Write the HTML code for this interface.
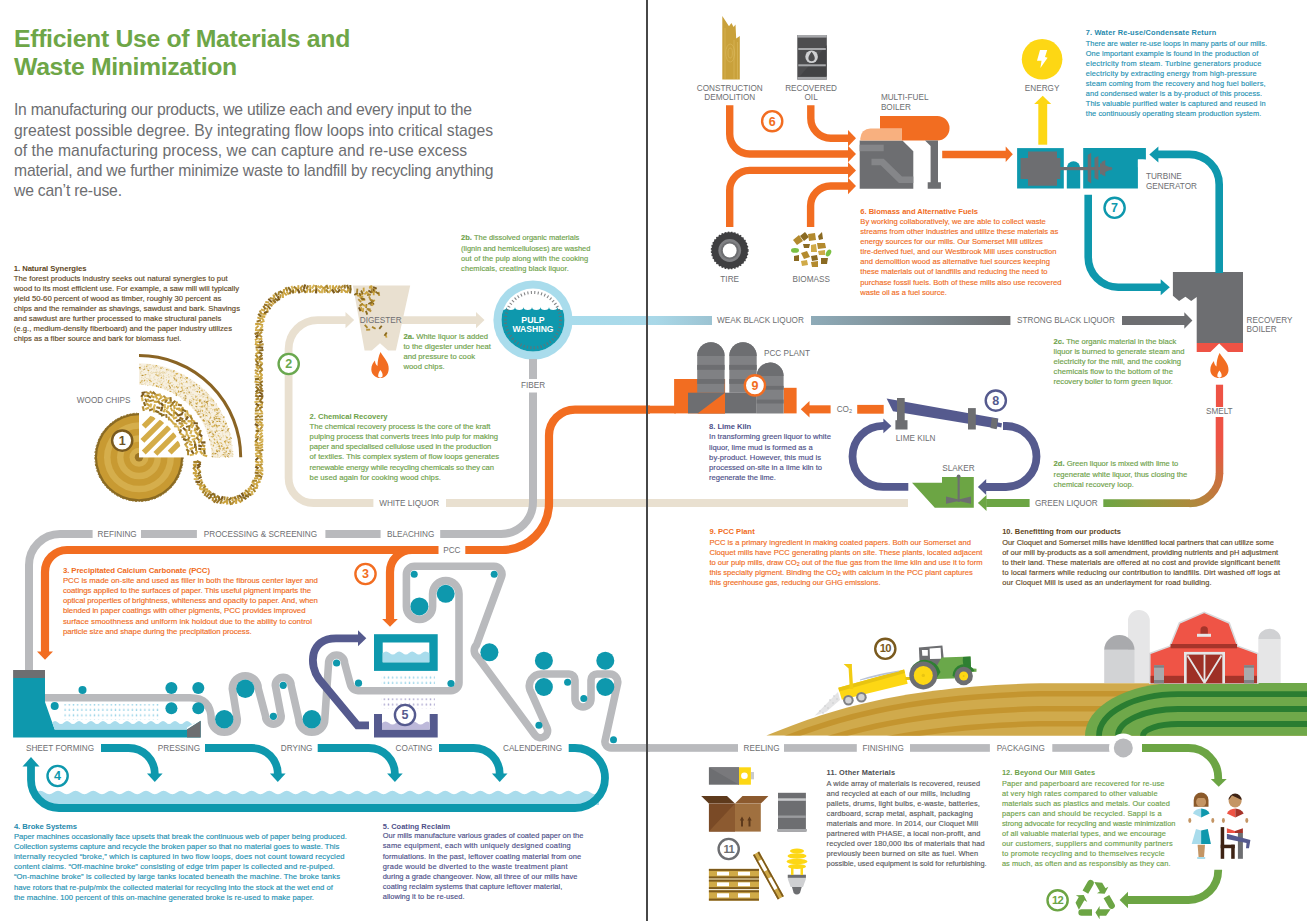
<!DOCTYPE html>
<html><head><meta charset="utf-8"><title>Efficient Use of Materials and Waste Minimization</title>
<style>
html,body{margin:0;padding:0;background:#fff}
body{width:1307px;height:921px;overflow:hidden;position:relative;font-family:"Liberation Sans",sans-serif}
svg{position:absolute;left:0;top:0;display:block}
.lb{font-family:"Liberation Sans",sans-serif;font-size:8.2px;fill:#6d6e71}
.tx{font-family:"Liberation Sans",sans-serif}
.hd{font-weight:bold}
</style></head><body>
<svg width="1307" height="921" viewBox="0 0 1307 921">
<defs>
  <pattern id="drops" width="4.2" height="5.4" patternUnits="userSpaceOnUse">
    <rect x="1.4" y="1.3" width="1.4" height="2.4" rx="0.6" fill="#9fd6e9"/>
  </pattern>
  <pattern id="pdrops" width="4.2" height="5.4" patternUnits="userSpaceOnUse">
    <rect x="1.4" y="1.3" width="1.4" height="2.4" rx="0.6" fill="#b3aed3"/>
  </pattern>
  <linearGradient id="wbl" x1="572" y1="0" x2="712" y2="0" gradientUnits="userSpaceOnUse">
    <stop offset="0" stop-color="#a9dcec"/><stop offset="0.6" stop-color="#a9d8e8"/><stop offset="1" stop-color="#9cc3d2"/>
  </linearGradient>
  <linearGradient id="sbl" x1="811" y1="0" x2="1010" y2="0" gradientUnits="userSpaceOnUse">
    <stop offset="0" stop-color="#8eabb8"/><stop offset="1" stop-color="#6f7072"/>
  </linearGradient>
  <linearGradient id="gl" x1="1103" y1="0" x2="1190" y2="0" gradientUnits="userSpaceOnUse">
    <stop offset="0" stop-color="#6ca544"/><stop offset="0.5" stop-color="#8f9a3e"/><stop offset="1" stop-color="#ad8a3c"/>
  </linearGradient>
  <linearGradient id="gc" x1="1219.5" y1="473.5" x2="1189.5" y2="503.5" gradientUnits="userSpaceOnUse">
    <stop offset="0" stop-color="#cf6d3e"/><stop offset="1" stop-color="#ad8a3c"/>
  </linearGradient>
  <linearGradient id="smelt" x1="0" y1="474" x2="0" y2="445" gradientUnits="userSpaceOnUse">
    <stop offset="0" stop-color="#cf6d3e"/><stop offset="1" stop-color="#ee5345"/>
  </linearGradient>
</defs>


<!-- ============ LEFT HALF GRAPHICS ============ -->
<g id="left">
  <!-- beige white liquor loop -->
  <g fill="none" stroke="#e9e0d0" stroke-width="7.8">
    <path d="M346 320.1 H317.6 A29 29 0 0 0 288.6 349.1 V478 A25 25 0 0 0 313.6 503 H373.4"/>
    <path d="M446 503 H908"/>
    <path d="M400 320.1 H477"/>
  </g>
  <path d="M345.5 312 L354.2 320.1 L345.5 328.2 Z" fill="#e9e0d0"/>
  <path d="M476 312 L484.5 320.1 L476 328.2 Z" fill="#e9e0d0"/>

  <!-- digester -->
  <path d="M352.9 285.4 H410.2 L395.9 350.5 H388.1 L380 343.2 L371.8 350.5 H364.6 Z" fill="#e9e0d0"/>

  <!-- chip stream -->
  <g id="stream"><!--STREAM-->
<rect x="196.5" y="460.9" width="4.6" height="2.3" fill="#9a7424" transform="rotate(207 198.8 462.0)"/>
<rect x="193.2" y="460.9" width="4.7" height="2.2" fill="#a8842a" transform="rotate(176 195.6 462.0)"/>
<rect x="196.8" y="463.6" width="4.3" height="2.1" fill="#7d5a1c" transform="rotate(152 198.9 464.7)"/>
<rect x="192.9" y="463.5" width="4.0" height="2.2" fill="#caa13c" transform="rotate(170 194.9 464.7)"/>
<rect x="196.4" y="466.4" width="4.4" height="2.0" fill="#7d5a1c" transform="rotate(140 198.6 467.3)"/>
<rect x="192.3" y="466.2" width="4.6" height="2.3" fill="#a8842a" transform="rotate(126 194.6 467.3)"/>
<rect x="196.9" y="469.3" width="4.3" height="2.2" fill="#d6b457" transform="rotate(230 199.1 470.3)"/>
<rect x="193.4" y="469.2" width="4.0" height="2.3" fill="#caa13c" transform="rotate(231 195.4 470.4)"/>
<rect x="197.2" y="471.9" width="3.9" height="1.9" fill="#8a6a1f" transform="rotate(137 199.2 472.9)"/>
<rect x="192.8" y="472.2" width="4.4" height="2.2" fill="#c9a23e" transform="rotate(184 195.0 473.3)"/>
<rect x="197.1" y="474.5" width="4.1" height="2.1" fill="#a8842a" transform="rotate(167 199.1 475.5)"/>
<rect x="194.2" y="475.0" width="3.8" height="2.2" fill="#caa13c" transform="rotate(221 196.1 476.1)"/>
<rect x="197.5" y="477.0" width="4.4" height="1.9" fill="#7d5a1c" transform="rotate(150 199.7 477.9)"/>
<rect x="193.7" y="478.0" width="4.8" height="1.9" fill="#d6b457" transform="rotate(178 196.1 479.0)"/>
<rect x="198.4" y="479.7" width="4.2" height="2.1" fill="#d0aa48" transform="rotate(142 200.5 480.8)"/>
<rect x="195.4" y="480.7" width="4.6" height="2.2" fill="#7d5a1c" transform="rotate(186 197.7 481.8)"/>
<rect x="199.4" y="482.2" width="4.3" height="2.0" fill="#a8842a" transform="rotate(121 201.5 483.2)"/>
<rect x="196.5" y="483.6" width="4.3" height="2.0" fill="#b8923a" transform="rotate(200 198.7 484.6)"/>
<rect x="200.7" y="484.4" width="4.5" height="2.0" fill="#d0aa48" transform="rotate(162 203.0 485.4)"/>
<rect x="197.9" y="486.0" width="4.8" height="2.1" fill="#caa13c" transform="rotate(99 200.3 487.1)"/>
<rect x="202.4" y="486.4" width="4.1" height="2.2" fill="#a8842a" transform="rotate(126 204.4 487.4)"/>
<rect x="200.0" y="488.2" width="3.8" height="2.1" fill="#d6b457" transform="rotate(189 201.9 489.3)"/>
<rect x="203.8" y="488.3" width="4.4" height="2.2" fill="#c9a23e" transform="rotate(188 206.0 489.4)"/>
<rect x="201.6" y="490.5" width="3.9" height="2.1" fill="#a8842a" transform="rotate(125 203.6 491.5)"/>
<rect x="205.3" y="490.5" width="4.8" height="2.1" fill="#d0aa48" transform="rotate(172 207.7 491.5)"/>
<rect x="203.2" y="493.0" width="4.1" height="2.1" fill="#a8842a" transform="rotate(113 205.3 494.1)"/>
<rect x="207.7" y="491.9" width="4.0" height="2.3" fill="#b8923a" transform="rotate(132 209.7 493.0)"/>
<rect x="205.6" y="494.5" width="4.3" height="2.1" fill="#9a7424" transform="rotate(128 207.7 495.5)"/>
<rect x="209.6" y="493.5" width="4.5" height="2.2" fill="#8a6a1f" transform="rotate(154 211.9 494.6)"/>
<rect x="208.0" y="496.3" width="4.1" height="2.1" fill="#8a6a1f" transform="rotate(146 210.0 497.4)"/>
<rect x="212.3" y="494.6" width="4.7" height="2.1" fill="#8a6a1f" transform="rotate(82 214.6 495.6)"/>
<rect x="210.8" y="497.9" width="4.1" height="2.1" fill="#b8923a" transform="rotate(93 212.8 499.0)"/>
<rect x="214.5" y="496.0" width="4.6" height="2.0" fill="#a8842a" transform="rotate(139 216.8 497.0)"/>
<rect x="212.9" y="499.6" width="4.8" height="2.3" fill="#9a7424" transform="rotate(133 215.3 500.7)"/>
<rect x="217.0" y="497.1" width="4.2" height="2.2" fill="#8a6a1f" transform="rotate(74 219.1 498.2)"/>
<rect x="215.7" y="500.6" width="4.5" height="2.0" fill="#9a7424" transform="rotate(132 218.0 501.5)"/>
<rect x="219.6" y="497.3" width="4.6" height="2.2" fill="#7d5a1c" transform="rotate(116 221.9 498.4)"/>
<rect x="218.9" y="500.9" width="4.4" height="2.0" fill="#a8842a" transform="rotate(112 221.1 501.9)"/>
<rect x="222.6" y="497.5" width="4.0" height="1.9" fill="#a8842a" transform="rotate(94 224.6 498.4)"/>
<rect x="222.0" y="501.2" width="4.3" height="2.1" fill="#caa13c" transform="rotate(148 224.2 502.3)"/>
<rect x="225.0" y="498.0" width="4.4" height="2.0" fill="#b8923a" transform="rotate(104 227.2 499.0)"/>
<rect x="225.1" y="501.4" width="4.1" height="2.1" fill="#c9a23e" transform="rotate(81 227.1 502.4)"/>
<rect x="227.8" y="498.1" width="4.3" height="2.0" fill="#8a6a1f" transform="rotate(137 230.0 499.1)"/>
<rect x="228.1" y="501.7" width="4.4" height="2.3" fill="#a8842a" transform="rotate(68 230.3 502.9)"/>
<rect x="230.6" y="498.1" width="4.2" height="2.0" fill="#caa13c" transform="rotate(97 232.7 499.0)"/>
<rect x="230.8" y="501.5" width="4.8" height="2.1" fill="#b8923a" transform="rotate(131 233.2 502.5)"/>
<rect x="233.3" y="497.2" width="4.1" height="2.3" fill="#9a7424" transform="rotate(62 235.4 498.3)"/>
<rect x="233.9" y="500.5" width="4.7" height="2.1" fill="#caa13c" transform="rotate(90 236.2 501.5)"/>
<rect x="235.9" y="496.2" width="4.5" height="2.1" fill="#a8842a" transform="rotate(67 238.1 497.3)"/>
<rect x="237.1" y="499.9" width="4.8" height="2.1" fill="#caa13c" transform="rotate(43 239.5 500.9)"/>
<rect x="238.2" y="495.8" width="4.7" height="2.0" fill="#7d5a1c" transform="rotate(44 240.6 496.7)"/>
<rect x="239.7" y="498.4" width="4.2" height="2.0" fill="#a8842a" transform="rotate(78 241.8 499.4)"/>
<rect x="240.6" y="493.4" width="4.1" height="2.3" fill="#7d5a1c" transform="rotate(63 242.6 494.6)"/>
<rect x="242.7" y="496.9" width="4.0" height="2.3" fill="#8a6a1f" transform="rotate(34 244.7 498.0)"/>
<rect x="243.1" y="492.8" width="4.7" height="2.3" fill="#c9a23e" transform="rotate(56 245.4 493.9)"/>
<rect x="245.0" y="495.1" width="4.1" height="2.2" fill="#8a6a1f" transform="rotate(13 247.1 496.2)"/>
<rect x="244.7" y="490.3" width="4.5" height="2.2" fill="#a8842a" transform="rotate(32 247.0 491.4)"/>
<rect x="247.4" y="493.2" width="4.3" height="2.3" fill="#9a7424" transform="rotate(21 249.5 494.3)"/>
<rect x="246.9" y="488.9" width="4.4" height="2.2" fill="#d0aa48" transform="rotate(77 249.1 490.0)"/>
<rect x="250.0" y="491.8" width="4.3" height="2.2" fill="#d6b457" transform="rotate(81 252.1 492.9)"/>
<rect x="248.9" y="486.9" width="4.1" height="1.9" fill="#caa13c" transform="rotate(66 250.9 487.8)"/>
<rect x="251.9" y="489.2" width="4.3" height="2.0" fill="#a8842a" transform="rotate(54 254.0 490.2)"/>
<rect x="250.5" y="484.7" width="4.1" height="2.0" fill="#9a7424" transform="rotate(32 252.6 485.7)"/>
<rect x="254.0" y="486.8" width="4.0" height="2.2" fill="#c9a23e" transform="rotate(-15 256.0 487.9)"/>
<rect x="251.1" y="481.9" width="4.8" height="2.3" fill="#d0aa48" transform="rotate(52 253.5 483.1)"/>
<rect x="254.9" y="483.8" width="4.0" height="2.2" fill="#c9a23e" transform="rotate(65 256.9 484.8)"/>
<rect x="252.3" y="479.7" width="4.7" height="2.0" fill="#a8842a" transform="rotate(-1 254.7 480.6)"/>
<rect x="256.3" y="481.2" width="4.4" height="1.9" fill="#c9a23e" transform="rotate(-16 258.5 482.2)"/>
<rect x="254.0" y="477.3" width="4.4" height="1.9" fill="#caa13c" transform="rotate(-8 256.2 478.2)"/>
<rect x="257.8" y="478.3" width="4.2" height="2.0" fill="#d0aa48" transform="rotate(-24 259.9 479.4)"/>
<rect x="255.1" y="474.6" width="3.9" height="2.2" fill="#a8842a" transform="rotate(-3 257.0 475.7)"/>
<rect x="258.3" y="475.2" width="4.1" height="2.3" fill="#9a7424" transform="rotate(31 260.4 476.3)"/>
<rect x="254.7" y="471.8" width="4.1" height="2.2" fill="#9a7424" transform="rotate(11 256.7 472.9)"/>
<rect x="258.9" y="472.3" width="4.7" height="2.1" fill="#caa13c" transform="rotate(40 261.2 473.3)"/>
<rect x="255.4" y="469.3" width="3.9" height="2.2" fill="#c9a23e" transform="rotate(18 257.3 470.4)"/>
<rect x="259.1" y="469.4" width="4.3" height="2.1" fill="#d0aa48" transform="rotate(1 261.3 470.4)"/>
<rect x="255.0" y="466.4" width="3.8" height="2.2" fill="#7d5a1c" transform="rotate(33 256.9 467.5)"/>
<rect x="259.1" y="466.4" width="4.2" height="2.2" fill="#c9a23e" transform="rotate(49 261.2 467.5)"/>
<rect x="255.5" y="463.8" width="4.0" height="2.2" fill="#caa13c" transform="rotate(-1 257.5 464.9)"/>
<rect x="258.7" y="463.8" width="4.1" height="2.1" fill="#b8923a" transform="rotate(-29 260.8 464.9)"/>
<rect x="254.9" y="460.9" width="4.2" height="2.0" fill="#caa13c" transform="rotate(24 257.0 461.9)"/>
<rect x="259.4" y="460.8" width="3.8" height="2.3" fill="#d6b457" transform="rotate(-15 261.4 461.9)"/>
<rect x="255.1" y="457.9" width="3.8" height="2.0" fill="#7d5a1c" transform="rotate(-44 257.0 458.9)"/>
<rect x="258.7" y="457.9" width="4.5" height="2.0" fill="#caa13c" transform="rotate(48 260.9 458.9)"/>
<rect x="255.4" y="455.1" width="4.2" height="2.1" fill="#c9a23e" transform="rotate(13 257.5 456.1)"/>
<rect x="258.7" y="455.0" width="3.9" height="2.2" fill="#d0aa48" transform="rotate(17 260.6 456.1)"/>
<rect x="254.9" y="452.4" width="4.0" height="2.0" fill="#d6b457" transform="rotate(-24 256.9 453.4)"/>
<rect x="258.4" y="452.3" width="4.1" height="2.2" fill="#b8923a" transform="rotate(44 260.4 453.4)"/>
<rect x="255.2" y="449.2" width="4.3" height="2.3" fill="#c9a23e" transform="rotate(19 257.3 450.4)"/>
<rect x="259.1" y="449.4" width="4.3" height="2.0" fill="#a8842a" transform="rotate(-19 261.2 450.4)"/>
<rect x="255.1" y="446.7" width="4.5" height="2.1" fill="#b8923a" transform="rotate(8 257.3 447.7)"/>
<rect x="259.0" y="446.8" width="4.2" height="1.9" fill="#d0aa48" transform="rotate(-35 261.1 447.7)"/>
<rect x="254.5" y="444.0" width="4.7" height="2.2" fill="#caa13c" transform="rotate(19 256.8 445.1)"/>
<rect x="259.0" y="444.0" width="4.3" height="2.1" fill="#caa13c" transform="rotate(-25 261.1 445.1)"/>
<rect x="254.3" y="441.3" width="4.6" height="2.1" fill="#c9a23e" transform="rotate(37 256.6 442.4)"/>
<rect x="258.8" y="441.4" width="4.6" height="1.9" fill="#d0aa48" transform="rotate(-29 261.1 442.4)"/>
<rect x="254.7" y="438.8" width="4.2" height="1.9" fill="#8a6a1f" transform="rotate(-49 256.8 439.7)"/>
<rect x="259.0" y="438.6" width="4.4" height="2.3" fill="#d6b457" transform="rotate(-6 261.2 439.7)"/>
<rect x="254.9" y="436.1" width="4.3" height="1.9" fill="#b8923a" transform="rotate(-11 257.1 437.1)"/>
<rect x="258.8" y="436.1" width="4.8" height="2.0" fill="#c9a23e" transform="rotate(-45 261.2 437.1)"/>
<rect x="254.6" y="433.0" width="4.3" height="2.1" fill="#caa13c" transform="rotate(-53 256.8 434.0)"/>
<rect x="259.0" y="432.9" width="3.8" height="2.2" fill="#d0aa48" transform="rotate(-40 260.9 434.0)"/>
<rect x="255.6" y="429.9" width="3.9" height="2.1" fill="#8a6a1f" transform="rotate(6 257.6 431.0)"/>
<rect x="259.3" y="430.0" width="3.9" height="1.9" fill="#d6b457" transform="rotate(-21 261.2 431.0)"/>
<rect x="255.2" y="427.0" width="4.5" height="2.0" fill="#d0aa48" transform="rotate(51 257.4 428.0)"/>
<rect x="259.1" y="427.0" width="4.0" height="2.0" fill="#b8923a" transform="rotate(-50 261.1 428.0)"/>
<rect x="254.6" y="423.9" width="4.2" height="2.2" fill="#7d5a1c" transform="rotate(30 256.7 425.0)"/>
<rect x="259.0" y="423.9" width="4.6" height="2.1" fill="#d0aa48" transform="rotate(17 261.3 425.0)"/>
<rect x="255.4" y="421.4" width="3.8" height="1.9" fill="#caa13c" transform="rotate(31 257.3 422.3)"/>
<rect x="258.6" y="421.3" width="4.2" height="2.0" fill="#c9a23e" transform="rotate(34 260.7 422.3)"/>
<rect x="254.7" y="418.6" width="4.1" height="1.9" fill="#9a7424" transform="rotate(-0 256.7 419.6)"/>
<rect x="259.3" y="418.6" width="3.8" height="1.9" fill="#a8842a" transform="rotate(6 261.2 419.6)"/>
<rect x="254.7" y="415.6" width="4.8" height="1.9" fill="#9a7424" transform="rotate(-27 257.0 416.6)"/>
<rect x="258.8" y="415.6" width="4.1" height="1.9" fill="#a8842a" transform="rotate(-15 260.8 416.6)"/>
<rect x="254.7" y="412.5" width="4.0" height="2.2" fill="#d0aa48" transform="rotate(3 256.7 413.6)"/>
<rect x="259.0" y="412.6" width="4.2" height="2.0" fill="#d0aa48" transform="rotate(-7 261.2 413.6)"/>
<rect x="254.9" y="409.4" width="4.2" height="2.2" fill="#a8842a" transform="rotate(-7 257.1 410.5)"/>
<rect x="258.7" y="409.6" width="4.4" height="1.9" fill="#caa13c" transform="rotate(52 260.9 410.5)"/>
<rect x="254.5" y="406.6" width="4.7" height="2.0" fill="#b8923a" transform="rotate(-55 256.8 407.6)"/>
<rect x="258.8" y="406.6" width="4.1" height="2.0" fill="#9a7424" transform="rotate(-31 260.8 407.6)"/>
<rect x="255.3" y="403.6" width="4.2" height="2.2" fill="#7d5a1c" transform="rotate(31 257.4 404.7)"/>
<rect x="259.0" y="403.6" width="3.9" height="2.2" fill="#d0aa48" transform="rotate(-11 261.0 404.7)"/>
<rect x="254.4" y="400.9" width="4.6" height="2.0" fill="#d6b457" transform="rotate(-11 256.7 401.9)"/>
<rect x="259.1" y="400.9" width="4.3" height="2.1" fill="#9a7424" transform="rotate(28 261.2 401.9)"/>
<rect x="255.5" y="398.0" width="3.8" height="2.1" fill="#a8842a" transform="rotate(-14 257.4 399.0)"/>
<rect x="259.0" y="398.0" width="4.5" height="2.1" fill="#9a7424" transform="rotate(-53 261.2 399.0)"/>
<rect x="255.0" y="395.1" width="4.2" height="2.3" fill="#9a7424" transform="rotate(22 257.1 396.2)"/>
<rect x="258.8" y="395.2" width="4.6" height="2.0" fill="#7d5a1c" transform="rotate(4 261.1 396.2)"/>
<rect x="255.2" y="392.3" width="3.9" height="1.9" fill="#b8923a" transform="rotate(-24 257.1 393.3)"/>
<rect x="258.6" y="392.3" width="4.7" height="2.1" fill="#7d5a1c" transform="rotate(40 261.0 393.3)"/>
<rect x="255.0" y="389.5" width="4.6" height="2.2" fill="#8a6a1f" transform="rotate(-47 257.3 390.6)"/>
<rect x="259.0" y="389.5" width="4.6" height="2.2" fill="#9a7424" transform="rotate(21 261.3 390.6)"/>
<rect x="255.1" y="386.7" width="4.0" height="2.3" fill="#9a7424" transform="rotate(44 257.1 387.9)"/>
<rect x="258.6" y="386.8" width="4.5" height="2.1" fill="#9a7424" transform="rotate(52 260.8 387.9)"/>
<rect x="255.4" y="383.8" width="4.2" height="1.9" fill="#9a7424" transform="rotate(12 257.5 384.8)"/>
<rect x="259.1" y="383.8" width="4.0" height="1.9" fill="#8a6a1f" transform="rotate(53 261.1 384.8)"/>
<rect x="254.5" y="381.1" width="4.7" height="2.0" fill="#caa13c" transform="rotate(13 256.9 382.1)"/>
<rect x="259.2" y="381.0" width="3.9" height="2.1" fill="#9a7424" transform="rotate(-30 261.2 382.1)"/>
<rect x="254.9" y="378.0" width="4.3" height="2.3" fill="#8a6a1f" transform="rotate(-8 257.0 379.1)"/>
<rect x="258.5" y="378.1" width="4.7" height="2.0" fill="#caa13c" transform="rotate(-46 260.8 379.1)"/>
<rect x="254.5" y="375.5" width="4.4" height="2.0" fill="#d6b457" transform="rotate(7 256.7 376.5)"/>
<rect x="258.4" y="375.5" width="4.6" height="2.0" fill="#c9a23e" transform="rotate(-44 260.7 376.5)"/>
<rect x="254.7" y="372.8" width="4.8" height="2.0" fill="#d0aa48" transform="rotate(37 257.1 373.8)"/>
<rect x="259.0" y="372.8" width="4.0" height="2.2" fill="#d0aa48" transform="rotate(47 261.0 373.8)"/>
<rect x="254.6" y="369.8" width="3.9" height="2.0" fill="#b8923a" transform="rotate(19 256.6 370.8)"/>
<rect x="258.7" y="369.7" width="4.6" height="2.2" fill="#a8842a" transform="rotate(-43 261.0 370.8)"/>
<rect x="255.3" y="366.7" width="4.4" height="2.3" fill="#c9a23e" transform="rotate(50 257.5 367.9)"/>
<rect x="258.8" y="366.9" width="4.0" height="2.0" fill="#a8842a" transform="rotate(35 260.8 367.9)"/>
<rect x="255.3" y="364.0" width="3.9" height="2.1" fill="#9a7424" transform="rotate(27 257.3 365.0)"/>
<rect x="258.5" y="363.9" width="4.8" height="2.3" fill="#a8842a" transform="rotate(-54 260.9 365.0)"/>
<rect x="254.7" y="361.1" width="4.7" height="1.9" fill="#8a6a1f" transform="rotate(51 257.1 362.1)"/>
<rect x="258.0" y="361.0" width="4.8" height="2.2" fill="#d6b457" transform="rotate(34 260.4 362.1)"/>
<rect x="254.8" y="357.9" width="4.3" height="2.2" fill="#c9a23e" transform="rotate(-23 257.0 359.0)"/>
<rect x="258.9" y="357.9" width="4.1" height="2.2" fill="#9a7424" transform="rotate(-22 261.0 359.0)"/>
<rect x="254.8" y="355.1" width="4.1" height="2.2" fill="#a8842a" transform="rotate(53 256.8 356.2)"/>
<rect x="258.5" y="355.1" width="4.3" height="2.3" fill="#9a7424" transform="rotate(-44 260.7 356.2)"/>
<rect x="255.3" y="352.2" width="4.3" height="2.0" fill="#c9a23e" transform="rotate(-28 257.5 353.2)"/>
<rect x="258.3" y="352.2" width="4.2" height="1.9" fill="#8a6a1f" transform="rotate(29 260.4 353.2)"/>
<rect x="255.6" y="349.2" width="3.9" height="2.3" fill="#d6b457" transform="rotate(40 257.6 350.3)"/>
<rect x="259.2" y="349.3" width="4.3" height="1.9" fill="#8a6a1f" transform="rotate(-6 261.4 350.3)"/>
<rect x="255.5" y="346.4" width="3.8" height="2.0" fill="#9a7424" transform="rotate(-3 257.4 347.4)"/>
<rect x="258.5" y="346.3" width="4.7" height="2.2" fill="#7d5a1c" transform="rotate(10 260.8 347.4)"/>
<rect x="254.7" y="343.6" width="4.6" height="2.2" fill="#caa13c" transform="rotate(25 257.0 344.7)"/>
<rect x="258.9" y="343.6" width="4.8" height="2.2" fill="#b8923a" transform="rotate(-13 261.3 344.7)"/>
<rect x="255.0" y="340.9" width="4.8" height="2.3" fill="#d6b457" transform="rotate(-9 257.4 342.0)"/>
<rect x="258.8" y="341.0" width="3.9" height="2.0" fill="#7d5a1c" transform="rotate(-34 260.8 342.0)"/>
<rect x="254.6" y="338.1" width="4.3" height="1.9" fill="#caa13c" transform="rotate(-36 256.7 339.1)"/>
<rect x="258.5" y="338.0" width="3.9" height="2.2" fill="#d0aa48" transform="rotate(-10 260.4 339.1)"/>
<rect x="255.2" y="334.9" width="4.0" height="2.3" fill="#7d5a1c" transform="rotate(-40 257.2 336.0)"/>
<rect x="258.5" y="335.0" width="3.9" height="2.0" fill="#b8923a" transform="rotate(34 260.4 336.0)"/>
<rect x="254.5" y="332.1" width="4.7" height="2.3" fill="#9a7424" transform="rotate(-23 256.8 333.3)"/>
<rect x="258.3" y="332.2" width="4.4" height="2.0" fill="#b8923a" transform="rotate(-43 260.5 333.3)"/>
<rect x="258.5" y="329.1" width="4.7" height="2.3" fill="#a8842a" transform="rotate(-185 260.9 330.2)"/>
<rect x="255.1" y="329.2" width="4.5" height="2.0" fill="#d0aa48" transform="rotate(-174 257.3 330.2)"/>
<rect x="259.5" y="326.5" width="4.0" height="2.0" fill="#d6b457" transform="rotate(-228 261.5 327.5)"/>
<rect x="254.8" y="326.1" width="4.3" height="1.9" fill="#caa13c" transform="rotate(-224 257.0 327.1)"/>
<rect x="259.0" y="323.5" width="4.2" height="1.9" fill="#c9a23e" transform="rotate(-164 261.1 324.5)"/>
<rect x="255.1" y="322.8" width="4.3" height="2.2" fill="#caa13c" transform="rotate(-185 257.3 323.9)"/>
<rect x="259.8" y="320.7" width="4.7" height="1.9" fill="#d0aa48" transform="rotate(-203 262.2 321.7)"/>
<rect x="256.5" y="319.9" width="4.4" height="1.9" fill="#9a7424" transform="rotate(-198 258.7 320.9)"/>
<rect x="260.7" y="318.1" width="3.9" height="2.0" fill="#d0aa48" transform="rotate(-127 262.6 319.1)"/>
<rect x="257.4" y="317.2" width="4.4" height="1.9" fill="#c9a23e" transform="rotate(-156 259.5 318.2)"/>
<rect x="261.1" y="315.5" width="4.1" height="2.2" fill="#d0aa48" transform="rotate(-173 263.2 316.6)"/>
<rect x="257.7" y="314.2" width="4.1" height="2.2" fill="#8a6a1f" transform="rotate(-133 259.7 315.3)"/>
<rect x="262.4" y="313.1" width="4.1" height="2.3" fill="#d0aa48" transform="rotate(-183 264.4 314.2)"/>
<rect x="258.5" y="311.5" width="4.4" height="2.1" fill="#b8923a" transform="rotate(-118 260.7 312.5)"/>
<rect x="263.9" y="311.0" width="4.6" height="2.1" fill="#7d5a1c" transform="rotate(-202 266.2 312.1)"/>
<rect x="260.8" y="309.2" width="4.2" height="2.1" fill="#d0aa48" transform="rotate(-161 262.9 310.2)"/>
<rect x="265.5" y="308.6" width="3.9" height="1.9" fill="#c9a23e" transform="rotate(-98 267.4 309.6)"/>
<rect x="262.3" y="306.6" width="4.1" height="2.1" fill="#9a7424" transform="rotate(-124 264.4 307.6)"/>
<rect x="266.8" y="306.4" width="4.6" height="1.9" fill="#8a6a1f" transform="rotate(-128 269.1 307.4)"/>
<rect x="264.0" y="303.9" width="3.8" height="2.2" fill="#9a7424" transform="rotate(-166 265.9 305.0)"/>
<rect x="268.3" y="303.8" width="4.5" height="2.3" fill="#b8923a" transform="rotate(-153 270.5 304.9)"/>
<rect x="265.4" y="301.1" width="3.9" height="2.0" fill="#c9a23e" transform="rotate(-172 267.3 302.2)"/>
<rect x="270.4" y="301.9" width="4.2" height="2.0" fill="#d0aa48" transform="rotate(-133 272.5 302.9)"/>
<rect x="267.6" y="299.4" width="4.7" height="2.0" fill="#7d5a1c" transform="rotate(-135 270.0 300.4)"/>
<rect x="272.3" y="300.1" width="4.3" height="2.3" fill="#9a7424" transform="rotate(-132 274.4 301.3)"/>
<rect x="269.7" y="297.5" width="4.4" height="2.0" fill="#b8923a" transform="rotate(-168 271.9 298.5)"/>
<rect x="274.5" y="298.6" width="4.2" height="2.3" fill="#8a6a1f" transform="rotate(-155 276.5 299.7)"/>
<rect x="272.0" y="295.3" width="3.9" height="2.2" fill="#c9a23e" transform="rotate(-105 274.0 296.4)"/>
<rect x="276.3" y="297.1" width="4.6" height="2.1" fill="#7d5a1c" transform="rotate(-110 278.6 298.2)"/>
<rect x="274.1" y="293.5" width="4.0" height="2.0" fill="#8a6a1f" transform="rotate(-120 276.1 294.5)"/>
<rect x="278.3" y="295.2" width="4.1" height="2.0" fill="#b8923a" transform="rotate(-79 280.4 296.2)"/>
<rect x="276.7" y="292.3" width="3.9" height="2.0" fill="#a8842a" transform="rotate(-80 278.7 293.3)"/>
<rect x="280.6" y="294.6" width="4.8" height="2.1" fill="#d0aa48" transform="rotate(-91 282.9 295.7)"/>
<rect x="279.1" y="290.9" width="3.8" height="2.1" fill="#8a6a1f" transform="rotate(-147 281.1 292.0)"/>
<rect x="283.1" y="293.0" width="4.2" height="1.9" fill="#caa13c" transform="rotate(-133 285.2 293.9)"/>
<rect x="282.0" y="289.9" width="3.9" height="2.1" fill="#c9a23e" transform="rotate(-84 283.9 291.0)"/>
<rect x="285.9" y="291.9" width="3.9" height="2.0" fill="#d0aa48" transform="rotate(-122 287.8 293.0)"/>
<rect x="284.5" y="288.0" width="4.0" height="2.1" fill="#a8842a" transform="rotate(-117 286.5 289.1)"/>
<rect x="288.3" y="291.1" width="4.1" height="2.2" fill="#9a7424" transform="rotate(-59 290.4 292.2)"/>
<rect x="287.2" y="288.0" width="4.7" height="2.2" fill="#8a6a1f" transform="rotate(-127 289.5 289.1)"/>
<rect x="290.8" y="290.3" width="4.3" height="2.0" fill="#8a6a1f" transform="rotate(-93 293.0 291.3)"/>
<rect x="290.0" y="287.0" width="4.5" height="1.9" fill="#d6b457" transform="rotate(-112 292.3 288.0)"/>
<rect x="293.5" y="289.8" width="4.2" height="2.0" fill="#d6b457" transform="rotate(-68 295.7 290.8)"/>
<rect x="293.1" y="286.7" width="4.2" height="2.1" fill="#a8842a" transform="rotate(-143 295.3 287.8)"/>
<rect x="296.2" y="289.9" width="4.7" height="2.2" fill="#7d5a1c" transform="rotate(-116 298.6 291.0)"/>
<rect x="296.3" y="286.2" width="4.0" height="1.9" fill="#d0aa48" transform="rotate(-87 298.3 287.1)"/>
<rect x="299.0" y="286.1" width="4.7" height="2.0" fill="#b8923a" transform="rotate(131 301.4 287.1)"/>
<rect x="299.2" y="289.4" width="4.3" height="2.0" fill="#b8923a" transform="rotate(67 301.4 290.5)"/>
<rect x="302.2" y="285.6" width="4.6" height="2.2" fill="#7d5a1c" transform="rotate(107 304.5 286.7)"/>
<rect x="302.1" y="289.9" width="4.8" height="2.1" fill="#8a6a1f" transform="rotate(53 304.5 290.9)"/>
<rect x="305.2" y="286.3" width="4.1" height="2.2" fill="#9a7424" transform="rotate(109 307.3 287.4)"/>
<rect x="305.0" y="289.8" width="4.6" height="1.9" fill="#d0aa48" transform="rotate(111 307.3 290.7)"/>
<rect x="308.1" y="286.1" width="4.3" height="2.0" fill="#d6b457" transform="rotate(88 310.2 287.1)"/>
<rect x="308.2" y="289.9" width="3.9" height="2.0" fill="#a8842a" transform="rotate(88 310.2 290.9)"/>
<rect x="311.0" y="285.8" width="4.5" height="2.1" fill="#d6b457" transform="rotate(126 313.2 286.8)"/>
<rect x="311.2" y="290.0" width="4.0" height="2.0" fill="#c9a23e" transform="rotate(136 313.2 291.0)"/>
<rect x="314.1" y="286.0" width="4.1" height="2.2" fill="#b8923a" transform="rotate(83 316.2 287.1)"/>
<rect x="313.9" y="289.9" width="4.6" height="2.2" fill="#7d5a1c" transform="rotate(96 316.2 291.0)"/>
<rect x="317.1" y="286.1" width="4.2" height="2.1" fill="#d6b457" transform="rotate(35 319.2 287.1)"/>
<rect x="317.1" y="290.1" width="4.3" height="2.1" fill="#d0aa48" transform="rotate(47 319.2 291.2)"/>
<rect x="319.8" y="286.0" width="4.6" height="2.2" fill="#d0aa48" transform="rotate(38 322.1 287.1)"/>
<rect x="319.8" y="290.1" width="4.5" height="2.2" fill="#d6b457" transform="rotate(103 322.1 291.2)"/>
<rect x="322.7" y="286.5" width="4.0" height="1.9" fill="#b8923a" transform="rotate(144 324.7 287.5)"/>
<rect x="322.3" y="289.6" width="4.7" height="2.0" fill="#caa13c" transform="rotate(94 324.7 290.6)"/>
<rect x="325.0" y="286.0" width="4.5" height="2.1" fill="#a8842a" transform="rotate(68 327.3 287.0)"/>
<rect x="325.2" y="290.2" width="4.2" height="2.0" fill="#a8842a" transform="rotate(48 327.3 291.2)"/>
<rect x="328.2" y="286.0" width="3.8" height="2.1" fill="#d6b457" transform="rotate(80 330.1 287.1)"/>
<rect x="327.8" y="290.0" width="4.5" height="2.2" fill="#d6b457" transform="rotate(130 330.1 291.1)"/>
<rect x="330.9" y="286.3" width="4.5" height="2.2" fill="#d0aa48" transform="rotate(81 333.1 287.4)"/>
<rect x="331.0" y="290.0" width="4.4" height="2.2" fill="#7d5a1c" transform="rotate(57 333.1 291.1)"/>
<rect x="333.8" y="286.2" width="4.2" height="1.9" fill="#caa13c" transform="rotate(127 335.8 287.1)"/>
<rect x="333.8" y="289.8" width="4.1" height="1.9" fill="#a8842a" transform="rotate(51 335.8 290.8)"/>
<rect x="336.5" y="286.5" width="4.5" height="2.1" fill="#b8923a" transform="rotate(117 338.8 287.5)"/>
<rect x="336.6" y="290.1" width="4.3" height="2.0" fill="#7d5a1c" transform="rotate(132 338.8 291.1)"/>
<rect x="339.7" y="285.9" width="4.1" height="2.1" fill="#b8923a" transform="rotate(132 341.8 287.0)"/>
<rect x="339.8" y="290.0" width="4.0" height="2.1" fill="#d0aa48" transform="rotate(94 341.8 291.0)"/>
<rect x="342.9" y="285.6" width="3.9" height="2.1" fill="#9a7424" transform="rotate(88 344.8 286.6)"/>
<rect x="342.6" y="289.9" width="4.5" height="2.0" fill="#c9a23e" transform="rotate(44 344.8 290.9)"/>
<rect x="345.5" y="285.9" width="4.7" height="2.2" fill="#8a6a1f" transform="rotate(70 347.8 287.0)"/>
<rect x="345.4" y="289.9" width="4.7" height="2.3" fill="#c9a23e" transform="rotate(121 347.8 291.0)"/>
<rect x="348.3" y="286.1" width="4.2" height="2.0" fill="#8a6a1f" transform="rotate(87 350.4 287.1)"/>
<rect x="348.0" y="290.0" width="4.8" height="2.1" fill="#8a6a1f" transform="rotate(98 350.4 291.0)"/>
<!--/STREAM--></g>
  <g>
    <rect x="359.3" y="303.9" width="4" height="1.8" fill="#c9a23e" transform="rotate(123 361.3 304.8)"/>
    <rect x="370.3" y="303.4" width="4" height="1.8" fill="#7d5a1c" transform="rotate(156 372.3 304.3)"/>
    <rect x="372.6" y="289.5" width="4" height="1.8" fill="#c9a23e" transform="rotate(96 374.6 290.4)"/>
    <rect x="372.9" y="286.9" width="4" height="1.8" fill="#7d5a1c" transform="rotate(23 374.9 287.8)"/>
    <rect x="369.0" y="286.5" width="4" height="1.8" fill="#c9a23e" transform="rotate(50 371.0 287.4)"/>
    <rect x="376.9" y="292.9" width="4" height="1.8" fill="#b8923a" transform="rotate(81 378.9 293.8)"/>
    <rect x="359.2" y="308.2" width="4" height="1.8" fill="#caa13c" transform="rotate(88 361.2 309.1)"/>
    <rect x="367.8" y="297.3" width="4" height="1.8" fill="#b8923a" transform="rotate(66 369.8 298.2)"/>
    <rect x="369.9" y="303.1" width="4" height="1.8" fill="#caa13c" transform="rotate(62 371.9 304.0)"/>
    <rect x="371.3" y="300.5" width="4" height="1.8" fill="#c9a23e" transform="rotate(135 373.3 301.4)"/>
    <rect x="364.3" y="305.1" width="4" height="1.8" fill="#a8842a" transform="rotate(96 366.3 306.0)"/>
    <rect x="357.7" y="299.7" width="4" height="1.8" fill="#b8923a" transform="rotate(46 359.7 300.6)"/>
    <rect x="359.3" y="293.4" width="4" height="1.8" fill="#caa13c" transform="rotate(160 361.3 294.3)"/>
    <rect x="365.7" y="292.2" width="4" height="1.8" fill="#c9a23e" transform="rotate(42 367.7 293.1)"/>
    <rect x="371.6" y="289.5" width="4" height="1.8" fill="#7d5a1c" transform="rotate(77 373.6 290.4)"/>
    <rect x="369.9" y="290.3" width="4" height="1.8" fill="#a8842a" transform="rotate(74 371.9 291.2)"/>
    <rect x="357.7" y="308.3" width="4" height="1.8" fill="#7d5a1c" transform="rotate(67 359.7 309.2)"/>
    <rect x="371.7" y="292.3" width="4" height="1.8" fill="#caa13c" transform="rotate(89 373.7 293.2)"/>
    <rect x="368.0" y="290.8" width="4" height="1.8" fill="#7d5a1c" transform="rotate(35 370.0 291.7)"/>
    <rect x="367.5" y="309.5" width="4" height="1.8" fill="#b8923a" transform="rotate(30 369.5 310.4)"/>
    <rect x="370.0" y="300.6" width="4" height="1.8" fill="#8a6a1f" transform="rotate(98 372.0 301.5)"/>
    <rect x="370.1" y="299.8" width="4" height="1.8" fill="#a8842a" transform="rotate(23 372.1 300.7)"/>
    <rect x="355.4" y="293.9" width="4" height="1.8" fill="#caa13c" transform="rotate(48 357.4 294.8)"/>
    <rect x="366.6" y="308.2" width="4" height="1.8" fill="#a8842a" transform="rotate(6 368.6 309.1)"/>
    <rect x="361.4" y="299.0" width="4" height="1.8" fill="#caa13c" transform="rotate(175 363.4 299.9)"/>
    <rect x="375.1" y="291.9" width="4" height="1.8" fill="#8a6a1f" transform="rotate(37 377.1 292.8)"/>
    <rect x="362.5" y="304.7" width="4" height="1.8" fill="#c9a23e" transform="rotate(28 364.5 305.6)"/>
    <rect x="359.2" y="303.9" width="4" height="1.8" fill="#a8842a" transform="rotate(153 361.2 304.8)"/>
    <rect x="363.9" y="292.2" width="4" height="1.8" fill="#caa13c" transform="rotate(139 365.9 293.1)"/>
    <rect x="360.0" y="291.4" width="4" height="1.8" fill="#8a6a1f" transform="rotate(63 362.0 292.3)"/>
    <rect x="360.9" y="298.1" width="4" height="1.8" fill="#8a6a1f" transform="rotate(12 362.9 299.0)"/>
    <rect x="368.8" y="286.2" width="4" height="1.8" fill="#c9a23e" transform="rotate(139 370.8 287.1)"/>
    <rect x="364.6" y="311.9" width="4" height="1.8" fill="#8a6a1f" transform="rotate(70 366.6 312.8)"/>
    <rect x="360.1" y="297.4" width="4" height="1.8" fill="#8a6a1f" transform="rotate(25 362.1 298.3)"/>
    <rect x="358.1" y="294.0" width="4" height="1.8" fill="#8a6a1f" transform="rotate(70 360.1 294.9)"/>
    <rect x="361.7" y="288.7" width="4" height="1.8" fill="#caa13c" transform="rotate(88 363.7 289.6)"/>
    <rect x="361.0" y="309.3" width="4" height="1.8" fill="#c9a23e" transform="rotate(98 363.0 310.2)"/>
    <rect x="354.0" y="293.0" width="4" height="1.8" fill="#8a6a1f" transform="rotate(148 356.0 293.9)"/>
    <rect x="368.1" y="302.2" width="4" height="1.8" fill="#8a6a1f" transform="rotate(151 370.1 303.1)"/>
    <rect x="355.2" y="289.7" width="4" height="1.8" fill="#a8842a" transform="rotate(96 357.2 290.6)"/>
    <rect x="366.9" y="293.9" width="4" height="1.8" fill="#a8842a" transform="rotate(173 368.9 294.8)"/>
    <rect x="359.3" y="295.8" width="4" height="1.8" fill="#c9a23e" transform="rotate(168 361.3 296.7)"/>
    <rect x="378.5" y="326.4" width="4" height="1.8" fill="#8a6a1f" transform="rotate(129 380.5 327.3)"/>
    <rect x="384.0" y="334.8" width="4" height="1.8" fill="#caa13c" transform="rotate(76 386.0 335.7)"/>
    <rect x="383.6" y="333.2" width="4" height="1.8" fill="#8a6a1f" transform="rotate(126 385.6 334.1)"/>
    <rect x="366.2" y="328.8" width="4" height="1.8" fill="#b8923a" transform="rotate(179 368.2 329.7)"/>
    <rect x="371.8" y="326.9" width="4" height="1.8" fill="#a8842a" transform="rotate(27 373.8 327.8)"/>
    <rect x="364.1" y="325.5" width="4" height="1.8" fill="#a8842a" transform="rotate(47 366.1 326.4)"/>
  </g>

  <!-- flame under digester -->
  <path d="M380.5 352 C384 358 389 362 388.7 369 C388.5 375 384.5 378 380.3 378.1 C376 378 371.5 375 371.3 369.5 C371.2 365 373.5 362 375 360.5 C375 363 376 365 377.5 366 C377.5 361 378.5 356 380.5 352 Z" fill="#f26d21"/>
  <path d="M380.3 370 C382 372 383 374 382.5 376.5 C381.5 378 379 378 378.2 376.5 C377.8 374.5 379 372 380.3 370 Z" fill="#fff"/>

  <!-- circle 2 -->
  <circle cx="288.7" cy="364.0" r="10.1" fill="#fff" stroke="#6aa84f" stroke-width="2.4"/>
  <text x="288.7" y="368.3" text-anchor="middle" class="tx hd" font-size="12.5" fill="#6aa84f">2</text>

  <!-- wood log and chips -->
  <circle cx="139" cy="457.3" r="44.2" fill="#8a6a22" stroke="#8a6a22" stroke-width="1" stroke-dasharray="2 1.5 1 2"/>
  <circle cx="139" cy="457.3" r="42" fill="#c89a32"/>
  <circle cx="139" cy="457.3" r="35" fill="#d5ae4c"/>
  <circle cx="139" cy="457.3" r="28.5" fill="#c89a32"/>
  <circle cx="139" cy="457.3" r="22" fill="#d5ae4c"/>
  <circle cx="139" cy="457.3" r="15.5" fill="#c89a32"/>
  <circle cx="139" cy="457.3" r="9.5" fill="#d5ae4c"/>
  <circle cx="139" cy="457.3" r="4.2" fill="#9a7424"/>
  <!-- quarter -->
  <path d="M139 457.3 V355 A102.3 102.3 0 0 1 241.3 457.3 Z" fill="#fff"/>
  <path d="M139 355.6 A101.7 101.7 0 0 1 240.7 457.3" fill="none" stroke="#8a6424" stroke-width="3"/>
  <path d="M139 363.3 A94 94 0 0 1 233 457.3 H211.5 A72.5 72.5 0 0 0 139 384.8 Z" fill="#f7f0e1"/>
<g id="dust"><!--DUST-->
<rect x="185.0" y="388.0" width="0.9" height="0.9" fill="#e4cf9b"/>
<rect x="206.2" y="419.9" width="0.9" height="0.9" fill="#eddfb9"/>
<rect x="221.9" y="443.9" width="0.9" height="0.9" fill="#e9d8ab"/>
<rect x="218.9" y="449.3" width="0.9" height="0.9" fill="#e9d8ab"/>
<rect x="162.3" y="371.7" width="0.9" height="0.9" fill="#dcc286"/>
<rect x="196.3" y="384.0" width="0.9" height="0.9" fill="#e4cf9b"/>
<rect x="152.6" y="380.3" width="0.9" height="0.9" fill="#e9d8ab"/>
<rect x="189.8" y="383.5" width="0.9" height="0.9" fill="#e9d8ab"/>
<rect x="168.3" y="369.6" width="0.9" height="0.9" fill="#e4cf9b"/>
<rect x="193.5" y="387.4" width="0.9" height="0.9" fill="#e9d8ab"/>
<rect x="227.7" y="444.9" width="0.9" height="0.9" fill="#dcc286"/>
<rect x="214.6" y="434.0" width="0.9" height="0.9" fill="#e4cf9b"/>
<rect x="139.7" y="369.0" width="0.9" height="0.9" fill="#dcc286"/>
<rect x="180.4" y="396.2" width="0.9" height="0.9" fill="#dcc286"/>
<rect x="166.6" y="386.6" width="0.9" height="0.9" fill="#e9d8ab"/>
<rect x="139.6" y="364.0" width="0.9" height="0.9" fill="#e4cf9b"/>
<rect x="167.8" y="370.0" width="0.9" height="0.9" fill="#e9d8ab"/>
<rect x="158.1" y="367.4" width="0.9" height="0.9" fill="#e9d8ab"/>
<rect x="204.8" y="405.1" width="0.9" height="0.9" fill="#e4cf9b"/>
<rect x="187.1" y="390.6" width="0.9" height="0.9" fill="#e9d8ab"/>
<rect x="158.9" y="371.5" width="0.9" height="0.9" fill="#e9d8ab"/>
<rect x="195.5" y="409.8" width="0.9" height="0.9" fill="#e4cf9b"/>
<rect x="220.5" y="421.5" width="0.9" height="0.9" fill="#e9d8ab"/>
<rect x="206.5" y="423.6" width="0.9" height="0.9" fill="#e4cf9b"/>
<rect x="193.4" y="403.7" width="0.9" height="0.9" fill="#eddfb9"/>
<rect x="205.5" y="395.2" width="0.9" height="0.9" fill="#e9d8ab"/>
<rect x="154.7" y="367.2" width="0.9" height="0.9" fill="#eddfb9"/>
<rect x="188.0" y="390.4" width="0.9" height="0.9" fill="#e9d8ab"/>
<rect x="205.4" y="410.3" width="0.9" height="0.9" fill="#e9d8ab"/>
<rect x="166.1" y="379.4" width="0.9" height="0.9" fill="#dcc286"/>
<rect x="214.6" y="434.7" width="0.9" height="0.9" fill="#eddfb9"/>
<rect x="153.0" y="371.8" width="0.9" height="0.9" fill="#e9d8ab"/>
<rect x="207.8" y="432.6" width="0.9" height="0.9" fill="#dcc286"/>
<rect x="214.3" y="420.3" width="0.9" height="0.9" fill="#e4cf9b"/>
<rect x="147.9" y="372.4" width="0.9" height="0.9" fill="#e4cf9b"/>
<rect x="208.6" y="429.8" width="0.9" height="0.9" fill="#eddfb9"/>
<rect x="210.8" y="398.0" width="0.9" height="0.9" fill="#e4cf9b"/>
<rect x="162.2" y="373.0" width="0.9" height="0.9" fill="#eddfb9"/>
<rect x="211.9" y="450.3" width="0.9" height="0.9" fill="#e4cf9b"/>
<rect x="159.1" y="381.2" width="0.9" height="0.9" fill="#e9d8ab"/>
<rect x="140.6" y="371.1" width="0.9" height="0.9" fill="#e9d8ab"/>
<rect x="217.3" y="430.0" width="0.9" height="0.9" fill="#eddfb9"/>
<rect x="225.2" y="452.8" width="0.9" height="0.9" fill="#eddfb9"/>
<rect x="193.3" y="399.6" width="0.9" height="0.9" fill="#eddfb9"/>
<rect x="149.3" y="382.2" width="0.9" height="0.9" fill="#eddfb9"/>
<rect x="148.1" y="369.7" width="0.9" height="0.9" fill="#dcc286"/>
<rect x="197.7" y="409.1" width="0.9" height="0.9" fill="#dcc286"/>
<rect x="220.7" y="431.1" width="0.9" height="0.9" fill="#eddfb9"/>
<rect x="227.0" y="440.6" width="0.9" height="0.9" fill="#dcc286"/>
<rect x="219.1" y="447.6" width="0.9" height="0.9" fill="#eddfb9"/>
<rect x="161.7" y="375.9" width="0.9" height="0.9" fill="#e9d8ab"/>
<rect x="211.3" y="432.5" width="0.9" height="0.9" fill="#e9d8ab"/>
<rect x="191.4" y="400.4" width="0.9" height="0.9" fill="#dcc286"/>
<rect x="195.6" y="408.8" width="0.9" height="0.9" fill="#eddfb9"/>
<rect x="223.3" y="449.5" width="0.9" height="0.9" fill="#e9d8ab"/>
<rect x="207.1" y="405.4" width="0.9" height="0.9" fill="#dcc286"/>
<rect x="201.2" y="399.5" width="0.9" height="0.9" fill="#e9d8ab"/>
<rect x="210.9" y="400.4" width="0.9" height="0.9" fill="#eddfb9"/>
<rect x="164.6" y="387.8" width="0.9" height="0.9" fill="#e4cf9b"/>
<rect x="205.8" y="423.2" width="0.9" height="0.9" fill="#dcc286"/>
<rect x="211.9" y="444.5" width="0.9" height="0.9" fill="#e9d8ab"/>
<rect x="143.0" y="369.7" width="0.9" height="0.9" fill="#e4cf9b"/>
<rect x="171.5" y="371.6" width="0.9" height="0.9" fill="#dcc286"/>
<rect x="144.2" y="365.8" width="0.9" height="0.9" fill="#e9d8ab"/>
<rect x="214.5" y="415.5" width="0.9" height="0.9" fill="#dcc286"/>
<rect x="149.9" y="372.2" width="0.9" height="0.9" fill="#e9d8ab"/>
<rect x="163.2" y="374.6" width="0.9" height="0.9" fill="#e9d8ab"/>
<rect x="199.9" y="416.6" width="0.9" height="0.9" fill="#dcc286"/>
<rect x="207.6" y="432.0" width="0.9" height="0.9" fill="#eddfb9"/>
<rect x="175.1" y="392.0" width="0.9" height="0.9" fill="#dcc286"/>
<rect x="213.5" y="401.4" width="0.9" height="0.9" fill="#dcc286"/>
<rect x="229.5" y="433.0" width="0.9" height="0.9" fill="#e9d8ab"/>
<rect x="218.9" y="411.9" width="0.9" height="0.9" fill="#dcc286"/>
<rect x="165.7" y="371.6" width="0.9" height="0.9" fill="#e4cf9b"/>
<rect x="145.2" y="382.4" width="0.9" height="0.9" fill="#e9d8ab"/>
<rect x="231.7" y="453.8" width="0.9" height="0.9" fill="#eddfb9"/>
<rect x="141.8" y="382.3" width="0.9" height="0.9" fill="#e4cf9b"/>
<rect x="207.1" y="413.3" width="0.9" height="0.9" fill="#e4cf9b"/>
<rect x="206.7" y="430.9" width="0.9" height="0.9" fill="#e4cf9b"/>
<rect x="167.2" y="390.1" width="0.9" height="0.9" fill="#e9d8ab"/>
<rect x="206.9" y="393.4" width="0.9" height="0.9" fill="#dcc286"/>
<rect x="167.4" y="389.1" width="0.9" height="0.9" fill="#eddfb9"/>
<rect x="168.3" y="376.3" width="0.9" height="0.9" fill="#e9d8ab"/>
<rect x="157.1" y="371.5" width="0.9" height="0.9" fill="#e9d8ab"/>
<rect x="229.1" y="453.8" width="0.9" height="0.9" fill="#dcc286"/>
<rect x="229.9" y="439.4" width="0.9" height="0.9" fill="#eddfb9"/>
<rect x="152.8" y="364.9" width="0.9" height="0.9" fill="#eddfb9"/>
<rect x="189.3" y="391.7" width="0.9" height="0.9" fill="#eddfb9"/>
<rect x="182.4" y="385.7" width="0.9" height="0.9" fill="#dcc286"/>
<rect x="149.1" y="375.5" width="0.9" height="0.9" fill="#eddfb9"/>
<rect x="207.0" y="409.6" width="0.9" height="0.9" fill="#dcc286"/>
<rect x="162.8" y="378.2" width="0.9" height="0.9" fill="#dcc286"/>
<rect x="149.6" y="384.1" width="0.9" height="0.9" fill="#eddfb9"/>
<rect x="163.8" y="376.1" width="0.9" height="0.9" fill="#eddfb9"/>
<rect x="157.7" y="372.1" width="0.9" height="0.9" fill="#e9d8ab"/>
<rect x="190.9" y="395.9" width="0.9" height="0.9" fill="#dcc286"/>
<rect x="197.3" y="406.2" width="0.9" height="0.9" fill="#eddfb9"/>
<rect x="203.6" y="420.4" width="0.9" height="0.9" fill="#dcc286"/>
<rect x="220.5" y="440.0" width="0.9" height="0.9" fill="#eddfb9"/>
<rect x="224.0" y="429.6" width="0.9" height="0.9" fill="#e9d8ab"/>
<rect x="168.3" y="369.6" width="0.9" height="0.9" fill="#e4cf9b"/>
<rect x="211.2" y="448.3" width="0.9" height="0.9" fill="#e9d8ab"/>
<rect x="175.9" y="392.3" width="0.9" height="0.9" fill="#e9d8ab"/>
<rect x="218.6" y="430.0" width="0.9" height="0.9" fill="#dcc286"/>
<rect x="189.7" y="386.5" width="0.9" height="0.9" fill="#e4cf9b"/>
<rect x="183.8" y="386.1" width="0.9" height="0.9" fill="#eddfb9"/>
<rect x="215.6" y="447.0" width="0.9" height="0.9" fill="#e4cf9b"/>
<rect x="223.6" y="426.4" width="0.9" height="0.9" fill="#e4cf9b"/>
<rect x="140.3" y="371.9" width="0.9" height="0.9" fill="#e9d8ab"/>
<rect x="196.9" y="403.4" width="0.9" height="0.9" fill="#dcc286"/>
<rect x="224.5" y="422.6" width="0.9" height="0.9" fill="#eddfb9"/>
<rect x="196.5" y="402.8" width="0.9" height="0.9" fill="#dcc286"/>
<rect x="170.3" y="375.4" width="0.9" height="0.9" fill="#eddfb9"/>
<rect x="205.5" y="420.5" width="0.9" height="0.9" fill="#e9d8ab"/>
<rect x="223.4" y="447.8" width="0.9" height="0.9" fill="#e9d8ab"/>
<rect x="203.0" y="400.5" width="0.9" height="0.9" fill="#e9d8ab"/>
<rect x="181.3" y="386.0" width="0.9" height="0.9" fill="#e4cf9b"/>
<rect x="169.7" y="370.5" width="0.9" height="0.9" fill="#e4cf9b"/>
<rect x="209.8" y="400.3" width="0.9" height="0.9" fill="#e9d8ab"/>
<rect x="222.7" y="417.2" width="0.9" height="0.9" fill="#dcc286"/>
<rect x="183.8" y="389.6" width="0.9" height="0.9" fill="#dcc286"/>
<rect x="197.2" y="386.3" width="0.9" height="0.9" fill="#e4cf9b"/>
<rect x="223.4" y="446.3" width="0.9" height="0.9" fill="#e9d8ab"/>
<rect x="175.5" y="373.0" width="0.9" height="0.9" fill="#e4cf9b"/>
<rect x="228.4" y="453.0" width="0.9" height="0.9" fill="#e4cf9b"/>
<rect x="140.7" y="368.0" width="0.9" height="0.9" fill="#eddfb9"/>
<rect x="226.4" y="453.9" width="0.9" height="0.9" fill="#e4cf9b"/>
<rect x="205.0" y="425.8" width="0.9" height="0.9" fill="#e4cf9b"/>
<rect x="183.3" y="382.1" width="0.9" height="0.9" fill="#e4cf9b"/>
<rect x="185.7" y="392.1" width="0.9" height="0.9" fill="#e9d8ab"/>
<rect x="216.0" y="429.5" width="0.9" height="0.9" fill="#dcc286"/>
<rect x="212.8" y="418.9" width="0.9" height="0.9" fill="#eddfb9"/>
<rect x="156.2" y="382.6" width="0.9" height="0.9" fill="#e4cf9b"/>
<rect x="221.4" y="429.9" width="0.9" height="0.9" fill="#dcc286"/>
<rect x="225.1" y="427.8" width="0.9" height="0.9" fill="#e4cf9b"/>
<rect x="143.7" y="366.7" width="0.9" height="0.9" fill="#dcc286"/>
<rect x="185.1" y="397.1" width="0.9" height="0.9" fill="#e4cf9b"/>
<rect x="217.6" y="411.8" width="0.9" height="0.9" fill="#e9d8ab"/>
<rect x="198.4" y="397.6" width="0.9" height="0.9" fill="#eddfb9"/>
<rect x="203.4" y="412.4" width="0.9" height="0.9" fill="#eddfb9"/>
<rect x="214.5" y="410.5" width="0.9" height="0.9" fill="#dcc286"/>
<rect x="216.7" y="438.9" width="0.9" height="0.9" fill="#e4cf9b"/>
<rect x="166.9" y="370.4" width="0.9" height="0.9" fill="#e9d8ab"/>
<rect x="174.1" y="387.1" width="0.9" height="0.9" fill="#e9d8ab"/>
<rect x="203.6" y="415.8" width="0.9" height="0.9" fill="#eddfb9"/>
<rect x="207.4" y="413.7" width="0.9" height="0.9" fill="#eddfb9"/>
<rect x="160.3" y="374.8" width="0.9" height="0.9" fill="#e9d8ab"/>
<rect x="214.6" y="454.0" width="0.9" height="0.9" fill="#e9d8ab"/>
<rect x="141.2" y="383.7" width="0.9" height="0.9" fill="#dcc286"/>
<rect x="201.1" y="405.5" width="0.9" height="0.9" fill="#e9d8ab"/>
<rect x="183.7" y="397.4" width="0.9" height="0.9" fill="#dcc286"/>
<rect x="147.6" y="364.8" width="0.9" height="0.9" fill="#e4cf9b"/>
<rect x="220.7" y="437.2" width="0.9" height="0.9" fill="#eddfb9"/>
<rect x="165.2" y="373.1" width="0.9" height="0.9" fill="#eddfb9"/>
<rect x="203.2" y="396.2" width="0.9" height="0.9" fill="#dcc286"/>
<rect x="212.3" y="454.3" width="0.9" height="0.9" fill="#eddfb9"/>
<rect x="173.8" y="386.4" width="0.9" height="0.9" fill="#dcc286"/>
<rect x="205.9" y="397.0" width="0.9" height="0.9" fill="#e9d8ab"/>
<rect x="178.5" y="394.8" width="0.9" height="0.9" fill="#e4cf9b"/>
<rect x="183.5" y="388.4" width="0.9" height="0.9" fill="#eddfb9"/>
<rect x="212.9" y="451.9" width="0.9" height="0.9" fill="#dcc286"/>
<rect x="215.7" y="422.7" width="0.9" height="0.9" fill="#e9d8ab"/>
<rect x="221.7" y="430.2" width="0.9" height="0.9" fill="#eddfb9"/>
<rect x="141.5" y="375.1" width="0.9" height="0.9" fill="#dcc286"/>
<rect x="168.4" y="388.9" width="0.9" height="0.9" fill="#e4cf9b"/>
<rect x="232.3" y="451.0" width="0.9" height="0.9" fill="#dcc286"/>
<rect x="142.6" y="380.8" width="0.9" height="0.9" fill="#eddfb9"/>
<rect x="203.3" y="396.7" width="0.9" height="0.9" fill="#e9d8ab"/>
<rect x="202.3" y="412.9" width="0.9" height="0.9" fill="#dcc286"/>
<rect x="213.4" y="418.1" width="0.9" height="0.9" fill="#e4cf9b"/>
<rect x="149.8" y="364.5" width="0.9" height="0.9" fill="#eddfb9"/>
<rect x="209.0" y="427.7" width="0.9" height="0.9" fill="#e4cf9b"/>
<rect x="191.2" y="400.4" width="0.9" height="0.9" fill="#dcc286"/>
<rect x="203.4" y="394.1" width="0.9" height="0.9" fill="#eddfb9"/>
<rect x="205.8" y="391.8" width="0.9" height="0.9" fill="#dcc286"/>
<rect x="193.8" y="407.7" width="0.9" height="0.9" fill="#dcc286"/>
<rect x="150.6" y="367.5" width="0.9" height="0.9" fill="#eddfb9"/>
<rect x="189.7" y="403.0" width="0.9" height="0.9" fill="#e4cf9b"/>
<rect x="204.2" y="389.8" width="0.9" height="0.9" fill="#dcc286"/>
<rect x="223.3" y="449.3" width="0.9" height="0.9" fill="#e9d8ab"/>
<rect x="195.0" y="389.2" width="0.9" height="0.9" fill="#e9d8ab"/>
<rect x="210.2" y="400.2" width="0.9" height="0.9" fill="#eddfb9"/>
<rect x="162.6" y="371.1" width="0.9" height="0.9" fill="#e9d8ab"/>
<rect x="184.0" y="378.2" width="0.9" height="0.9" fill="#dcc286"/>
<rect x="230.5" y="450.5" width="0.9" height="0.9" fill="#eddfb9"/>
<rect x="160.8" y="380.2" width="0.9" height="0.9" fill="#eddfb9"/>
<rect x="181.2" y="380.1" width="0.9" height="0.9" fill="#dcc286"/>
<rect x="209.2" y="432.4" width="0.9" height="0.9" fill="#eddfb9"/>
<rect x="231.1" y="451.6" width="0.9" height="0.9" fill="#eddfb9"/>
<rect x="146.5" y="378.1" width="0.9" height="0.9" fill="#dcc286"/>
<rect x="148.8" y="367.6" width="0.9" height="0.9" fill="#dcc286"/>
<rect x="173.8" y="387.5" width="0.9" height="0.9" fill="#dcc286"/>
<rect x="144.5" y="374.6" width="0.9" height="0.9" fill="#e4cf9b"/>
<rect x="206.3" y="421.1" width="0.9" height="0.9" fill="#e9d8ab"/>
<rect x="149.7" y="372.5" width="0.9" height="0.9" fill="#eddfb9"/>
<rect x="210.6" y="444.7" width="0.9" height="0.9" fill="#e9d8ab"/>
<rect x="161.0" y="377.5" width="0.9" height="0.9" fill="#e9d8ab"/>
<rect x="217.8" y="455.5" width="0.9" height="0.9" fill="#e9d8ab"/>
<rect x="224.6" y="431.7" width="0.9" height="0.9" fill="#eddfb9"/>
<rect x="173.4" y="377.8" width="0.9" height="0.9" fill="#e4cf9b"/>
<rect x="227.2" y="453.6" width="0.9" height="0.9" fill="#e4cf9b"/>
<rect x="201.6" y="401.6" width="0.9" height="0.9" fill="#dcc286"/>
<rect x="219.7" y="410.4" width="0.9" height="0.9" fill="#dcc286"/>
<rect x="208.6" y="421.3" width="0.9" height="0.9" fill="#eddfb9"/>
<rect x="157.6" y="380.7" width="0.9" height="0.9" fill="#e4cf9b"/>
<rect x="211.6" y="405.6" width="0.9" height="0.9" fill="#dcc286"/>
<rect x="192.5" y="403.7" width="0.9" height="0.9" fill="#e9d8ab"/>
<rect x="190.7" y="383.3" width="0.9" height="0.9" fill="#eddfb9"/>
<rect x="177.1" y="391.9" width="0.9" height="0.9" fill="#e4cf9b"/>
<rect x="219.4" y="448.5" width="0.9" height="0.9" fill="#e9d8ab"/>
<rect x="224.0" y="450.1" width="0.9" height="0.9" fill="#e4cf9b"/>
<rect x="205.1" y="399.8" width="0.9" height="0.9" fill="#e9d8ab"/>
<rect x="173.0" y="377.7" width="0.9" height="0.9" fill="#eddfb9"/>
<rect x="146.5" y="381.4" width="0.9" height="0.9" fill="#e4cf9b"/>
<rect x="158.7" y="381.0" width="0.9" height="0.9" fill="#e9d8ab"/>
<rect x="195.8" y="411.2" width="0.9" height="0.9" fill="#e9d8ab"/>
<rect x="163.6" y="373.1" width="0.9" height="0.9" fill="#e9d8ab"/>
<rect x="190.2" y="387.4" width="0.9" height="0.9" fill="#dcc286"/>
<rect x="217.1" y="415.9" width="0.9" height="0.9" fill="#dcc286"/>
<rect x="156.2" y="385.0" width="0.9" height="0.9" fill="#e9d8ab"/>
<rect x="159.4" y="372.7" width="0.9" height="0.9" fill="#dcc286"/>
<rect x="140.0" y="372.7" width="0.9" height="0.9" fill="#e9d8ab"/>
<rect x="211.5" y="412.2" width="0.9" height="0.9" fill="#e9d8ab"/>
<rect x="207.4" y="433.1" width="0.9" height="0.9" fill="#e4cf9b"/>
<rect x="220.9" y="437.0" width="0.9" height="0.9" fill="#eddfb9"/>
<rect x="206.5" y="419.7" width="0.9" height="0.9" fill="#e9d8ab"/>
<rect x="225.5" y="436.4" width="0.9" height="0.9" fill="#e4cf9b"/>
<rect x="181.7" y="398.5" width="0.9" height="0.9" fill="#e9d8ab"/>
<rect x="141.9" y="368.7" width="0.9" height="0.9" fill="#e9d8ab"/>
<rect x="225.1" y="435.0" width="0.9" height="0.9" fill="#eddfb9"/>
<rect x="215.5" y="409.4" width="0.9" height="0.9" fill="#e9d8ab"/>
<rect x="221.5" y="454.8" width="0.9" height="0.9" fill="#e4cf9b"/>
<rect x="202.1" y="396.7" width="0.9" height="0.9" fill="#e9d8ab"/>
<rect x="163.9" y="386.8" width="0.9" height="0.9" fill="#e9d8ab"/>
<rect x="210.8" y="415.5" width="0.9" height="0.9" fill="#eddfb9"/>
<rect x="152.2" y="372.4" width="0.9" height="0.9" fill="#eddfb9"/>
<rect x="174.2" y="375.0" width="0.9" height="0.9" fill="#e9d8ab"/>
<rect x="204.2" y="423.4" width="0.9" height="0.9" fill="#e4cf9b"/>
<rect x="218.5" y="416.4" width="0.9" height="0.9" fill="#eddfb9"/>
<rect x="211.0" y="399.1" width="0.9" height="0.9" fill="#e4cf9b"/>
<rect x="145.1" y="384.4" width="0.9" height="0.9" fill="#e9d8ab"/>
<rect x="185.0" y="382.0" width="0.9" height="0.9" fill="#e9d8ab"/>
<rect x="214.7" y="456.6" width="0.9" height="0.9" fill="#dcc286"/>
<rect x="179.5" y="383.0" width="0.9" height="0.9" fill="#dcc286"/>
<rect x="168.6" y="376.7" width="0.9" height="0.9" fill="#dcc286"/>
<rect x="199.2" y="385.2" width="0.9" height="0.9" fill="#dcc286"/>
<rect x="157.9" y="373.9" width="0.9" height="0.9" fill="#e4cf9b"/>
<rect x="190.6" y="391.9" width="0.9" height="0.9" fill="#e4cf9b"/>
<rect x="205.7" y="412.4" width="0.9" height="0.9" fill="#e9d8ab"/>
<rect x="211.9" y="436.5" width="0.9" height="0.9" fill="#e9d8ab"/>
<rect x="206.4" y="392.7" width="0.9" height="0.9" fill="#eddfb9"/>
<rect x="170.7" y="388.9" width="0.9" height="0.9" fill="#dcc286"/>
<rect x="212.2" y="431.6" width="0.9" height="0.9" fill="#dcc286"/>
<rect x="204.7" y="415.8" width="0.9" height="0.9" fill="#eddfb9"/>
<rect x="163.8" y="380.5" width="0.9" height="0.9" fill="#e9d8ab"/>
<rect x="184.5" y="378.2" width="0.9" height="0.9" fill="#e9d8ab"/>
<rect x="197.8" y="389.3" width="0.9" height="0.9" fill="#dcc286"/>
<rect x="217.0" y="419.5" width="0.9" height="0.9" fill="#e9d8ab"/>
<rect x="164.2" y="371.9" width="0.9" height="0.9" fill="#dcc286"/>
<rect x="217.4" y="452.6" width="0.9" height="0.9" fill="#eddfb9"/>
<rect x="142.4" y="374.4" width="0.9" height="0.9" fill="#dcc286"/>
<rect x="185.0" y="399.7" width="0.9" height="0.9" fill="#eddfb9"/>
<rect x="183.0" y="397.9" width="0.9" height="0.9" fill="#dcc286"/>
<rect x="224.5" y="446.9" width="0.9" height="0.9" fill="#eddfb9"/>
<rect x="141.4" y="376.8" width="0.9" height="0.9" fill="#dcc286"/>
<rect x="194.2" y="384.4" width="0.9" height="0.9" fill="#e9d8ab"/>
<rect x="194.6" y="387.6" width="0.9" height="0.9" fill="#eddfb9"/>
<rect x="199.6" y="406.0" width="0.9" height="0.9" fill="#e9d8ab"/>
<rect x="225.3" y="450.4" width="0.9" height="0.9" fill="#dcc286"/>
<rect x="219.3" y="451.4" width="0.9" height="0.9" fill="#e9d8ab"/>
<rect x="167.8" y="382.8" width="0.9" height="0.9" fill="#dcc286"/>
<rect x="223.9" y="417.1" width="0.9" height="0.9" fill="#e9d8ab"/>
<rect x="194.5" y="398.8" width="0.9" height="0.9" fill="#e4cf9b"/>
<rect x="190.0" y="379.3" width="0.9" height="0.9" fill="#dcc286"/>
<rect x="199.8" y="408.0" width="0.9" height="0.9" fill="#eddfb9"/>
<rect x="155.4" y="367.1" width="0.9" height="0.9" fill="#eddfb9"/>
<rect x="198.5" y="413.1" width="0.9" height="0.9" fill="#eddfb9"/>
<rect x="221.8" y="450.0" width="0.9" height="0.9" fill="#dcc286"/>
<rect x="206.8" y="420.0" width="0.9" height="0.9" fill="#dcc286"/>
<rect x="203.8" y="401.1" width="0.9" height="0.9" fill="#e4cf9b"/>
<rect x="149.7" y="368.4" width="0.9" height="0.9" fill="#e9d8ab"/>
<rect x="185.0" y="379.1" width="0.9" height="0.9" fill="#e4cf9b"/>
<rect x="225.9" y="426.6" width="0.9" height="0.9" fill="#e4cf9b"/>
<rect x="224.2" y="448.6" width="0.9" height="0.9" fill="#e4cf9b"/>
<rect x="207.7" y="406.4" width="0.9" height="0.9" fill="#eddfb9"/>
<rect x="163.1" y="368.0" width="0.9" height="0.9" fill="#e9d8ab"/>
<rect x="221.8" y="443.5" width="0.9" height="0.9" fill="#e9d8ab"/>
<rect x="230.0" y="452.0" width="0.9" height="0.9" fill="#e4cf9b"/>
<rect x="216.0" y="412.1" width="0.9" height="0.9" fill="#dcc286"/>
<rect x="146.5" y="379.9" width="0.9" height="0.9" fill="#e9d8ab"/>
<rect x="212.9" y="423.1" width="0.9" height="0.9" fill="#eddfb9"/>
<rect x="226.3" y="436.7" width="0.9" height="0.9" fill="#dcc286"/>
<rect x="181.1" y="391.8" width="0.9" height="0.9" fill="#eddfb9"/>
<rect x="145.6" y="368.3" width="0.9" height="0.9" fill="#eddfb9"/>
<rect x="207.1" y="416.0" width="0.9" height="0.9" fill="#e9d8ab"/>
<rect x="153.7" y="365.2" width="0.9" height="0.9" fill="#eddfb9"/>
<rect x="195.0" y="403.4" width="0.9" height="0.9" fill="#e9d8ab"/>
<rect x="228.6" y="456.7" width="0.9" height="0.9" fill="#eddfb9"/>
<rect x="221.9" y="454.2" width="0.9" height="0.9" fill="#dcc286"/>
<rect x="195.6" y="403.1" width="0.9" height="0.9" fill="#eddfb9"/>
<rect x="204.9" y="399.7" width="0.9" height="0.9" fill="#e9d8ab"/>
<rect x="222.3" y="433.4" width="0.9" height="0.9" fill="#e9d8ab"/>
<rect x="153.4" y="372.1" width="0.9" height="0.9" fill="#eddfb9"/>
<rect x="144.4" y="383.0" width="0.9" height="0.9" fill="#e9d8ab"/>
<rect x="217.8" y="408.4" width="0.9" height="0.9" fill="#e9d8ab"/>
<rect x="213.9" y="424.9" width="0.9" height="0.9" fill="#eddfb9"/>
<rect x="216.7" y="414.1" width="0.9" height="0.9" fill="#e9d8ab"/>
<rect x="159.7" y="381.9" width="0.9" height="0.9" fill="#e4cf9b"/>
<rect x="216.3" y="427.2" width="0.9" height="0.9" fill="#e9d8ab"/>
<rect x="230.0" y="441.7" width="0.9" height="0.9" fill="#dcc286"/>
<rect x="149.3" y="377.9" width="0.9" height="0.9" fill="#eddfb9"/>
<rect x="213.4" y="450.4" width="0.9" height="0.9" fill="#e9d8ab"/>
<rect x="182.3" y="377.4" width="0.9" height="0.9" fill="#dcc286"/>
<rect x="210.9" y="426.1" width="0.9" height="0.9" fill="#e9d8ab"/>
<rect x="154.8" y="372.2" width="0.9" height="0.9" fill="#dcc286"/>
<rect x="156.0" y="369.4" width="0.9" height="0.9" fill="#e4cf9b"/>
<rect x="166.7" y="388.6" width="0.9" height="0.9" fill="#e4cf9b"/>
<rect x="146.1" y="364.0" width="0.9" height="0.9" fill="#eddfb9"/>
<rect x="189.2" y="402.5" width="0.9" height="0.9" fill="#e9d8ab"/>
<rect x="179.5" y="391.1" width="0.9" height="0.9" fill="#eddfb9"/>
<rect x="195.3" y="400.1" width="0.9" height="0.9" fill="#eddfb9"/>
<rect x="152.2" y="365.2" width="0.9" height="0.9" fill="#e9d8ab"/>
<rect x="182.0" y="389.5" width="0.9" height="0.9" fill="#e4cf9b"/>
<rect x="208.9" y="419.3" width="0.9" height="0.9" fill="#e4cf9b"/>
<rect x="197.3" y="398.1" width="0.9" height="0.9" fill="#eddfb9"/>
<rect x="159.2" y="374.0" width="0.9" height="0.9" fill="#e9d8ab"/>
<rect x="141.5" y="378.6" width="0.9" height="0.9" fill="#e9d8ab"/>
<rect x="189.6" y="381.7" width="0.9" height="0.9" fill="#e9d8ab"/>
<rect x="206.4" y="409.8" width="0.9" height="0.9" fill="#e4cf9b"/>
<rect x="204.5" y="394.8" width="0.9" height="0.9" fill="#e9d8ab"/>
<rect x="222.3" y="425.6" width="0.9" height="0.9" fill="#dcc286"/>
<rect x="140.9" y="375.2" width="0.9" height="0.9" fill="#eddfb9"/>
<rect x="205.5" y="412.9" width="0.9" height="0.9" fill="#e4cf9b"/>
<rect x="213.6" y="453.9" width="0.9" height="0.9" fill="#e9d8ab"/>
<rect x="205.0" y="423.8" width="0.9" height="0.9" fill="#dcc286"/>
<rect x="204.6" y="407.2" width="0.9" height="0.9" fill="#dcc286"/>
<rect x="183.9" y="385.6" width="0.9" height="0.9" fill="#eddfb9"/>
<rect x="207.7" y="399.7" width="0.9" height="0.9" fill="#e4cf9b"/>
<rect x="202.3" y="393.9" width="0.9" height="0.9" fill="#dcc286"/>
<rect x="159.8" y="368.0" width="0.9" height="0.9" fill="#dcc286"/>
<rect x="212.0" y="449.1" width="0.9" height="0.9" fill="#e4cf9b"/>
<rect x="159.7" y="372.8" width="0.9" height="0.9" fill="#dcc286"/>
<rect x="159.7" y="369.6" width="0.9" height="0.9" fill="#eddfb9"/>
<rect x="208.2" y="394.3" width="0.9" height="0.9" fill="#dcc286"/>
<rect x="157.0" y="382.8" width="0.9" height="0.9" fill="#dcc286"/>
<rect x="200.3" y="408.9" width="0.9" height="0.9" fill="#e4cf9b"/>
<rect x="140.0" y="372.6" width="0.9" height="0.9" fill="#e9d8ab"/>
<rect x="198.7" y="408.7" width="0.9" height="0.9" fill="#e9d8ab"/>
<rect x="211.1" y="444.0" width="0.9" height="0.9" fill="#e4cf9b"/>
<rect x="231.6" y="444.9" width="0.9" height="0.9" fill="#e9d8ab"/>
<rect x="206.9" y="416.0" width="0.9" height="0.9" fill="#eddfb9"/>
<rect x="147.4" y="385.1" width="0.9" height="0.9" fill="#e9d8ab"/>
<rect x="222.6" y="429.2" width="0.9" height="0.9" fill="#e4cf9b"/>
<rect x="182.6" y="392.3" width="0.9" height="0.9" fill="#eddfb9"/>
<rect x="155.9" y="371.9" width="0.9" height="0.9" fill="#dcc286"/>
<rect x="216.6" y="435.5" width="0.9" height="0.9" fill="#eddfb9"/>
<rect x="191.7" y="386.1" width="0.9" height="0.9" fill="#e4cf9b"/>
<rect x="214.2" y="415.3" width="0.9" height="0.9" fill="#eddfb9"/>
<rect x="213.7" y="443.0" width="0.9" height="0.9" fill="#e4cf9b"/>
<rect x="177.7" y="373.3" width="0.9" height="0.9" fill="#e9d8ab"/>
<rect x="160.6" y="378.5" width="0.9" height="0.9" fill="#eddfb9"/>
<rect x="141.4" y="365.7" width="0.9" height="0.9" fill="#e9d8ab"/>
<rect x="204.2" y="418.0" width="0.9" height="0.9" fill="#e9d8ab"/>
<rect x="219.2" y="437.4" width="0.9" height="0.9" fill="#dcc286"/>
<rect x="217.2" y="454.2" width="0.9" height="0.9" fill="#dcc286"/>
<rect x="168.9" y="379.7" width="0.9" height="0.9" fill="#e4cf9b"/>
<rect x="230.3" y="453.1" width="0.9" height="0.9" fill="#dcc286"/>
<rect x="192.5" y="396.8" width="0.9" height="0.9" fill="#e4cf9b"/>
<rect x="211.3" y="440.4" width="0.9" height="0.9" fill="#eddfb9"/>
<rect x="193.3" y="384.0" width="0.9" height="0.9" fill="#dcc286"/>
<rect x="209.7" y="408.3" width="0.9" height="0.9" fill="#dcc286"/>
<rect x="210.2" y="417.2" width="0.9" height="0.9" fill="#e9d8ab"/>
<rect x="176.3" y="380.8" width="0.9" height="0.9" fill="#dcc286"/>
<rect x="147.0" y="380.8" width="0.9" height="0.9" fill="#e4cf9b"/>
<rect x="197.1" y="386.3" width="0.9" height="0.9" fill="#eddfb9"/>
<rect x="175.2" y="393.8" width="0.9" height="0.9" fill="#e9d8ab"/>
<rect x="168.5" y="381.2" width="0.9" height="0.9" fill="#e9d8ab"/>
<rect x="144.7" y="377.1" width="0.9" height="0.9" fill="#e4cf9b"/>
<rect x="153.7" y="367.4" width="0.9" height="0.9" fill="#dcc286"/>
<rect x="190.3" y="393.6" width="0.9" height="0.9" fill="#e4cf9b"/>
<rect x="172.9" y="384.1" width="0.9" height="0.9" fill="#e9d8ab"/>
<rect x="195.3" y="391.1" width="0.9" height="0.9" fill="#e9d8ab"/>
<rect x="191.4" y="398.3" width="0.9" height="0.9" fill="#eddfb9"/>
<rect x="165.7" y="383.4" width="0.9" height="0.9" fill="#e9d8ab"/>
<rect x="210.4" y="398.6" width="0.9" height="0.9" fill="#e4cf9b"/>
<rect x="225.6" y="450.7" width="0.9" height="0.9" fill="#e9d8ab"/>
<rect x="212.7" y="405.2" width="0.9" height="0.9" fill="#dcc286"/>
<rect x="181.9" y="383.9" width="0.9" height="0.9" fill="#e9d8ab"/>
<rect x="185.3" y="398.6" width="0.9" height="0.9" fill="#e4cf9b"/>
<rect x="210.6" y="441.3" width="0.9" height="0.9" fill="#e9d8ab"/>
<rect x="201.4" y="407.1" width="0.9" height="0.9" fill="#e9d8ab"/>
<rect x="184.8" y="395.3" width="0.9" height="0.9" fill="#e9d8ab"/>
<rect x="229.2" y="441.2" width="0.9" height="0.9" fill="#dcc286"/>
<rect x="214.6" y="435.6" width="0.9" height="0.9" fill="#e4cf9b"/>
<rect x="212.1" y="409.4" width="0.9" height="0.9" fill="#dcc286"/>
<rect x="171.2" y="376.2" width="0.9" height="0.9" fill="#eddfb9"/>
<rect x="217.8" y="433.4" width="0.9" height="0.9" fill="#e9d8ab"/>
<rect x="225.6" y="444.5" width="0.9" height="0.9" fill="#dcc286"/>
<rect x="187.7" y="388.8" width="0.9" height="0.9" fill="#e9d8ab"/>
<rect x="208.3" y="425.3" width="0.9" height="0.9" fill="#e9d8ab"/>
<rect x="192.3" y="398.2" width="0.9" height="0.9" fill="#dcc286"/>
<rect x="205.3" y="406.8" width="0.9" height="0.9" fill="#e9d8ab"/>
<rect x="158.2" y="378.2" width="0.9" height="0.9" fill="#e9d8ab"/>
<rect x="142.5" y="384.1" width="0.9" height="0.9" fill="#dcc286"/>
<rect x="208.6" y="411.4" width="0.9" height="0.9" fill="#e9d8ab"/>
<rect x="228.4" y="443.8" width="0.9" height="0.9" fill="#eddfb9"/>
<rect x="173.3" y="370.6" width="0.9" height="0.9" fill="#e4cf9b"/>
<rect x="225.2" y="432.4" width="0.9" height="0.9" fill="#e9d8ab"/>
<rect x="225.7" y="454.8" width="0.9" height="0.9" fill="#dcc286"/>
<rect x="170.6" y="370.4" width="0.9" height="0.9" fill="#e4cf9b"/>
<rect x="226.3" y="449.9" width="0.9" height="0.9" fill="#eddfb9"/>
<rect x="209.9" y="436.2" width="0.9" height="0.9" fill="#e9d8ab"/>
<rect x="155.1" y="371.8" width="0.9" height="0.9" fill="#e4cf9b"/>
<rect x="179.9" y="378.3" width="0.9" height="0.9" fill="#e9d8ab"/>
<rect x="175.6" y="379.4" width="0.9" height="0.9" fill="#e4cf9b"/>
<rect x="228.1" y="456.8" width="0.9" height="0.9" fill="#dcc286"/>
<rect x="216.1" y="424.4" width="0.9" height="0.9" fill="#dcc286"/>
<rect x="152.7" y="385.0" width="0.9" height="0.9" fill="#dcc286"/>
<rect x="212.3" y="423.3" width="0.9" height="0.9" fill="#eddfb9"/>
<rect x="151.0" y="371.2" width="0.9" height="0.9" fill="#eddfb9"/>
<rect x="194.9" y="395.4" width="0.9" height="0.9" fill="#e4cf9b"/>
<rect x="184.4" y="397.7" width="0.9" height="0.9" fill="#dcc286"/>
<rect x="162.7" y="372.4" width="0.9" height="0.9" fill="#dcc286"/>
<rect x="209.9" y="431.5" width="0.9" height="0.9" fill="#dcc286"/>
<rect x="149.2" y="384.2" width="0.9" height="0.9" fill="#eddfb9"/>
<rect x="227.7" y="428.9" width="0.9" height="0.9" fill="#dcc286"/>
<rect x="227.0" y="425.8" width="0.9" height="0.9" fill="#dcc286"/>
<rect x="163.2" y="376.5" width="0.9" height="0.9" fill="#dcc286"/>
<rect x="201.2" y="409.7" width="0.9" height="0.9" fill="#e4cf9b"/>
<rect x="232.4" y="454.3" width="0.9" height="0.9" fill="#e4cf9b"/>
<rect x="200.2" y="390.4" width="0.9" height="0.9" fill="#e9d8ab"/>
<rect x="216.6" y="456.8" width="0.9" height="0.9" fill="#e4cf9b"/>
<rect x="219.6" y="424.7" width="0.9" height="0.9" fill="#eddfb9"/>
<rect x="215.1" y="418.3" width="0.9" height="0.9" fill="#e4cf9b"/>
<rect x="157.9" y="373.8" width="0.9" height="0.9" fill="#eddfb9"/>
<rect x="161.6" y="368.5" width="0.9" height="0.9" fill="#eddfb9"/>
<rect x="228.7" y="443.5" width="0.9" height="0.9" fill="#e9d8ab"/>
<rect x="199.1" y="391.3" width="0.9" height="0.9" fill="#dcc286"/>
<rect x="181.1" y="387.8" width="0.9" height="0.9" fill="#e4cf9b"/>
<rect x="218.0" y="415.7" width="0.9" height="0.9" fill="#e9d8ab"/>
<rect x="190.3" y="386.1" width="0.9" height="0.9" fill="#eddfb9"/>
<rect x="149.6" y="374.7" width="0.9" height="0.9" fill="#dcc286"/>
<rect x="162.4" y="371.8" width="0.9" height="0.9" fill="#eddfb9"/>
<rect x="156.8" y="366.3" width="0.9" height="0.9" fill="#dcc286"/>
<rect x="201.2" y="416.0" width="0.9" height="0.9" fill="#e4cf9b"/>
<rect x="214.7" y="430.7" width="0.9" height="0.9" fill="#e9d8ab"/>
<rect x="172.7" y="371.5" width="0.9" height="0.9" fill="#dcc286"/>
<rect x="218.4" y="420.1" width="0.9" height="0.9" fill="#eddfb9"/>
<rect x="184.0" y="395.7" width="0.9" height="0.9" fill="#e4cf9b"/>
<rect x="223.6" y="455.5" width="0.9" height="0.9" fill="#e4cf9b"/>
<rect x="207.4" y="414.4" width="0.9" height="0.9" fill="#eddfb9"/>
<rect x="175.5" y="379.8" width="0.9" height="0.9" fill="#eddfb9"/>
<rect x="210.5" y="400.7" width="0.9" height="0.9" fill="#eddfb9"/>
<rect x="141.4" y="370.7" width="0.9" height="0.9" fill="#dcc286"/>
<rect x="205.1" y="411.3" width="0.9" height="0.9" fill="#e4cf9b"/>
<rect x="167.4" y="369.3" width="0.9" height="0.9" fill="#eddfb9"/>
<rect x="144.1" y="366.4" width="0.9" height="0.9" fill="#eddfb9"/>
<rect x="214.3" y="410.8" width="0.9" height="0.9" fill="#e4cf9b"/>
<rect x="216.8" y="456.6" width="0.9" height="0.9" fill="#eddfb9"/>
<rect x="150.7" y="368.2" width="0.9" height="0.9" fill="#e9d8ab"/>
<rect x="165.6" y="387.8" width="0.9" height="0.9" fill="#e9d8ab"/>
<rect x="164.6" y="389.2" width="0.9" height="0.9" fill="#eddfb9"/>
<rect x="214.3" y="456.3" width="0.9" height="0.9" fill="#eddfb9"/>
<rect x="184.6" y="386.3" width="0.9" height="0.9" fill="#eddfb9"/>
<rect x="151.1" y="371.4" width="0.9" height="0.9" fill="#eddfb9"/>
<rect x="226.0" y="438.2" width="0.9" height="0.9" fill="#eddfb9"/>
<rect x="209.9" y="413.3" width="0.9" height="0.9" fill="#dcc286"/>
<rect x="207.0" y="425.3" width="0.9" height="0.9" fill="#e9d8ab"/>
<rect x="230.6" y="449.7" width="0.9" height="0.9" fill="#eddfb9"/>
<rect x="199.2" y="392.2" width="0.9" height="0.9" fill="#e4cf9b"/>
<rect x="187.2" y="382.6" width="0.9" height="0.9" fill="#eddfb9"/>
<rect x="209.9" y="403.5" width="0.9" height="0.9" fill="#dcc286"/>
<rect x="168.3" y="373.9" width="0.9" height="0.9" fill="#eddfb9"/>
<rect x="173.7" y="391.3" width="0.9" height="0.9" fill="#dcc286"/>
<rect x="205.0" y="404.4" width="0.9" height="0.9" fill="#eddfb9"/>
<rect x="179.3" y="382.2" width="0.9" height="0.9" fill="#eddfb9"/>
<rect x="183.1" y="397.7" width="0.9" height="0.9" fill="#eddfb9"/>
<rect x="208.3" y="435.5" width="0.9" height="0.9" fill="#dcc286"/>
<rect x="214.4" y="411.1" width="0.9" height="0.9" fill="#e9d8ab"/>
<rect x="222.4" y="444.0" width="0.9" height="0.9" fill="#e4cf9b"/>
<rect x="211.6" y="442.0" width="0.9" height="0.9" fill="#eddfb9"/>
<rect x="222.0" y="415.1" width="0.9" height="0.9" fill="#e9d8ab"/>
<rect x="204.8" y="417.4" width="0.9" height="0.9" fill="#eddfb9"/>
<rect x="226.3" y="436.6" width="0.9" height="0.9" fill="#eddfb9"/>
<rect x="163.1" y="377.9" width="0.9" height="0.9" fill="#e4cf9b"/>
<rect x="163.3" y="378.4" width="0.9" height="0.9" fill="#dcc286"/>
<rect x="161.1" y="372.2" width="0.9" height="0.9" fill="#e4cf9b"/>
<rect x="195.0" y="402.4" width="0.9" height="0.9" fill="#e4cf9b"/>
<rect x="162.0" y="366.9" width="0.9" height="0.9" fill="#dcc286"/>
<rect x="217.2" y="434.7" width="0.9" height="0.9" fill="#e4cf9b"/>
<rect x="176.2" y="377.7" width="0.9" height="0.9" fill="#e9d8ab"/>
<rect x="227.3" y="441.1" width="0.9" height="0.9" fill="#e9d8ab"/>
<rect x="173.2" y="375.4" width="0.9" height="0.9" fill="#e4cf9b"/>
<rect x="147.2" y="369.0" width="0.9" height="0.9" fill="#e9d8ab"/>
<rect x="188.9" y="379.8" width="0.9" height="0.9" fill="#eddfb9"/>
<rect x="162.6" y="385.3" width="0.9" height="0.9" fill="#dcc286"/>
<rect x="227.4" y="432.2" width="0.9" height="0.9" fill="#eddfb9"/>
<rect x="228.2" y="430.9" width="0.9" height="0.9" fill="#e4cf9b"/>
<rect x="190.2" y="386.4" width="0.9" height="0.9" fill="#dcc286"/>
<rect x="180.3" y="386.8" width="0.9" height="0.9" fill="#eddfb9"/>
<rect x="193.0" y="401.6" width="0.9" height="0.9" fill="#eddfb9"/>
<rect x="142.4" y="380.3" width="0.9" height="0.9" fill="#dcc286"/>
<rect x="229.4" y="441.8" width="0.9" height="0.9" fill="#e4cf9b"/>
<rect x="208.1" y="401.1" width="0.9" height="0.9" fill="#dcc286"/>
<rect x="177.1" y="384.4" width="0.9" height="0.9" fill="#e9d8ab"/>
<rect x="225.4" y="435.7" width="0.9" height="0.9" fill="#e9d8ab"/>
<rect x="170.5" y="370.5" width="0.9" height="0.9" fill="#e4cf9b"/>
<rect x="153.5" y="377.8" width="0.9" height="0.9" fill="#eddfb9"/>
<rect x="181.4" y="389.9" width="0.9" height="0.9" fill="#e9d8ab"/>
<rect x="147.4" y="364.0" width="0.9" height="0.9" fill="#dcc286"/>
<rect x="227.2" y="430.7" width="0.9" height="0.9" fill="#dcc286"/>
<rect x="212.2" y="404.7" width="0.9" height="0.9" fill="#dcc286"/>
<rect x="190.8" y="381.5" width="0.9" height="0.9" fill="#dcc286"/>
<rect x="181.4" y="379.5" width="0.9" height="0.9" fill="#e9d8ab"/>
<rect x="229.0" y="432.3" width="0.9" height="0.9" fill="#e4cf9b"/>
<rect x="229.3" y="434.5" width="0.9" height="0.9" fill="#dcc286"/>
<rect x="196.2" y="396.5" width="0.9" height="0.9" fill="#e9d8ab"/>
<rect x="227.1" y="441.8" width="0.9" height="0.9" fill="#e9d8ab"/>
<rect x="165.4" y="386.4" width="0.9" height="0.9" fill="#eddfb9"/>
<rect x="209.0" y="422.9" width="0.9" height="0.9" fill="#e4cf9b"/>
<rect x="194.1" y="384.6" width="0.9" height="0.9" fill="#dcc286"/>
<rect x="207.4" y="410.1" width="0.9" height="0.9" fill="#e4cf9b"/>
<rect x="174.8" y="389.7" width="0.9" height="0.9" fill="#e4cf9b"/>
<rect x="140.6" y="374.8" width="0.9" height="0.9" fill="#e9d8ab"/>
<rect x="175.9" y="381.2" width="0.9" height="0.9" fill="#e4cf9b"/>
<rect x="221.9" y="445.8" width="0.9" height="0.9" fill="#dcc286"/>
<rect x="221.1" y="437.3" width="0.9" height="0.9" fill="#dcc286"/>
<rect x="157.5" y="384.8" width="0.9" height="0.9" fill="#eddfb9"/>
<rect x="220.6" y="442.6" width="0.9" height="0.9" fill="#eddfb9"/>
<rect x="141.8" y="374.1" width="0.9" height="0.9" fill="#eddfb9"/>
<rect x="226.9" y="445.4" width="0.9" height="0.9" fill="#eddfb9"/>
<rect x="173.4" y="390.3" width="0.9" height="0.9" fill="#e4cf9b"/>
<rect x="148.0" y="378.7" width="0.9" height="0.9" fill="#dcc286"/>
<rect x="209.3" y="399.9" width="0.9" height="0.9" fill="#e4cf9b"/>
<rect x="215.9" y="444.2" width="0.9" height="0.9" fill="#eddfb9"/>
<rect x="211.1" y="408.1" width="0.9" height="0.9" fill="#e9d8ab"/>
<rect x="206.5" y="401.9" width="0.9" height="0.9" fill="#dcc286"/>
<rect x="211.3" y="420.0" width="0.9" height="0.9" fill="#dcc286"/>
<rect x="218.7" y="420.8" width="0.9" height="0.9" fill="#e4cf9b"/>
<rect x="182.5" y="377.7" width="0.9" height="0.9" fill="#e4cf9b"/>
<rect x="215.5" y="419.7" width="0.9" height="0.9" fill="#dcc286"/>
<rect x="199.8" y="412.4" width="0.9" height="0.9" fill="#dcc286"/>
<rect x="202.2" y="407.1" width="0.9" height="0.9" fill="#eddfb9"/>
<rect x="203.9" y="395.4" width="0.9" height="0.9" fill="#eddfb9"/>
<rect x="218.8" y="445.5" width="0.9" height="0.9" fill="#e9d8ab"/>
<rect x="201.6" y="395.5" width="0.9" height="0.9" fill="#dcc286"/>
<rect x="224.4" y="424.3" width="0.9" height="0.9" fill="#e9d8ab"/>
<rect x="213.3" y="422.2" width="0.9" height="0.9" fill="#e9d8ab"/>
<rect x="213.3" y="408.8" width="0.9" height="0.9" fill="#e4cf9b"/>
<rect x="202.1" y="419.9" width="0.9" height="0.9" fill="#e9d8ab"/>
<rect x="215.6" y="405.3" width="0.9" height="0.9" fill="#e9d8ab"/>
<rect x="198.0" y="399.8" width="0.9" height="0.9" fill="#e9d8ab"/>
<rect x="218.2" y="424.8" width="0.9" height="0.9" fill="#e9d8ab"/>
<rect x="219.9" y="416.4" width="0.9" height="0.9" fill="#e4cf9b"/>
<rect x="156.3" y="370.8" width="0.9" height="0.9" fill="#eddfb9"/>
<rect x="220.9" y="428.1" width="0.9" height="0.9" fill="#dcc286"/>
<rect x="232.8" y="453.7" width="0.9" height="0.9" fill="#eddfb9"/>
<rect x="228.1" y="430.4" width="0.9" height="0.9" fill="#dcc286"/>
<rect x="202.2" y="404.7" width="0.9" height="0.9" fill="#e9d8ab"/>
<rect x="210.9" y="431.0" width="0.9" height="0.9" fill="#e4cf9b"/>
<rect x="218.8" y="433.1" width="0.9" height="0.9" fill="#e4cf9b"/>
<rect x="206.4" y="406.6" width="0.9" height="0.9" fill="#e4cf9b"/>
<rect x="191.8" y="404.6" width="0.9" height="0.9" fill="#eddfb9"/>
<rect x="220.9" y="414.2" width="0.9" height="0.9" fill="#dcc286"/>
<rect x="162.0" y="383.0" width="0.9" height="0.9" fill="#e4cf9b"/>
<rect x="213.0" y="425.8" width="0.9" height="0.9" fill="#eddfb9"/>
<rect x="175.2" y="390.7" width="0.9" height="0.9" fill="#e9d8ab"/>
<rect x="192.8" y="393.9" width="0.9" height="0.9" fill="#e9d8ab"/>
<rect x="197.0" y="412.3" width="0.9" height="0.9" fill="#e9d8ab"/>
<rect x="183.5" y="374.6" width="0.9" height="0.9" fill="#eddfb9"/>
<rect x="226.3" y="444.9" width="0.9" height="0.9" fill="#dcc286"/>
<rect x="155.2" y="385.3" width="0.9" height="0.9" fill="#eddfb9"/>
<rect x="222.5" y="440.3" width="0.9" height="0.9" fill="#eddfb9"/>
<rect x="186.8" y="393.6" width="0.9" height="0.9" fill="#dcc286"/>
<rect x="197.2" y="390.9" width="0.9" height="0.9" fill="#eddfb9"/>
<rect x="196.7" y="396.3" width="0.9" height="0.9" fill="#e9d8ab"/>
<rect x="196.9" y="391.9" width="0.9" height="0.9" fill="#e9d8ab"/>
<rect x="149.1" y="382.3" width="0.9" height="0.9" fill="#e9d8ab"/>
<rect x="227.3" y="438.9" width="0.9" height="0.9" fill="#e4cf9b"/>
<rect x="171.5" y="381.9" width="0.9" height="0.9" fill="#dcc286"/>
<rect x="185.8" y="392.8" width="0.9" height="0.9" fill="#eddfb9"/>
<rect x="217.1" y="426.8" width="0.9" height="0.9" fill="#dcc286"/>
<rect x="202.1" y="405.8" width="0.9" height="0.9" fill="#dcc286"/>
<rect x="154.2" y="376.3" width="0.9" height="0.9" fill="#e9d8ab"/>
<rect x="176.9" y="394.0" width="0.9" height="0.9" fill="#eddfb9"/>
<rect x="153.6" y="372.3" width="0.9" height="0.9" fill="#e9d8ab"/>
<rect x="175.5" y="386.9" width="0.9" height="0.9" fill="#eddfb9"/>
<rect x="209.6" y="417.7" width="0.9" height="0.9" fill="#e9d8ab"/>
<rect x="161.8" y="381.9" width="0.9" height="0.9" fill="#e9d8ab"/>
<rect x="146.5" y="365.3" width="0.9" height="0.9" fill="#e4cf9b"/>
<rect x="220.8" y="416.5" width="0.9" height="0.9" fill="#e9d8ab"/>
<rect x="156.7" y="365.8" width="0.9" height="0.9" fill="#eddfb9"/>
<rect x="172.4" y="375.7" width="0.9" height="0.9" fill="#eddfb9"/>
<rect x="218.8" y="412.3" width="0.9" height="0.9" fill="#e4cf9b"/>
<rect x="166.6" y="375.1" width="0.9" height="0.9" fill="#eddfb9"/>
<rect x="148.5" y="369.9" width="0.9" height="0.9" fill="#e4cf9b"/>
<rect x="151.5" y="366.7" width="0.9" height="0.9" fill="#e9d8ab"/>
<rect x="196.9" y="398.3" width="0.9" height="0.9" fill="#dcc286"/>
<rect x="144.5" y="376.1" width="0.9" height="0.9" fill="#eddfb9"/>
<rect x="181.6" y="390.1" width="0.9" height="0.9" fill="#e9d8ab"/>
<rect x="167.5" y="381.5" width="0.9" height="0.9" fill="#e4cf9b"/>
<rect x="204.4" y="402.7" width="0.9" height="0.9" fill="#dcc286"/>
<rect x="143.3" y="378.0" width="0.9" height="0.9" fill="#e9d8ab"/>
<rect x="229.6" y="434.0" width="0.9" height="0.9" fill="#e9d8ab"/>
<rect x="189.0" y="404.6" width="0.9" height="0.9" fill="#e4cf9b"/>
<rect x="229.8" y="437.3" width="0.9" height="0.9" fill="#e4cf9b"/>
<rect x="149.5" y="379.0" width="0.9" height="0.9" fill="#dcc286"/>
<rect x="193.7" y="381.9" width="0.9" height="0.9" fill="#dcc286"/>
<rect x="190.4" y="402.8" width="0.9" height="0.9" fill="#e4cf9b"/>
<rect x="217.3" y="454.5" width="0.9" height="0.9" fill="#dcc286"/>
<rect x="154.6" y="379.3" width="0.9" height="0.9" fill="#e4cf9b"/>
<rect x="207.0" y="395.5" width="0.9" height="0.9" fill="#e9d8ab"/>
<rect x="202.8" y="391.5" width="0.9" height="0.9" fill="#eddfb9"/>
<rect x="230.6" y="455.5" width="0.9" height="0.9" fill="#dcc286"/>
<rect x="214.9" y="415.5" width="0.9" height="0.9" fill="#dcc286"/>
<rect x="220.2" y="430.9" width="0.9" height="0.9" fill="#e9d8ab"/>
<rect x="178.2" y="377.3" width="0.9" height="0.9" fill="#e4cf9b"/>
<rect x="222.0" y="431.4" width="0.9" height="0.9" fill="#e9d8ab"/>
<rect x="227.1" y="454.3" width="0.9" height="0.9" fill="#dcc286"/>
<rect x="213.0" y="416.8" width="0.9" height="0.9" fill="#dcc286"/>
<rect x="175.7" y="380.6" width="0.9" height="0.9" fill="#dcc286"/>
<rect x="219.6" y="410.5" width="0.9" height="0.9" fill="#e9d8ab"/>
<rect x="207.0" y="404.6" width="0.9" height="0.9" fill="#dcc286"/>
<rect x="204.4" y="393.7" width="0.9" height="0.9" fill="#e9d8ab"/>
<rect x="212.8" y="452.4" width="0.9" height="0.9" fill="#e9d8ab"/>
<rect x="217.4" y="415.2" width="0.9" height="0.9" fill="#e9d8ab"/>
<rect x="196.8" y="395.5" width="0.9" height="0.9" fill="#e9d8ab"/>
<rect x="215.6" y="426.7" width="0.9" height="0.9" fill="#e4cf9b"/>
<rect x="208.6" y="397.7" width="0.9" height="0.9" fill="#e4cf9b"/>
<rect x="169.0" y="385.2" width="0.9" height="0.9" fill="#e4cf9b"/>
<rect x="209.8" y="414.4" width="0.9" height="0.9" fill="#e9d8ab"/>
<rect x="212.6" y="454.9" width="0.9" height="0.9" fill="#eddfb9"/>
<rect x="205.4" y="397.3" width="0.9" height="0.9" fill="#e4cf9b"/>
<rect x="141.5" y="381.5" width="0.9" height="0.9" fill="#e4cf9b"/>
<rect x="180.6" y="375.1" width="0.9" height="0.9" fill="#e4cf9b"/>
<rect x="210.6" y="443.7" width="0.9" height="0.9" fill="#dcc286"/>
<rect x="223.2" y="435.3" width="0.9" height="0.9" fill="#e4cf9b"/>
<rect x="194.8" y="395.3" width="0.9" height="0.9" fill="#eddfb9"/>
<rect x="207.3" y="422.9" width="0.9" height="0.9" fill="#eddfb9"/>
<rect x="203.4" y="402.4" width="0.9" height="0.9" fill="#dcc286"/>
<rect x="188.7" y="387.3" width="0.9" height="0.9" fill="#eddfb9"/>
<rect x="228.3" y="428.6" width="0.9" height="0.9" fill="#eddfb9"/>
<rect x="150.5" y="377.9" width="0.9" height="0.9" fill="#e9d8ab"/>
<rect x="198.6" y="402.3" width="0.9" height="0.9" fill="#e4cf9b"/>
<rect x="218.0" y="412.0" width="0.9" height="0.9" fill="#dcc286"/>
<rect x="220.1" y="455.9" width="0.9" height="0.9" fill="#e9d8ab"/>
<rect x="153.3" y="376.8" width="0.9" height="0.9" fill="#e9d8ab"/>
<rect x="229.7" y="449.1" width="0.9" height="0.9" fill="#e4cf9b"/>
<rect x="151.3" y="373.1" width="0.9" height="0.9" fill="#e9d8ab"/>
<rect x="190.3" y="381.8" width="0.9" height="0.9" fill="#e4cf9b"/>
<rect x="147.5" y="373.7" width="0.9" height="0.9" fill="#eddfb9"/>
<rect x="144.2" y="365.8" width="0.9" height="0.9" fill="#e4cf9b"/>
<rect x="221.8" y="445.3" width="0.9" height="0.9" fill="#e4cf9b"/>
<rect x="172.6" y="391.9" width="0.9" height="0.9" fill="#e9d8ab"/>
<rect x="191.8" y="384.6" width="0.9" height="0.9" fill="#dcc286"/>
<rect x="211.9" y="398.5" width="0.9" height="0.9" fill="#eddfb9"/>
<rect x="192.4" y="389.4" width="0.9" height="0.9" fill="#dcc286"/>
<rect x="168.3" y="369.1" width="0.9" height="0.9" fill="#e9d8ab"/>
<rect x="211.3" y="404.7" width="0.9" height="0.9" fill="#dcc286"/>
<rect x="186.2" y="382.1" width="0.9" height="0.9" fill="#eddfb9"/>
<rect x="212.9" y="437.5" width="0.9" height="0.9" fill="#eddfb9"/>
<rect x="177.7" y="394.8" width="0.9" height="0.9" fill="#eddfb9"/>
<rect x="225.0" y="452.4" width="0.9" height="0.9" fill="#e4cf9b"/>
<rect x="207.3" y="399.3" width="0.9" height="0.9" fill="#e9d8ab"/>
<rect x="139.7" y="382.7" width="0.9" height="0.9" fill="#eddfb9"/>
<rect x="222.6" y="436.4" width="0.9" height="0.9" fill="#e9d8ab"/>
<rect x="191.7" y="393.9" width="0.9" height="0.9" fill="#e9d8ab"/>
<rect x="209.2" y="410.3" width="0.9" height="0.9" fill="#eddfb9"/>
<rect x="183.4" y="400.0" width="0.9" height="0.9" fill="#e4cf9b"/>
<rect x="193.2" y="394.3" width="0.9" height="0.9" fill="#eddfb9"/>
<rect x="185.9" y="390.0" width="0.9" height="0.9" fill="#e9d8ab"/>
<rect x="201.8" y="401.6" width="0.9" height="0.9" fill="#e9d8ab"/>
<rect x="148.8" y="365.4" width="0.9" height="0.9" fill="#eddfb9"/>
<rect x="207.5" y="405.5" width="0.9" height="0.9" fill="#e4cf9b"/>
<rect x="170.7" y="370.0" width="0.9" height="0.9" fill="#eddfb9"/>
<rect x="196.7" y="408.4" width="0.9" height="0.9" fill="#e4cf9b"/>
<rect x="163.1" y="375.2" width="0.9" height="0.9" fill="#e4cf9b"/>
<rect x="151.9" y="372.6" width="0.9" height="0.9" fill="#e9d8ab"/>
<rect x="200.8" y="394.8" width="0.9" height="0.9" fill="#e4cf9b"/>
<rect x="205.2" y="414.0" width="0.9" height="0.9" fill="#eddfb9"/>
<rect x="202.0" y="389.4" width="0.9" height="0.9" fill="#e9d8ab"/>
<rect x="187.8" y="391.9" width="0.9" height="0.9" fill="#dcc286"/>
<rect x="205.7" y="393.6" width="0.9" height="0.9" fill="#eddfb9"/>
<rect x="220.6" y="423.1" width="0.9" height="0.9" fill="#dcc286"/>
<rect x="172.7" y="386.9" width="0.9" height="0.9" fill="#e9d8ab"/>
<rect x="198.5" y="394.1" width="0.9" height="0.9" fill="#e4cf9b"/>
<rect x="219.0" y="442.1" width="0.9" height="0.9" fill="#e9d8ab"/>
<rect x="186.1" y="389.6" width="0.9" height="0.9" fill="#e4cf9b"/>
<rect x="207.0" y="406.9" width="0.9" height="0.9" fill="#e9d8ab"/>
<rect x="148.2" y="374.2" width="0.9" height="0.9" fill="#eddfb9"/>
<rect x="226.1" y="438.5" width="0.9" height="0.9" fill="#e9d8ab"/>
<rect x="201.0" y="388.8" width="0.9" height="0.9" fill="#e4cf9b"/>
<rect x="212.8" y="420.9" width="0.9" height="0.9" fill="#eddfb9"/>
<rect x="157.1" y="374.9" width="0.9" height="0.9" fill="#e9d8ab"/>
<rect x="149.5" y="364.1" width="0.9" height="0.9" fill="#dcc286"/>
<rect x="218.0" y="447.7" width="0.9" height="0.9" fill="#e4cf9b"/>
<rect x="207.8" y="398.5" width="0.9" height="0.9" fill="#e4cf9b"/>
<rect x="201.5" y="403.3" width="0.9" height="0.9" fill="#e4cf9b"/>
<rect x="196.6" y="388.2" width="0.9" height="0.9" fill="#e4cf9b"/>
<rect x="228.9" y="453.9" width="0.9" height="0.9" fill="#eddfb9"/>
<rect x="206.9" y="394.1" width="0.9" height="0.9" fill="#eddfb9"/>
<rect x="188.6" y="386.1" width="0.9" height="0.9" fill="#e4cf9b"/>
<rect x="225.5" y="428.7" width="0.9" height="0.9" fill="#eddfb9"/>
<rect x="197.3" y="413.2" width="0.9" height="0.9" fill="#e9d8ab"/>
<rect x="216.2" y="436.8" width="0.9" height="0.9" fill="#dcc286"/>
<rect x="203.7" y="393.3" width="0.9" height="0.9" fill="#e9d8ab"/>
<rect x="223.2" y="421.3" width="0.9" height="0.9" fill="#e9d8ab"/>
<rect x="202.3" y="389.7" width="0.9" height="0.9" fill="#e9d8ab"/>
<rect x="214.5" y="430.7" width="0.9" height="0.9" fill="#eddfb9"/>
<rect x="232.3" y="455.8" width="0.9" height="0.9" fill="#dcc286"/>
<rect x="175.9" y="380.2" width="0.9" height="0.9" fill="#eddfb9"/>
<rect x="166.8" y="370.0" width="0.9" height="0.9" fill="#eddfb9"/>
<rect x="156.1" y="372.8" width="0.9" height="0.9" fill="#e9d8ab"/>
<rect x="174.9" y="386.7" width="0.9" height="0.9" fill="#e9d8ab"/>
<rect x="198.5" y="387.0" width="0.9" height="0.9" fill="#dcc286"/>
<rect x="159.3" y="371.4" width="0.9" height="0.9" fill="#e9d8ab"/>
<rect x="224.8" y="420.9" width="0.9" height="0.9" fill="#e9d8ab"/>
<rect x="208.9" y="422.6" width="0.9" height="0.9" fill="#dcc286"/>
<rect x="175.5" y="379.8" width="0.9" height="0.9" fill="#e4cf9b"/>
<rect x="207.0" y="408.9" width="0.9" height="0.9" fill="#e9d8ab"/>
<rect x="179.3" y="383.8" width="0.9" height="0.9" fill="#e4cf9b"/>
<rect x="195.4" y="399.6" width="0.9" height="0.9" fill="#e4cf9b"/>
<rect x="226.6" y="448.1" width="0.9" height="0.9" fill="#e4cf9b"/>
<rect x="214.3" y="408.5" width="0.9" height="0.9" fill="#e4cf9b"/>
<rect x="206.3" y="394.5" width="0.9" height="0.9" fill="#eddfb9"/>
<rect x="205.1" y="404.0" width="0.9" height="0.9" fill="#dcc286"/>
<rect x="210.1" y="415.9" width="0.9" height="0.9" fill="#dcc286"/>
<rect x="229.5" y="439.3" width="0.9" height="0.9" fill="#eddfb9"/>
<rect x="204.8" y="419.2" width="0.9" height="0.9" fill="#e9d8ab"/>
<rect x="199.4" y="406.2" width="0.9" height="0.9" fill="#dcc286"/>
<rect x="162.0" y="382.6" width="0.9" height="0.9" fill="#eddfb9"/>
<rect x="207.3" y="427.6" width="0.9" height="0.9" fill="#e9d8ab"/>
<rect x="209.6" y="430.6" width="0.9" height="0.9" fill="#dcc286"/>
<rect x="216.0" y="431.1" width="0.9" height="0.9" fill="#e4cf9b"/>
<rect x="160.6" y="387.2" width="0.9" height="0.9" fill="#e9d8ab"/>
<rect x="208.9" y="425.9" width="0.9" height="0.9" fill="#e9d8ab"/>
<rect x="205.5" y="391.9" width="0.9" height="0.9" fill="#e4cf9b"/>
<rect x="174.0" y="386.4" width="0.9" height="0.9" fill="#e9d8ab"/>
<rect x="211.5" y="454.2" width="0.9" height="0.9" fill="#e9d8ab"/>
<rect x="227.4" y="447.7" width="0.9" height="0.9" fill="#e9d8ab"/>
<rect x="159.8" y="369.7" width="0.9" height="0.9" fill="#eddfb9"/>
<rect x="178.8" y="384.4" width="0.9" height="0.9" fill="#e4cf9b"/>
<rect x="170.1" y="387.1" width="0.9" height="0.9" fill="#e9d8ab"/>
<rect x="159.2" y="384.9" width="0.9" height="0.9" fill="#e4cf9b"/>
<rect x="215.7" y="403.8" width="0.9" height="0.9" fill="#eddfb9"/>
<rect x="225.0" y="454.1" width="0.9" height="0.9" fill="#e4cf9b"/>
<rect x="203.7" y="404.2" width="0.9" height="0.9" fill="#e4cf9b"/>
<rect x="229.8" y="452.5" width="0.9" height="0.9" fill="#eddfb9"/>
<rect x="217.1" y="456.0" width="0.9" height="0.9" fill="#eddfb9"/>
<rect x="205.3" y="404.5" width="0.9" height="0.9" fill="#e4cf9b"/>
<rect x="146.5" y="380.0" width="0.9" height="0.9" fill="#e9d8ab"/>
<rect x="215.9" y="428.2" width="0.9" height="0.9" fill="#eddfb9"/>
<rect x="215.8" y="452.8" width="0.9" height="0.9" fill="#dcc286"/>
<rect x="208.1" y="400.2" width="0.9" height="0.9" fill="#e4cf9b"/>
<rect x="206.6" y="422.2" width="0.9" height="0.9" fill="#eddfb9"/>
<rect x="178.2" y="382.1" width="0.9" height="0.9" fill="#eddfb9"/>
<rect x="213.3" y="409.3" width="0.9" height="0.9" fill="#eddfb9"/>
<rect x="220.2" y="419.1" width="0.9" height="0.9" fill="#dcc286"/>
<rect x="223.7" y="417.4" width="0.9" height="0.9" fill="#e9d8ab"/>
<rect x="232.1" y="453.0" width="0.9" height="0.9" fill="#e9d8ab"/>
<rect x="200.9" y="412.8" width="0.9" height="0.9" fill="#e9d8ab"/>
<rect x="214.6" y="453.4" width="0.9" height="0.9" fill="#dcc286"/>
<rect x="172.5" y="389.0" width="0.9" height="0.9" fill="#dcc286"/>
<rect x="169.2" y="388.1" width="0.9" height="0.9" fill="#dcc286"/>
<rect x="211.7" y="430.3" width="0.9" height="0.9" fill="#e9d8ab"/>
<rect x="148.2" y="365.4" width="0.9" height="0.9" fill="#eddfb9"/>
<rect x="192.6" y="406.4" width="0.9" height="0.9" fill="#e4cf9b"/>
<rect x="192.5" y="407.6" width="0.9" height="0.9" fill="#e4cf9b"/>
<rect x="153.2" y="366.2" width="0.9" height="0.9" fill="#dcc286"/>
<rect x="204.3" y="411.5" width="0.9" height="0.9" fill="#e4cf9b"/>
<rect x="181.7" y="375.8" width="0.9" height="0.9" fill="#dcc286"/>
<rect x="188.9" y="392.8" width="0.9" height="0.9" fill="#eddfb9"/>
<rect x="215.3" y="422.1" width="0.9" height="0.9" fill="#eddfb9"/>
<rect x="143.4" y="372.0" width="0.9" height="0.9" fill="#eddfb9"/>
<rect x="174.5" y="393.3" width="0.9" height="0.9" fill="#eddfb9"/>
<rect x="222.1" y="434.6" width="0.9" height="0.9" fill="#eddfb9"/>
<rect x="160.6" y="380.2" width="0.9" height="0.9" fill="#e4cf9b"/>
<rect x="222.2" y="423.7" width="0.9" height="0.9" fill="#eddfb9"/>
<rect x="179.4" y="394.2" width="0.9" height="0.9" fill="#dcc286"/>
<rect x="177.1" y="387.8" width="0.9" height="0.9" fill="#e9d8ab"/>
<rect x="208.5" y="406.0" width="0.9" height="0.9" fill="#e4cf9b"/>
<rect x="144.0" y="367.7" width="0.9" height="0.9" fill="#eddfb9"/>
<rect x="210.6" y="397.4" width="0.9" height="0.9" fill="#eddfb9"/>
<rect x="180.9" y="375.3" width="0.9" height="0.9" fill="#e4cf9b"/>
<rect x="214.8" y="428.1" width="0.9" height="0.9" fill="#eddfb9"/>
<rect x="216.0" y="403.5" width="0.9" height="0.9" fill="#dcc286"/>
<rect x="151.0" y="367.9" width="0.9" height="0.9" fill="#e9d8ab"/>
<rect x="145.6" y="367.6" width="0.9" height="0.9" fill="#e4cf9b"/>
<rect x="225.4" y="444.1" width="0.9" height="0.9" fill="#eddfb9"/>
<rect x="206.8" y="395.1" width="0.9" height="0.9" fill="#e9d8ab"/>
<rect x="180.1" y="378.3" width="0.9" height="0.9" fill="#e9d8ab"/>
<rect x="179.1" y="385.7" width="0.9" height="0.9" fill="#eddfb9"/>
<rect x="188.1" y="393.9" width="0.9" height="0.9" fill="#eddfb9"/>
<rect x="202.2" y="406.7" width="0.9" height="0.9" fill="#e9d8ab"/>
<rect x="146.7" y="367.8" width="0.9" height="0.9" fill="#dcc286"/>
<rect x="168.0" y="374.1" width="0.9" height="0.9" fill="#e9d8ab"/>
<rect x="159.7" y="371.8" width="0.9" height="0.9" fill="#e9d8ab"/>
<rect x="166.1" y="386.9" width="0.9" height="0.9" fill="#dcc286"/>
<rect x="206.3" y="423.5" width="0.9" height="0.9" fill="#eddfb9"/>
<rect x="173.2" y="392.8" width="0.9" height="0.9" fill="#e9d8ab"/>
<rect x="162.7" y="377.9" width="0.9" height="0.9" fill="#e4cf9b"/>
<rect x="207.4" y="408.2" width="0.9" height="0.9" fill="#e9d8ab"/>
<rect x="216.5" y="409.8" width="0.9" height="0.9" fill="#dcc286"/>
<rect x="159.4" y="374.7" width="0.9" height="0.9" fill="#e4cf9b"/>
<rect x="213.6" y="438.6" width="0.9" height="0.9" fill="#dcc286"/>
<rect x="217.5" y="410.6" width="0.9" height="0.9" fill="#e4cf9b"/>
<rect x="154.5" y="378.9" width="0.9" height="0.9" fill="#e9d8ab"/>
<rect x="180.1" y="392.7" width="0.9" height="0.9" fill="#e4cf9b"/>
<rect x="200.2" y="416.4" width="0.9" height="0.9" fill="#dcc286"/>
<rect x="196.2" y="407.2" width="0.9" height="0.9" fill="#e9d8ab"/>
<rect x="218.9" y="444.7" width="0.9" height="0.9" fill="#e4cf9b"/>
<rect x="168.1" y="374.4" width="0.9" height="0.9" fill="#e9d8ab"/>
<rect x="157.3" y="379.4" width="0.9" height="0.9" fill="#e4cf9b"/>
<rect x="158.9" y="379.8" width="0.9" height="0.9" fill="#eddfb9"/>
<rect x="207.2" y="397.8" width="0.9" height="0.9" fill="#eddfb9"/>
<rect x="192.7" y="401.1" width="0.9" height="0.9" fill="#e9d8ab"/>
<rect x="154.7" y="372.0" width="0.9" height="0.9" fill="#e9d8ab"/>
<rect x="227.5" y="447.5" width="0.9" height="0.9" fill="#dcc286"/>
<rect x="174.0" y="371.2" width="0.9" height="0.9" fill="#eddfb9"/>
<rect x="211.5" y="448.1" width="0.9" height="0.9" fill="#dcc286"/>
<rect x="143.2" y="380.8" width="0.9" height="0.9" fill="#eddfb9"/>
<rect x="210.8" y="441.1" width="0.9" height="0.9" fill="#e9d8ab"/>
<rect x="186.4" y="388.5" width="0.9" height="0.9" fill="#eddfb9"/>
<rect x="147.2" y="385.2" width="0.9" height="0.9" fill="#e9d8ab"/>
<rect x="155.7" y="382.3" width="0.9" height="0.9" fill="#e4cf9b"/>
<rect x="216.4" y="445.7" width="0.9" height="0.9" fill="#eddfb9"/>
<rect x="222.6" y="448.5" width="0.9" height="0.9" fill="#dcc286"/>
<rect x="215.4" y="439.3" width="0.9" height="0.9" fill="#dcc286"/>
<rect x="230.7" y="440.7" width="0.9" height="0.9" fill="#eddfb9"/>
<rect x="207.5" y="410.5" width="0.9" height="0.9" fill="#e9d8ab"/>
<rect x="206.0" y="412.1" width="0.9" height="0.9" fill="#dcc286"/>
<rect x="182.3" y="390.6" width="0.9" height="0.9" fill="#e9d8ab"/>
<rect x="200.3" y="401.3" width="0.9" height="0.9" fill="#dcc286"/>
<rect x="222.2" y="448.6" width="0.9" height="0.9" fill="#dcc286"/>
<rect x="180.9" y="386.7" width="0.9" height="0.9" fill="#e9d8ab"/>
<rect x="167.9" y="384.7" width="0.9" height="0.9" fill="#e4cf9b"/>
<rect x="148.0" y="371.0" width="0.9" height="0.9" fill="#eddfb9"/>
<rect x="183.2" y="397.1" width="0.9" height="0.9" fill="#dcc286"/>
<rect x="193.8" y="389.5" width="0.9" height="0.9" fill="#dcc286"/>
<rect x="226.6" y="441.3" width="0.9" height="0.9" fill="#e4cf9b"/>
<rect x="191.9" y="395.8" width="0.9" height="0.9" fill="#e9d8ab"/>
<rect x="216.3" y="409.4" width="0.9" height="0.9" fill="#e4cf9b"/>
<rect x="185.2" y="377.0" width="0.9" height="0.9" fill="#dcc286"/>
<rect x="218.7" y="447.8" width="0.9" height="0.9" fill="#e9d8ab"/>
<rect x="152.0" y="385.3" width="0.9" height="0.9" fill="#e4cf9b"/>
<rect x="173.3" y="372.4" width="0.9" height="0.9" fill="#e4cf9b"/>
<rect x="155.1" y="366.7" width="0.9" height="0.9" fill="#eddfb9"/>
<rect x="163.2" y="381.3" width="0.9" height="0.9" fill="#e4cf9b"/>
<rect x="206.1" y="408.7" width="0.9" height="0.9" fill="#dcc286"/>
<rect x="211.6" y="401.0" width="0.9" height="0.9" fill="#e9d8ab"/>
<rect x="220.2" y="435.6" width="0.9" height="0.9" fill="#e9d8ab"/>
<rect x="189.2" y="379.9" width="0.9" height="0.9" fill="#e9d8ab"/>
<rect x="165.8" y="377.0" width="0.9" height="0.9" fill="#e4cf9b"/>
<rect x="188.0" y="392.1" width="0.9" height="0.9" fill="#eddfb9"/>
<rect x="201.8" y="413.0" width="0.9" height="0.9" fill="#e4cf9b"/>
<rect x="199.6" y="395.7" width="0.9" height="0.9" fill="#dcc286"/>
<rect x="221.9" y="425.0" width="0.9" height="0.9" fill="#eddfb9"/>
<rect x="222.7" y="436.4" width="0.9" height="0.9" fill="#eddfb9"/>
<rect x="229.6" y="449.2" width="0.9" height="0.9" fill="#eddfb9"/>
<rect x="218.7" y="457.0" width="0.9" height="0.9" fill="#dcc286"/>
<rect x="159.1" y="375.5" width="0.9" height="0.9" fill="#e9d8ab"/>
<rect x="161.0" y="374.7" width="0.9" height="0.9" fill="#e4cf9b"/>
<rect x="170.6" y="373.5" width="0.9" height="0.9" fill="#eddfb9"/>
<rect x="170.5" y="375.1" width="0.9" height="0.9" fill="#eddfb9"/>
<rect x="211.3" y="417.3" width="0.9" height="0.9" fill="#eddfb9"/>
<rect x="210.3" y="429.3" width="0.9" height="0.9" fill="#eddfb9"/>
<rect x="222.8" y="428.7" width="0.9" height="0.9" fill="#dcc286"/>
<rect x="212.8" y="401.4" width="0.9" height="0.9" fill="#e4cf9b"/>
<rect x="230.0" y="443.8" width="0.9" height="0.9" fill="#dcc286"/>
<rect x="218.3" y="416.3" width="0.9" height="0.9" fill="#e9d8ab"/>
<rect x="219.1" y="450.4" width="0.9" height="0.9" fill="#eddfb9"/>
<rect x="213.5" y="441.6" width="0.9" height="0.9" fill="#e4cf9b"/>
<rect x="230.4" y="436.8" width="0.9" height="0.9" fill="#e9d8ab"/>
<rect x="212.4" y="427.1" width="0.9" height="0.9" fill="#dcc286"/>
<rect x="179.5" y="380.8" width="0.9" height="0.9" fill="#e4cf9b"/>
<rect x="172.8" y="380.0" width="0.9" height="0.9" fill="#eddfb9"/>
<rect x="170.4" y="382.1" width="0.9" height="0.9" fill="#e4cf9b"/>
<rect x="150.6" y="381.8" width="0.9" height="0.9" fill="#e9d8ab"/>
<rect x="197.6" y="405.5" width="0.9" height="0.9" fill="#eddfb9"/>
<rect x="206.7" y="396.8" width="0.9" height="0.9" fill="#dcc286"/>
<rect x="210.1" y="399.4" width="0.9" height="0.9" fill="#e9d8ab"/>
<rect x="189.5" y="399.1" width="0.9" height="0.9" fill="#dcc286"/>
<rect x="186.8" y="393.3" width="0.9" height="0.9" fill="#eddfb9"/>
<rect x="186.0" y="392.6" width="0.9" height="0.9" fill="#dcc286"/>
<rect x="210.6" y="440.5" width="0.9" height="0.9" fill="#e4cf9b"/>
<rect x="152.7" y="384.6" width="0.9" height="0.9" fill="#e9d8ab"/>
<rect x="140.7" y="373.5" width="0.9" height="0.9" fill="#e4cf9b"/>
<rect x="203.9" y="414.2" width="0.9" height="0.9" fill="#e9d8ab"/>
<rect x="216.8" y="410.0" width="0.9" height="0.9" fill="#e4cf9b"/>
<rect x="226.0" y="431.3" width="0.9" height="0.9" fill="#dcc286"/>
<rect x="211.3" y="430.4" width="0.9" height="0.9" fill="#e4cf9b"/>
<rect x="160.0" y="381.2" width="0.9" height="0.9" fill="#eddfb9"/>
<rect x="149.4" y="376.5" width="0.9" height="0.9" fill="#e4cf9b"/>
<rect x="214.3" y="409.5" width="0.9" height="0.9" fill="#e9d8ab"/>
<rect x="221.2" y="429.7" width="0.9" height="0.9" fill="#dcc286"/>
<rect x="208.1" y="423.8" width="0.9" height="0.9" fill="#e9d8ab"/>
<rect x="196.6" y="412.3" width="0.9" height="0.9" fill="#e9d8ab"/>
<rect x="202.5" y="416.2" width="0.9" height="0.9" fill="#e9d8ab"/>
<rect x="153.5" y="368.9" width="0.9" height="0.9" fill="#eddfb9"/>
<rect x="225.2" y="431.4" width="0.9" height="0.9" fill="#dcc286"/>
<rect x="205.5" y="402.0" width="1.8" height="1" fill="#caa13c" transform="rotate(5 206.4 402.5)"/>
<rect x="188.9" y="403.3" width="1.8" height="1" fill="#c9a23e" transform="rotate(90 189.8 403.8)"/>
<rect x="219.2" y="448.1" width="1.8" height="1" fill="#c9a23e" transform="rotate(56 220.1 448.6)"/>
<rect x="169.4" y="387.1" width="1.8" height="1" fill="#b8923a" transform="rotate(82 170.3 387.6)"/>
<rect x="199.0" y="400.6" width="1.8" height="1" fill="#caa13c" transform="rotate(117 199.9 401.1)"/>
<rect x="169.1" y="382.9" width="1.8" height="1" fill="#d4ae4c" transform="rotate(125 170.0 383.4)"/>
<rect x="209.2" y="423.8" width="1.8" height="1" fill="#b8923a" transform="rotate(116 210.1 424.3)"/>
<rect x="224.4" y="442.2" width="1.8" height="1" fill="#d4ae4c" transform="rotate(46 225.3 442.7)"/>
<rect x="208.3" y="412.0" width="1.8" height="1" fill="#b8923a" transform="rotate(66 209.2 412.5)"/>
<rect x="176.1" y="373.1" width="1.8" height="1" fill="#d4ae4c" transform="rotate(177 177.0 373.6)"/>
<rect x="199.4" y="410.6" width="1.8" height="1" fill="#b8923a" transform="rotate(156 200.3 411.1)"/>
<rect x="215.9" y="430.5" width="1.8" height="1" fill="#caa13c" transform="rotate(23 216.8 431.0)"/>
<rect x="211.4" y="425.7" width="1.8" height="1" fill="#d4ae4c" transform="rotate(18 212.3 426.2)"/>
<rect x="194.7" y="409.8" width="1.8" height="1" fill="#caa13c" transform="rotate(18 195.6 410.3)"/>
<rect x="160.2" y="367.5" width="1.8" height="1" fill="#caa13c" transform="rotate(15 161.1 368.0)"/>
<rect x="217.4" y="443.3" width="1.8" height="1" fill="#caa13c" transform="rotate(171 218.3 443.8)"/>
<rect x="217.8" y="408.2" width="1.8" height="1" fill="#d4ae4c" transform="rotate(37 218.7 408.7)"/>
<rect x="196.0" y="399.8" width="1.8" height="1" fill="#d4ae4c" transform="rotate(106 196.9 400.3)"/>
<rect x="184.7" y="395.4" width="1.8" height="1" fill="#b8923a" transform="rotate(46 185.6 395.9)"/>
<rect x="224.3" y="456.1" width="1.8" height="1" fill="#caa13c" transform="rotate(58 225.2 456.6)"/>
<rect x="157.2" y="386.2" width="1.8" height="1" fill="#d4ae4c" transform="rotate(35 158.1 386.7)"/>
<rect x="217.8" y="435.4" width="1.8" height="1" fill="#d4ae4c" transform="rotate(45 218.7 435.9)"/>
<rect x="186.2" y="377.6" width="1.8" height="1" fill="#b8923a" transform="rotate(121 187.1 378.1)"/>
<rect x="202.4" y="414.5" width="1.8" height="1" fill="#caa13c" transform="rotate(90 203.3 415.0)"/>
<rect x="206.4" y="403.0" width="1.8" height="1" fill="#b8923a" transform="rotate(74 207.3 403.5)"/>
<rect x="216.5" y="409.6" width="1.8" height="1" fill="#c9a23e" transform="rotate(145 217.4 410.1)"/>
<rect x="227.6" y="428.2" width="1.8" height="1" fill="#c9a23e" transform="rotate(166 228.5 428.7)"/>
<rect x="203.1" y="420.5" width="1.8" height="1" fill="#c9a23e" transform="rotate(14 204.0 421.0)"/>
<rect x="144.6" y="374.2" width="1.8" height="1" fill="#c9a23e" transform="rotate(159 145.5 374.7)"/>
<rect x="223.4" y="452.3" width="1.8" height="1" fill="#caa13c" transform="rotate(11 224.3 452.8)"/>
<rect x="157.1" y="375.2" width="1.8" height="1" fill="#caa13c" transform="rotate(70 158.0 375.7)"/>
<rect x="225.1" y="423.0" width="1.8" height="1" fill="#b8923a" transform="rotate(132 226.0 423.5)"/>
<rect x="211.9" y="433.6" width="1.8" height="1" fill="#b8923a" transform="rotate(16 212.8 434.1)"/>
<rect x="179.9" y="377.0" width="1.8" height="1" fill="#d4ae4c" transform="rotate(145 180.8 377.5)"/>
<rect x="205.6" y="408.4" width="1.8" height="1" fill="#b8923a" transform="rotate(178 206.5 408.9)"/>
<rect x="218.1" y="425.3" width="1.8" height="1" fill="#c9a23e" transform="rotate(166 219.0 425.8)"/>
<rect x="214.0" y="409.4" width="1.8" height="1" fill="#caa13c" transform="rotate(95 214.9 409.9)"/>
<rect x="198.7" y="391.5" width="1.8" height="1" fill="#c9a23e" transform="rotate(79 199.6 392.0)"/>
<rect x="218.5" y="418.1" width="1.8" height="1" fill="#caa13c" transform="rotate(159 219.4 418.6)"/>
<rect x="223.1" y="426.0" width="1.8" height="1" fill="#caa13c" transform="rotate(125 224.0 426.5)"/>
<rect x="215.6" y="408.5" width="1.8" height="1" fill="#c9a23e" transform="rotate(14 216.5 409.0)"/>
<rect x="160.4" y="377.3" width="1.8" height="1" fill="#d4ae4c" transform="rotate(122 161.3 377.8)"/>
<rect x="143.4" y="368.8" width="1.8" height="1" fill="#b8923a" transform="rotate(156 144.3 369.3)"/>
<rect x="225.6" y="447.8" width="1.8" height="1" fill="#caa13c" transform="rotate(133 226.5 448.3)"/>
<rect x="215.8" y="417.9" width="1.8" height="1" fill="#b8923a" transform="rotate(10 216.7 418.4)"/>
<rect x="184.8" y="397.8" width="1.8" height="1" fill="#b8923a" transform="rotate(160 185.7 398.3)"/>
<rect x="208.8" y="439.2" width="1.8" height="1" fill="#b8923a" transform="rotate(56 209.7 439.7)"/>
<rect x="218.3" y="450.4" width="1.8" height="1" fill="#caa13c" transform="rotate(17 219.2 450.9)"/>
<rect x="220.2" y="442.6" width="1.8" height="1" fill="#d4ae4c" transform="rotate(30 221.1 443.1)"/>
<rect x="199.4" y="399.7" width="1.8" height="1" fill="#d4ae4c" transform="rotate(172 200.3 400.2)"/>
<rect x="159.9" y="386.7" width="1.8" height="1" fill="#c9a23e" transform="rotate(172 160.8 387.2)"/>
<rect x="224.7" y="423.3" width="1.8" height="1" fill="#caa13c" transform="rotate(42 225.6 423.8)"/>
<rect x="230.1" y="437.6" width="1.8" height="1" fill="#b8923a" transform="rotate(30 231.0 438.1)"/>
<rect x="180.3" y="374.3" width="1.8" height="1" fill="#caa13c" transform="rotate(48 181.2 374.8)"/>
<rect x="199.6" y="416.5" width="1.8" height="1" fill="#b8923a" transform="rotate(11 200.5 417.0)"/>
<rect x="213.5" y="439.0" width="1.8" height="1" fill="#d4ae4c" transform="rotate(71 214.4 439.5)"/>
<rect x="167.5" y="381.7" width="1.8" height="1" fill="#d4ae4c" transform="rotate(133 168.4 382.2)"/>
<rect x="222.6" y="425.8" width="1.8" height="1" fill="#caa13c" transform="rotate(0 223.5 426.3)"/>
<rect x="222.8" y="454.2" width="1.8" height="1" fill="#c9a23e" transform="rotate(24 223.7 454.7)"/>
<rect x="173.3" y="377.4" width="1.8" height="1" fill="#c9a23e" transform="rotate(43 174.2 377.9)"/>
<rect x="216.9" y="412.9" width="1.8" height="1" fill="#b8923a" transform="rotate(53 217.8 413.4)"/>
<rect x="155.7" y="385.5" width="1.8" height="1" fill="#c9a23e" transform="rotate(98 156.6 386.0)"/>
<rect x="195.0" y="396.2" width="1.8" height="1" fill="#c9a23e" transform="rotate(109 195.9 396.7)"/>
<rect x="213.8" y="442.5" width="1.8" height="1" fill="#c9a23e" transform="rotate(37 214.7 443.0)"/>
<rect x="175.9" y="386.3" width="1.8" height="1" fill="#caa13c" transform="rotate(55 176.8 386.8)"/>
<rect x="168.6" y="385.8" width="1.8" height="1" fill="#b8923a" transform="rotate(55 169.5 386.3)"/>
<rect x="207.0" y="428.8" width="1.8" height="1" fill="#c9a23e" transform="rotate(0 207.9 429.3)"/>
<rect x="212.2" y="420.8" width="1.8" height="1" fill="#b8923a" transform="rotate(46 213.1 421.3)"/>
<rect x="180.0" y="391.0" width="1.8" height="1" fill="#b8923a" transform="rotate(162 180.9 391.5)"/>
<rect x="145.8" y="365.9" width="1.8" height="1" fill="#d4ae4c" transform="rotate(139 146.7 366.4)"/>
<rect x="186.3" y="387.5" width="1.8" height="1" fill="#b8923a" transform="rotate(87 187.2 388.0)"/>
<rect x="139.3" y="367.6" width="1.8" height="1" fill="#caa13c" transform="rotate(166 140.2 368.1)"/>
<rect x="207.7" y="420.8" width="1.8" height="1" fill="#caa13c" transform="rotate(129 208.6 421.3)"/>
<rect x="203.8" y="401.0" width="1.8" height="1" fill="#b8923a" transform="rotate(38 204.7 401.5)"/>
<rect x="202.0" y="405.9" width="1.8" height="1" fill="#d4ae4c" transform="rotate(87 202.9 406.4)"/>
<rect x="174.1" y="375.1" width="1.8" height="1" fill="#d4ae4c" transform="rotate(85 175.0 375.6)"/>
<rect x="214.4" y="431.8" width="1.8" height="1" fill="#b8923a" transform="rotate(73 215.3 432.3)"/>
<rect x="229.1" y="450.8" width="1.8" height="1" fill="#b8923a" transform="rotate(72 230.0 451.3)"/>
<rect x="214.2" y="424.2" width="1.8" height="1" fill="#c9a23e" transform="rotate(78 215.1 424.7)"/>
<rect x="213.6" y="417.3" width="1.8" height="1" fill="#c9a23e" transform="rotate(59 214.5 417.8)"/>
<rect x="201.7" y="410.3" width="1.8" height="1" fill="#d4ae4c" transform="rotate(97 202.6 410.8)"/>
<rect x="223.0" y="447.5" width="1.8" height="1" fill="#d4ae4c" transform="rotate(165 223.9 448.0)"/>
<rect x="174.0" y="378.9" width="1.8" height="1" fill="#b8923a" transform="rotate(89 174.9 379.4)"/>
<rect x="202.5" y="393.5" width="1.8" height="1" fill="#b8923a" transform="rotate(10 203.4 394.0)"/>
<rect x="175.7" y="379.8" width="1.8" height="1" fill="#c9a23e" transform="rotate(113 176.6 380.3)"/>
<rect x="155.2" y="374.3" width="1.8" height="1" fill="#c9a23e" transform="rotate(68 156.1 374.8)"/>
<rect x="169.5" y="390.9" width="1.8" height="1" fill="#c9a23e" transform="rotate(9 170.4 391.4)"/>
<rect x="220.7" y="445.6" width="1.8" height="1" fill="#caa13c" transform="rotate(61 221.6 446.1)"/>
<rect x="190.9" y="404.7" width="1.8" height="1" fill="#c9a23e" transform="rotate(39 191.8 405.2)"/>
<rect x="216.7" y="450.7" width="1.8" height="1" fill="#caa13c" transform="rotate(122 217.6 451.2)"/>
<rect x="214.5" y="453.0" width="1.8" height="1" fill="#b8923a" transform="rotate(14 215.4 453.5)"/>
<rect x="185.8" y="377.4" width="1.8" height="1" fill="#d4ae4c" transform="rotate(27 186.7 377.9)"/>
<rect x="196.4" y="391.0" width="1.8" height="1" fill="#c9a23e" transform="rotate(20 197.3 391.5)"/>
<rect x="167.7" y="380.4" width="1.8" height="1" fill="#d4ae4c" transform="rotate(98 168.6 380.9)"/>
<rect x="212.0" y="421.8" width="1.8" height="1" fill="#caa13c" transform="rotate(161 212.9 422.3)"/>
<rect x="141.7" y="374.9" width="1.8" height="1" fill="#b8923a" transform="rotate(179 142.6 375.4)"/>
<rect x="198.6" y="387.7" width="1.8" height="1" fill="#c9a23e" transform="rotate(71 199.5 388.2)"/>
<rect x="227.8" y="442.1" width="1.8" height="1" fill="#c9a23e" transform="rotate(53 228.7 442.6)"/>
<rect x="228.0" y="453.2" width="1.8" height="1" fill="#b8923a" transform="rotate(11 228.9 453.7)"/>
<rect x="228.5" y="438.7" width="1.8" height="1" fill="#d4ae4c" transform="rotate(149 229.4 439.2)"/>
<rect x="173.0" y="370.5" width="1.8" height="1" fill="#c9a23e" transform="rotate(116 173.9 371.0)"/>
<rect x="147.4" y="370.0" width="1.8" height="1" fill="#caa13c" transform="rotate(28 148.3 370.5)"/>
<rect x="203.0" y="420.0" width="1.8" height="1" fill="#c9a23e" transform="rotate(153 203.9 420.5)"/>
<rect x="226.1" y="437.0" width="1.8" height="1" fill="#c9a23e" transform="rotate(45 227.0 437.5)"/>
<rect x="218.8" y="446.1" width="1.8" height="1" fill="#b8923a" transform="rotate(74 219.7 446.6)"/>
<rect x="215.6" y="413.8" width="1.8" height="1" fill="#d4ae4c" transform="rotate(147 216.5 414.3)"/>
<rect x="184.1" y="399.5" width="1.8" height="1" fill="#caa13c" transform="rotate(0 185.0 400.0)"/>
<rect x="192.7" y="398.9" width="1.8" height="1" fill="#d4ae4c" transform="rotate(51 193.6 399.4)"/>
<rect x="197.3" y="413.7" width="1.8" height="1" fill="#c9a23e" transform="rotate(13 198.2 414.2)"/>
<rect x="195.4" y="406.0" width="1.8" height="1" fill="#b8923a" transform="rotate(10 196.3 406.5)"/>
<rect x="195.6" y="384.2" width="1.8" height="1" fill="#caa13c" transform="rotate(50 196.5 384.7)"/>
<rect x="208.5" y="421.9" width="1.8" height="1" fill="#b8923a" transform="rotate(15 209.4 422.4)"/>
<rect x="206.8" y="397.0" width="1.8" height="1" fill="#caa13c" transform="rotate(111 207.7 397.5)"/>
<rect x="150.0" y="380.6" width="1.8" height="1" fill="#d4ae4c" transform="rotate(32 150.9 381.1)"/>
<rect x="185.9" y="381.2" width="1.8" height="1" fill="#c9a23e" transform="rotate(66 186.8 381.7)"/>
<rect x="200.6" y="406.3" width="1.8" height="1" fill="#c9a23e" transform="rotate(168 201.5 406.8)"/>
<rect x="196.2" y="402.6" width="1.8" height="1" fill="#d4ae4c" transform="rotate(132 197.1 403.1)"/>
<rect x="148.9" y="380.1" width="1.8" height="1" fill="#d4ae4c" transform="rotate(20 149.8 380.6)"/>
<rect x="213.9" y="418.6" width="1.8" height="1" fill="#b8923a" transform="rotate(152 214.8 419.1)"/>
<rect x="140.8" y="380.4" width="1.8" height="1" fill="#caa13c" transform="rotate(161 141.7 380.9)"/>
<rect x="175.5" y="394.6" width="1.8" height="1" fill="#b8923a" transform="rotate(124 176.4 395.1)"/>
<rect x="181.1" y="387.3" width="1.8" height="1" fill="#caa13c" transform="rotate(52 182.0 387.8)"/>
<rect x="205.4" y="415.1" width="1.8" height="1" fill="#c9a23e" transform="rotate(176 206.3 415.6)"/>
<rect x="212.5" y="445.1" width="1.8" height="1" fill="#d4ae4c" transform="rotate(115 213.4 445.6)"/>
<rect x="175.4" y="393.1" width="1.8" height="1" fill="#d4ae4c" transform="rotate(29 176.3 393.6)"/>
<rect x="152.9" y="383.3" width="1.8" height="1" fill="#caa13c" transform="rotate(119 153.8 383.8)"/>
<rect x="181.9" y="389.9" width="1.8" height="1" fill="#d4ae4c" transform="rotate(66 182.8 390.4)"/>
<rect x="177.7" y="391.0" width="1.8" height="1" fill="#caa13c" transform="rotate(67 178.6 391.5)"/>
<rect x="202.3" y="419.5" width="1.8" height="1" fill="#b8923a" transform="rotate(105 203.2 420.0)"/>
<rect x="192.9" y="385.2" width="1.8" height="1" fill="#b8923a" transform="rotate(39 193.8 385.7)"/>
<rect x="215.4" y="416.3" width="1.8" height="1" fill="#c9a23e" transform="rotate(24 216.3 416.8)"/>
<rect x="211.6" y="456.2" width="1.8" height="1" fill="#b8923a" transform="rotate(31 212.5 456.7)"/>
<rect x="222.9" y="416.6" width="1.8" height="1" fill="#c9a23e" transform="rotate(103 223.8 417.1)"/>
<rect x="206.2" y="401.0" width="1.8" height="1" fill="#b8923a" transform="rotate(170 207.1 401.5)"/>
<rect x="189.8" y="401.8" width="1.8" height="1" fill="#b8923a" transform="rotate(25 190.7 402.3)"/>
<rect x="213.4" y="425.3" width="1.8" height="1" fill="#c9a23e" transform="rotate(123 214.3 425.8)"/>
<rect x="212.2" y="399.7" width="1.8" height="1" fill="#d4ae4c" transform="rotate(37 213.1 400.2)"/>
<rect x="203.6" y="405.5" width="1.8" height="1" fill="#d4ae4c" transform="rotate(72 204.5 406.0)"/>
<rect x="212.0" y="453.3" width="1.8" height="1" fill="#c9a23e" transform="rotate(19 212.9 453.8)"/>
<rect x="216.3" y="421.0" width="1.8" height="1" fill="#c9a23e" transform="rotate(178 217.2 421.5)"/>
<rect x="226.9" y="429.5" width="1.8" height="1" fill="#b8923a" transform="rotate(149 227.8 430.0)"/>
<rect x="226.9" y="455.6" width="1.8" height="1" fill="#b8923a" transform="rotate(156 227.8 456.1)"/>
<rect x="224.0" y="440.9" width="1.8" height="1" fill="#c9a23e" transform="rotate(175 224.9 441.4)"/>
<rect x="196.3" y="411.4" width="1.8" height="1" fill="#c9a23e" transform="rotate(78 197.2 411.9)"/>
<rect x="212.2" y="435.7" width="1.8" height="1" fill="#c9a23e" transform="rotate(176 213.1 436.2)"/>
<rect x="218.7" y="420.9" width="1.8" height="1" fill="#b8923a" transform="rotate(24 219.6 421.4)"/>
<rect x="210.9" y="404.4" width="1.8" height="1" fill="#c9a23e" transform="rotate(13 211.8 404.9)"/>
<rect x="188.8" y="401.0" width="1.8" height="1" fill="#d4ae4c" transform="rotate(88 189.7 401.5)"/>
<rect x="224.9" y="440.4" width="1.8" height="1" fill="#d4ae4c" transform="rotate(172 225.8 440.9)"/>
<rect x="208.6" y="432.3" width="1.8" height="1" fill="#b8923a" transform="rotate(145 209.5 432.8)"/>
<rect x="183.2" y="392.4" width="1.8" height="1" fill="#caa13c" transform="rotate(173 184.1 392.9)"/>
<rect x="222.5" y="448.4" width="1.8" height="1" fill="#caa13c" transform="rotate(8 223.4 448.9)"/>
<rect x="216.4" y="441.0" width="1.8" height="1" fill="#d4ae4c" transform="rotate(69 217.3 441.5)"/>
<rect x="202.6" y="415.0" width="1.8" height="1" fill="#caa13c" transform="rotate(105 203.5 415.5)"/>
<rect x="215.6" y="425.2" width="1.8" height="1" fill="#b8923a" transform="rotate(117 216.5 425.7)"/>
<rect x="181.0" y="383.1" width="1.8" height="1" fill="#d4ae4c" transform="rotate(63 181.9 383.6)"/>
<rect x="225.3" y="451.3" width="1.8" height="1" fill="#c9a23e" transform="rotate(107 226.2 451.8)"/>
<rect x="217.7" y="445.7" width="1.8" height="1" fill="#d4ae4c" transform="rotate(150 218.6 446.2)"/>
<rect x="212.7" y="404.7" width="1.8" height="1" fill="#d4ae4c" transform="rotate(111 213.6 405.2)"/>
<rect x="215.7" y="449.7" width="1.8" height="1" fill="#d4ae4c" transform="rotate(123 216.6 450.2)"/>
<rect x="218.1" y="418.2" width="1.8" height="1" fill="#c9a23e" transform="rotate(46 219.0 418.7)"/>
<rect x="155.3" y="365.3" width="1.8" height="1" fill="#c9a23e" transform="rotate(149 156.2 365.8)"/>
<rect x="216.3" y="451.1" width="1.8" height="1" fill="#b8923a" transform="rotate(9 217.2 451.6)"/>
<rect x="198.4" y="413.5" width="1.8" height="1" fill="#b8923a" transform="rotate(5 199.3 414.0)"/>
<rect x="138.9" y="367.0" width="1.8" height="1" fill="#b8923a" transform="rotate(162 139.8 367.5)"/>
<rect x="211.0" y="436.4" width="1.8" height="1" fill="#d4ae4c" transform="rotate(33 211.9 436.9)"/>
<rect x="160.5" y="384.0" width="1.8" height="1" fill="#d4ae4c" transform="rotate(35 161.4 384.5)"/>
<rect x="143.8" y="379.9" width="1.8" height="1" fill="#caa13c" transform="rotate(109 144.7 380.4)"/>
<rect x="201.0" y="390.3" width="1.8" height="1" fill="#d4ae4c" transform="rotate(11 201.9 390.8)"/>
<rect x="219.5" y="438.8" width="1.8" height="1" fill="#d4ae4c" transform="rotate(161 220.4 439.3)"/>
<rect x="175.6" y="373.5" width="1.8" height="1" fill="#d4ae4c" transform="rotate(13 176.5 374.0)"/>
<rect x="171.2" y="385.2" width="1.8" height="1" fill="#caa13c" transform="rotate(64 172.1 385.7)"/>
<rect x="212.8" y="434.2" width="1.8" height="1" fill="#c9a23e" transform="rotate(54 213.7 434.7)"/>
<rect x="139.7" y="381.9" width="1.8" height="1" fill="#d4ae4c" transform="rotate(134 140.6 382.4)"/>
<rect x="226.8" y="447.1" width="1.8" height="1" fill="#caa13c" transform="rotate(66 227.7 447.6)"/>
<rect x="188.3" y="391.9" width="1.8" height="1" fill="#b8923a" transform="rotate(88 189.2 392.4)"/>
<rect x="216.3" y="425.8" width="1.8" height="1" fill="#d4ae4c" transform="rotate(134 217.2 426.3)"/>
<rect x="216.5" y="441.9" width="1.8" height="1" fill="#caa13c" transform="rotate(15 217.4 442.4)"/>
<rect x="213.2" y="425.3" width="1.8" height="1" fill="#d4ae4c" transform="rotate(92 214.1 425.8)"/>
<rect x="198.8" y="399.6" width="1.8" height="1" fill="#caa13c" transform="rotate(123 199.7 400.1)"/>
<rect x="165.8" y="369.2" width="1.8" height="1" fill="#caa13c" transform="rotate(146 166.7 369.7)"/>
<rect x="177.8" y="391.1" width="1.8" height="1" fill="#c9a23e" transform="rotate(90 178.7 391.6)"/>
<rect x="201.0" y="402.6" width="1.8" height="1" fill="#c9a23e" transform="rotate(85 201.9 403.1)"/>
<rect x="209.4" y="417.5" width="1.8" height="1" fill="#caa13c" transform="rotate(142 210.3 418.0)"/>
<rect x="222.5" y="421.2" width="1.8" height="1" fill="#c9a23e" transform="rotate(92 223.4 421.7)"/>
<rect x="221.6" y="430.0" width="1.8" height="1" fill="#b8923a" transform="rotate(0 222.5 430.5)"/>
<rect x="177.1" y="387.0" width="1.8" height="1" fill="#caa13c" transform="rotate(120 178.0 387.5)"/>
<rect x="197.4" y="410.8" width="1.8" height="1" fill="#b8923a" transform="rotate(89 198.3 411.3)"/>
<rect x="209.5" y="431.7" width="1.8" height="1" fill="#caa13c" transform="rotate(4 210.4 432.2)"/>
<rect x="195.5" y="403.3" width="1.8" height="1" fill="#c9a23e" transform="rotate(52 196.4 403.8)"/>
<!--/DUST--></g>
  <g id="band"><!--BAND-->
<rect x="140.8" y="407.5" width="4.8" height="2.2" fill="#b8923a" transform="rotate(76 143.2 408.7)"/>
<rect x="145.0" y="407.4" width="4.1" height="2.2" fill="#d0aa48" transform="rotate(155 147.1 408.5)"/>
<rect x="149.1" y="408.8" width="4.1" height="2.1" fill="#9a7424" transform="rotate(160 151.1 409.8)"/>
<rect x="151.6" y="409.1" width="4.7" height="2.1" fill="#d6b457" transform="rotate(92 154.0 410.2)"/>
<rect x="155.0" y="410.6" width="4.2" height="2.3" fill="#8a6a1f" transform="rotate(24 157.2 411.8)"/>
<rect x="158.6" y="412.9" width="3.8" height="2.0" fill="#8a6a1f" transform="rotate(19 160.5 413.9)"/>
<rect x="161.0" y="414.1" width="3.9" height="1.9" fill="#8a6a1f" transform="rotate(163 162.9 415.1)"/>
<rect x="164.4" y="415.0" width="4.0" height="2.0" fill="#9a7424" transform="rotate(82 166.4 416.0)"/>
<rect x="167.0" y="417.5" width="3.8" height="2.0" fill="#b8923a" transform="rotate(83 168.9 418.5)"/>
<rect x="169.0" y="419.8" width="4.7" height="2.0" fill="#c9a23e" transform="rotate(49 171.4 420.9)"/>
<rect x="172.4" y="422.8" width="4.5" height="2.2" fill="#d0aa48" transform="rotate(23 174.7 423.9)"/>
<rect x="173.9" y="425.3" width="4.5" height="2.0" fill="#d6b457" transform="rotate(2 176.1 426.4)"/>
<rect x="176.6" y="427.7" width="4.1" height="1.9" fill="#d6b457" transform="rotate(82 178.6 428.7)"/>
<rect x="178.2" y="430.4" width="4.3" height="2.3" fill="#9a7424" transform="rotate(105 180.4 431.5)"/>
<rect x="179.8" y="433.6" width="4.7" height="1.9" fill="#d0aa48" transform="rotate(29 182.1 434.5)"/>
<rect x="181.3" y="435.8" width="4.8" height="2.0" fill="#b8923a" transform="rotate(166 183.7 436.8)"/>
<rect x="182.9" y="438.5" width="4.0" height="2.3" fill="#8a6a1f" transform="rotate(22 184.9 439.7)"/>
<rect x="184.1" y="442.3" width="4.7" height="2.1" fill="#b8923a" transform="rotate(139 186.4 443.4)"/>
<rect x="184.6" y="445.4" width="3.9" height="2.0" fill="#d0aa48" transform="rotate(49 186.6 446.4)"/>
<rect x="185.9" y="449.3" width="3.9" height="2.2" fill="#9a7424" transform="rotate(42 187.8 450.4)"/>
<rect x="185.8" y="452.2" width="4.5" height="1.9" fill="#a8842a" transform="rotate(87 188.1 453.1)"/>
<rect x="142.6" y="402.9" width="4.1" height="2.2" fill="#8a6a1f" transform="rotate(71 144.6 404.0)"/>
<rect x="145.8" y="403.7" width="4.7" height="2.1" fill="#c9a23e" transform="rotate(36 148.1 404.8)"/>
<rect x="148.7" y="404.4" width="4.1" height="2.2" fill="#d6b457" transform="rotate(105 150.8 405.5)"/>
<rect x="151.9" y="405.3" width="4.6" height="2.1" fill="#d6b457" transform="rotate(111 154.2 406.4)"/>
<rect x="156.3" y="406.6" width="4.0" height="2.1" fill="#9a7424" transform="rotate(14 158.3 407.7)"/>
<rect x="159.2" y="407.8" width="4.7" height="2.3" fill="#7d5a1c" transform="rotate(102 161.6 409.0)"/>
<rect x="162.4" y="409.4" width="4.1" height="2.0" fill="#d0aa48" transform="rotate(118 164.4 410.4)"/>
<rect x="165.5" y="410.9" width="4.3" height="2.2" fill="#c9a23e" transform="rotate(35 167.7 412.0)"/>
<rect x="168.7" y="413.7" width="4.3" height="2.0" fill="#a8842a" transform="rotate(33 170.9 414.6)"/>
<rect x="171.4" y="414.9" width="4.1" height="1.9" fill="#d6b457" transform="rotate(115 173.5 415.9)"/>
<rect x="173.0" y="417.0" width="4.2" height="2.0" fill="#d0aa48" transform="rotate(161 175.1 418.0)"/>
<rect x="176.0" y="419.4" width="4.8" height="2.3" fill="#7d5a1c" transform="rotate(160 178.4 420.5)"/>
<rect x="178.6" y="422.4" width="4.3" height="2.2" fill="#b8923a" transform="rotate(8 180.8 423.5)"/>
<rect x="179.7" y="425.0" width="4.5" height="2.0" fill="#caa13c" transform="rotate(145 181.9 426.0)"/>
<rect x="182.4" y="428.2" width="4.4" height="2.1" fill="#7d5a1c" transform="rotate(42 184.6 429.3)"/>
<rect x="184.2" y="430.8" width="4.7" height="2.0" fill="#d0aa48" transform="rotate(86 186.6 431.8)"/>
<rect x="185.5" y="434.0" width="4.0" height="2.2" fill="#d6b457" transform="rotate(43 187.5 435.1)"/>
<rect x="186.3" y="437.7" width="4.3" height="2.2" fill="#a8842a" transform="rotate(117 188.5 438.8)"/>
<rect x="188.3" y="440.7" width="3.9" height="1.9" fill="#c9a23e" transform="rotate(25 190.2 441.6)"/>
<rect x="189.0" y="443.5" width="3.8" height="2.2" fill="#caa13c" transform="rotate(21 190.9 444.6)"/>
<rect x="189.6" y="447.4" width="4.5" height="2.3" fill="#d0aa48" transform="rotate(156 191.8 448.5)"/>
<rect x="190.2" y="451.2" width="4.6" height="2.1" fill="#7d5a1c" transform="rotate(58 192.5 452.3)"/>
<rect x="189.8" y="453.8" width="4.1" height="2.0" fill="#d6b457" transform="rotate(167 191.8 454.8)"/>
<rect x="140.2" y="398.2" width="4.1" height="2.2" fill="#d6b457" transform="rotate(79 142.3 399.3)"/>
<rect x="144.0" y="399.4" width="4.0" height="2.0" fill="#9a7424" transform="rotate(64 146.0 400.4)"/>
<rect x="146.7" y="399.3" width="3.9" height="2.2" fill="#c9a23e" transform="rotate(48 148.6 400.4)"/>
<rect x="150.0" y="399.6" width="4.0" height="2.0" fill="#a8842a" transform="rotate(167 152.0 400.6)"/>
<rect x="153.7" y="400.6" width="4.1" height="2.3" fill="#caa13c" transform="rotate(1 155.7 401.7)"/>
<rect x="156.9" y="401.2" width="4.3" height="2.3" fill="#a8842a" transform="rotate(55 159.0 402.4)"/>
<rect x="160.2" y="403.5" width="4.2" height="2.3" fill="#7d5a1c" transform="rotate(50 162.3 404.6)"/>
<rect x="162.6" y="405.1" width="4.1" height="2.2" fill="#d6b457" transform="rotate(86 164.7 406.2)"/>
<rect x="165.6" y="406.5" width="4.3" height="2.1" fill="#d6b457" transform="rotate(115 167.8 407.5)"/>
<rect x="169.5" y="408.4" width="3.9" height="1.9" fill="#c9a23e" transform="rotate(66 171.5 409.4)"/>
<rect x="171.8" y="410.8" width="4.4" height="2.3" fill="#d0aa48" transform="rotate(84 174.0 411.9)"/>
<rect x="174.3" y="412.4" width="4.1" height="2.1" fill="#9a7424" transform="rotate(46 176.3 413.4)"/>
<rect x="177.0" y="414.1" width="4.7" height="2.2" fill="#7d5a1c" transform="rotate(160 179.4 415.1)"/>
<rect x="179.3" y="417.4" width="4.2" height="2.2" fill="#9a7424" transform="rotate(27 181.4 418.5)"/>
<rect x="181.1" y="420.0" width="4.4" height="2.1" fill="#a8842a" transform="rotate(174 183.3 421.1)"/>
<rect x="183.2" y="422.1" width="4.3" height="1.9" fill="#d0aa48" transform="rotate(21 185.3 423.1)"/>
<rect x="185.8" y="425.4" width="4.5" height="1.9" fill="#8a6a1f" transform="rotate(168 188.1 426.4)"/>
<rect x="187.0" y="427.8" width="4.5" height="2.0" fill="#a8842a" transform="rotate(93 189.3 428.8)"/>
<rect x="188.9" y="431.1" width="4.2" height="2.2" fill="#d6b457" transform="rotate(109 191.0 432.2)"/>
<rect x="190.5" y="435.1" width="4.7" height="1.9" fill="#d6b457" transform="rotate(6 192.9 436.1)"/>
<rect x="191.5" y="438.1" width="4.5" height="1.9" fill="#d6b457" transform="rotate(160 193.8 439.1)"/>
<rect x="192.6" y="441.4" width="4.1" height="2.0" fill="#a8842a" transform="rotate(68 194.7 442.4)"/>
<rect x="193.3" y="444.8" width="4.0" height="2.3" fill="#7d5a1c" transform="rotate(89 195.3 445.9)"/>
<rect x="193.6" y="447.7" width="4.8" height="1.9" fill="#a8842a" transform="rotate(89 196.0 448.7)"/>
<rect x="194.5" y="451.5" width="4.3" height="2.3" fill="#d0aa48" transform="rotate(123 196.6 452.6)"/>
<rect x="140.3" y="394.1" width="4.4" height="2.2" fill="#7d5a1c" transform="rotate(127 142.5 395.2)"/>
<rect x="144.1" y="394.4" width="4.5" height="2.3" fill="#c9a23e" transform="rotate(170 146.3 395.6)"/>
<rect x="146.9" y="395.5" width="4.4" height="2.2" fill="#8a6a1f" transform="rotate(33 149.1 396.6)"/>
<rect x="150.4" y="395.5" width="4.4" height="2.1" fill="#caa13c" transform="rotate(29 152.6 396.6)"/>
<rect x="153.9" y="396.2" width="4.8" height="2.2" fill="#d0aa48" transform="rotate(59 156.3 397.3)"/>
<rect x="157.9" y="397.4" width="4.6" height="1.9" fill="#c9a23e" transform="rotate(141 160.2 398.4)"/>
<rect x="161.3" y="399.1" width="4.8" height="2.1" fill="#caa13c" transform="rotate(154 163.7 400.1)"/>
<rect x="164.1" y="399.9" width="4.1" height="2.2" fill="#9a7424" transform="rotate(118 166.1 401.0)"/>
<rect x="167.1" y="401.5" width="4.5" height="2.1" fill="#c9a23e" transform="rotate(170 169.4 402.6)"/>
<rect x="169.4" y="404.0" width="4.6" height="2.1" fill="#a8842a" transform="rotate(135 171.6 405.0)"/>
<rect x="172.5" y="405.9" width="3.9" height="2.2" fill="#c9a23e" transform="rotate(79 174.4 407.0)"/>
<rect x="176.1" y="407.6" width="4.0" height="2.2" fill="#caa13c" transform="rotate(177 178.1 408.7)"/>
<rect x="178.2" y="409.4" width="4.3" height="2.0" fill="#d0aa48" transform="rotate(25 180.4 410.4)"/>
<rect x="180.2" y="412.5" width="3.9" height="1.9" fill="#7d5a1c" transform="rotate(114 182.2 413.4)"/>
<rect x="183.4" y="414.5" width="4.3" height="2.1" fill="#d6b457" transform="rotate(82 185.6 415.5)"/>
<rect x="184.9" y="417.1" width="4.2" height="2.3" fill="#7d5a1c" transform="rotate(122 187.0 418.2)"/>
<rect x="187.5" y="420.1" width="4.5" height="2.2" fill="#d0aa48" transform="rotate(4 189.7 421.2)"/>
<rect x="189.0" y="423.2" width="4.8" height="2.0" fill="#caa13c" transform="rotate(116 191.4 424.2)"/>
<rect x="190.5" y="425.3" width="4.3" height="1.9" fill="#d0aa48" transform="rotate(121 192.7 426.2)"/>
<rect x="193.2" y="428.5" width="4.0" height="2.3" fill="#c9a23e" transform="rotate(108 195.2 429.6)"/>
<rect x="194.5" y="432.2" width="4.5" height="2.3" fill="#caa13c" transform="rotate(48 196.8 433.4)"/>
<rect x="195.7" y="435.7" width="3.9" height="2.0" fill="#d6b457" transform="rotate(106 197.6 436.7)"/>
<rect x="195.7" y="438.0" width="4.3" height="1.9" fill="#9a7424" transform="rotate(46 197.9 439.0)"/>
<rect x="197.9" y="440.7" width="3.8" height="2.3" fill="#c9a23e" transform="rotate(145 199.8 441.8)"/>
<rect x="198.2" y="444.9" width="3.9" height="2.2" fill="#7d5a1c" transform="rotate(17 200.2 446.0)"/>
<rect x="198.3" y="448.0" width="4.0" height="2.0" fill="#7d5a1c" transform="rotate(5 200.3 449.0)"/>
<rect x="199.2" y="451.5" width="4.2" height="2.3" fill="#d0aa48" transform="rotate(49 201.3 452.7)"/>
<rect x="141.6" y="391.5" width="4.3" height="1.9" fill="#7d5a1c" transform="rotate(168 143.7 392.5)"/>
<rect x="145.3" y="391.9" width="4.7" height="2.0" fill="#b8923a" transform="rotate(26 147.7 392.9)"/>
<rect x="149.2" y="391.6" width="4.5" height="2.1" fill="#b8923a" transform="rotate(36 151.4 392.7)"/>
<rect x="152.2" y="392.2" width="4.1" height="2.0" fill="#9a7424" transform="rotate(45 154.3 393.2)"/>
<rect x="156.0" y="393.7" width="4.7" height="2.3" fill="#c9a23e" transform="rotate(175 158.3 394.9)"/>
<rect x="158.4" y="394.8" width="4.7" height="2.3" fill="#d6b457" transform="rotate(48 160.7 395.9)"/>
<rect x="162.8" y="396.2" width="4.0" height="2.0" fill="#b8923a" transform="rotate(42 164.8 397.2)"/>
<rect x="165.3" y="397.5" width="3.8" height="2.0" fill="#d6b457" transform="rotate(170 167.2 398.5)"/>
<rect x="168.3" y="398.2" width="4.7" height="2.3" fill="#9a7424" transform="rotate(84 170.6 399.3)"/>
<rect x="171.6" y="401.3" width="4.3" height="2.1" fill="#9a7424" transform="rotate(142 173.8 402.3)"/>
<rect x="174.2" y="402.8" width="4.6" height="2.0" fill="#caa13c" transform="rotate(105 176.5 403.8)"/>
<rect x="177.8" y="404.0" width="4.1" height="2.2" fill="#9a7424" transform="rotate(13 179.9 405.1)"/>
<rect x="179.9" y="407.5" width="4.1" height="2.3" fill="#c9a23e" transform="rotate(140 181.9 408.7)"/>
<rect x="181.9" y="409.4" width="4.6" height="2.2" fill="#8a6a1f" transform="rotate(23 184.2 410.4)"/>
<rect x="185.3" y="411.6" width="4.2" height="2.1" fill="#d0aa48" transform="rotate(76 187.4 412.6)"/>
<rect x="187.7" y="414.5" width="4.0" height="2.1" fill="#d6b457" transform="rotate(15 189.7 415.6)"/>
<rect x="188.9" y="416.7" width="4.6" height="2.1" fill="#a8842a" transform="rotate(63 191.2 417.8)"/>
<rect x="191.1" y="419.9" width="4.2" height="1.9" fill="#caa13c" transform="rotate(29 193.2 420.9)"/>
<rect x="193.4" y="422.2" width="4.5" height="2.1" fill="#7d5a1c" transform="rotate(5 195.6 423.3)"/>
<rect x="195.2" y="425.6" width="4.0" height="2.2" fill="#9a7424" transform="rotate(59 197.2 426.7)"/>
<rect x="195.7" y="427.7" width="4.1" height="2.1" fill="#9a7424" transform="rotate(139 197.8 428.8)"/>
<rect x="198.0" y="430.8" width="4.0" height="2.3" fill="#a8842a" transform="rotate(113 200.0 431.9)"/>
<rect x="198.7" y="434.1" width="4.0" height="2.3" fill="#7d5a1c" transform="rotate(43 200.7 435.2)"/>
<rect x="199.5" y="438.1" width="3.8" height="2.0" fill="#d6b457" transform="rotate(106 201.4 439.1)"/>
<rect x="201.1" y="441.4" width="4.4" height="2.2" fill="#7d5a1c" transform="rotate(176 203.3 442.5)"/>
<rect x="201.4" y="444.6" width="3.9" height="2.3" fill="#b8923a" transform="rotate(28 203.4 445.7)"/>
<rect x="201.2" y="448.2" width="4.6" height="2.2" fill="#d0aa48" transform="rotate(178 203.4 449.2)"/>
<rect x="202.3" y="451.0" width="4.4" height="2.2" fill="#8a6a1f" transform="rotate(83 204.5 452.0)"/>
<rect x="202.8" y="454.4" width="4.5" height="2.1" fill="#d0aa48" transform="rotate(19 205.0 455.4)"/>
<!--/BAND--></g>
  <path d="M139 457.3 V411.3 A46 46 0 0 1 185 457.3 Z" fill="#fff"/>
  <clipPath id="qc"><circle cx="139" cy="457.3" r="43"/></clipPath>
  <g clip-path="url(#qc)"><g transform="translate(139 457.3) rotate(-45)" fill="#d4ac48">
    <rect x="6.75" y="-2.75" width="36" height="5.5"/>
    <rect x="14" y="-11.94" width="28" height="5.5"/>
    <rect x="14" y="6.44" width="28" height="5.5"/>
    <rect x="25" y="-21.13" width="14" height="5.5"/>
    <rect x="25" y="15.63" width="14" height="5.5"/>
  </g></g>
  <!-- circle 1 -->
  <circle cx="122.2" cy="440.6" r="10.1" fill="#fff" stroke="#7a5a1e" stroke-width="2.4"/>
  <text x="122.2" y="444.9" text-anchor="middle" class="tx hd" font-size="12.5" fill="#6b5125">1</text>

  <!-- pulp washing -->
  <circle cx="533" cy="320.1" r="39.6" fill="#a9dcec"/>
  <circle cx="533" cy="320.1" r="31.5" fill="#fff"/>
  <clipPath id="pwc"><circle cx="533" cy="320.1" r="31.5"/></clipPath>
  <path clip-path="url(#pwc)" d="M498 307 A4.25 3 0 0 0 506.5 307 A4.25 3 0 0 0 515.0 307 A4.25 3 0 0 0 523.5 307 A4.25 3 0 0 0 532.0 307 A4.25 3 0 0 0 540.5 307 A4.25 3 0 0 0 549.0 307 A4.25 3 0 0 0 557.5 307 A4.25 3 0 0 0 566.0 307 A4.25 3 0 0 0 574.5 307 V356 H498 Z" fill="#0e98ad"/>
  <circle cx="533" cy="320.1" r="27.6" fill="none" stroke="#6d6e71" stroke-width="3" stroke-dasharray="1.1 2.35" opacity="0.85"/>
  <text x="533" y="323" text-anchor="middle" class="tx hd" font-size="8.8" fill="#fff">PULP</text>
  <text x="533" y="331.7" text-anchor="middle" class="tx hd" font-size="8.6" fill="#fff">WASHING</text>

  <!-- weak black liquor light-blue line (left part) -->
  <rect x="571" y="316" width="141" height="9" fill="url(#wbl)"/>

  <!-- gray fiber / process pipe -->
  <g fill="none" stroke="#b9babd" stroke-width="8">
    <path d="M533 359 V379"/>
    <path d="M533 392.5 V502 A32 32 0 0 1 501 534 H440.2"/>
    <path d="M380.6 534 H325.4"/>
    <path d="M196.9 534 H141"/>
    <path d="M92.6 534 H60 A31 31 0 0 0 29 565 V671"/>
  </g>

  <!-- orange PCC pipe -->
  <g fill="none" stroke="#f26d21" stroke-width="8.2">
    <path d="M650 409.6 H575 A26 26 0 0 0 549 435.6 V503 A47 47 0 0 1 502 550 H465.3"/>
    <path d="M438.5 550 H67 A22 22 0 0 0 45 572 V652"/>
    <path d="M412 550 A22 22 0 0 0 390 572 V619.5"/>
  </g>
  <path d="M37 651.6 H53 L45 659.8 Z" fill="#f26d21"/>
  <path d="M382.2 618.9 H397.8 L390 626.8 Z" fill="#f26d21"/>
  <!-- circle 3 -->
  <circle cx="365.5" cy="574.0" r="10.1" fill="#fff" stroke="#f26d21" stroke-width="2.4"/>
  <text x="365.5" y="578.3" text-anchor="middle" class="tx hd" font-size="12.5" fill="#f26d21">3</text>

  <!-- ===== paper machine ===== -->
  <!-- headbox / forming -->
  <path d="M13.1 677.9 H45 V702 L54.7 729.6 H187 L200.7 720.8 V737.6 H13.1 Z" fill="#0e98ad"/>
  <rect x="13.1" y="670" width="31.9" height="8" fill="#6d6e71"/>
  <path d="M187 729.6 L200.7 720.8 V737.6 H187 Z" fill="#6d6e71"/>
  <path d="M52.2 722.5 Q55 719.5 58 722.5 T64 722.5 T70 722.5 T76 722.5 T82 722.5 T88 722.5 T94 722.5 T100 722.5 T106 722.5 T112 722.5 T118 722.5 T124 722.5 T130 722.5 T136 722.5 T142 722.5 T148 722.5 T154 722.5 T160 722.5 T166 722.5 T172 722.5 T178 722.5 T184 722.5 T190 722.5 T195 722.5 L187 727.8 V729.6 H54.7 Z" fill="#a9dcec"/>
  <rect x="64" y="704" width="96" height="16" fill="url(#drops)"/>

  <!-- serpentine web (gray) -->
  <g fill="none" stroke="#b9babd" stroke-width="7.6" stroke-linejoin="round">
    <path d="M45 697.8 H190 C204 697.8 211 705 211.3 719.3 A13 13 0 0 0 237.3 719.3 L232.3 688.7 A13 13 0 0 1 258.3 688.7 L265.6 716.3 A7.8 7.8 0 0 0 281.2 716.3 L275.3 685.3 A7.9 7.9 0 0 1 291.1 685.3 L298.8 719.3 A13 13 0 0 0 324.8 719.3 L328.6 663 A8 8 0 0 1 344.6 663 L350 683 C351.5 689 354 690.7 361 690.7 H451 A8 8 0 0 0 459 682.7 V593.8 A13.1 13.1 0 0 0 432.6 593.8 V606.4 A13 13 0 0 1 406.4 606.4 V574.3 A8 8 0 0 1 414.4 566.3 H494 A8 8 0 0 1 501.5 577 L476.5 645 A8 8 0 0 0 477.5 657 L535 735 A7 7 0 0 0 547 728 L530 690 A12 12 0 0 1 541 674 H569 A6 6 0 0 1 575 680 V699 A8 8 0 0 0 591 699 V680 A6 6 0 0 1 597 674 H610 A8 8 0 0 1 617.5 684 L605 741 A6 6 0 0 0 611 747.9 H650"/>
  </g>
  <!-- teal rollers -->
  <g fill="#0e98ad">
    <circle cx="82.5" cy="690" r="4"/><circle cx="54.7" cy="706" r="4"/>
    <circle cx="171.4" cy="688" r="6"/><circle cx="198.3" cy="688" r="6"/>
    <circle cx="171.4" cy="708.2" r="6"/><circle cx="198.3" cy="708.2" r="6"/>
    <circle cx="224.3" cy="719.3" r="9.2"/><circle cx="245.3" cy="688.7" r="9.2"/>
    <circle cx="273.4" cy="716.3" r="3.6"/><circle cx="283.2" cy="685.3" r="3.6"/>
    <circle cx="311.8" cy="719.3" r="9.2"/><circle cx="336.6" cy="663" r="3.6"/>
    <circle cx="358.5" cy="683.2" r="3.6"/><circle cx="451" cy="683.5" r="3.6"/>
    <circle cx="414.2" cy="574.2" r="3.5"/><circle cx="494.2" cy="574.2" r="3.5"/>
    <circle cx="445.7" cy="593.8" r="9"/><circle cx="419.4" cy="606.4" r="9"/>
    <circle cx="489.4" cy="652.3" r="9"/><circle cx="538.9" cy="725.2" r="3.5"/>
    <circle cx="543.9" cy="660.7" r="9"/><circle cx="543.9" cy="687" r="9"/>
    <circle cx="605.3" cy="660.7" r="9"/><circle cx="605.3" cy="687" r="9"/>
    <circle cx="567.6" cy="682.2" r="3.5"/><circle cx="583.8" cy="698.4" r="3.5"/>
    <circle cx="613.5" cy="739.8" r="3.5"/>
  </g>

  <!-- coating unit -->
  <rect x="374" y="634.2" width="63.7" height="36.7" fill="#0e98ad"/>
  <rect x="382.7" y="642.5" width="46.6" height="19.8" fill="#fff"/>
  <path d="M382.7 653 Q386 650 389.5 653 T396 653 T402.5 653 T409 653 T415.5 653 T422 653 T429.3 653 V662.3 H382.7 Z" fill="#a9dcec"/>
  <rect x="381" y="675" width="54" height="10.5" fill="url(#drops)"/>
  <rect x="381" y="698.2" width="54" height="10.5" fill="url(#pdrops)"/>
  <!-- coating reclaim tray -->
  <path d="M374 714 H382 V729.4 H429.7 V714 H437.7 V737.4 H374 Z" fill="#555a8e"/>
  <path d="M382 723 Q385.5 720 389 723 T396 723 T403 723 T410 723 T417 723 T424 723 T429.7 723 V729.4 H382 Z" fill="#bdb9da"/>
  <!-- purple reclaim pipe -->
  <path d="M369 725.4 H357.5 L319 679 C309 666 309 638.3 336 638.3 H359" fill="none" stroke="#555a8e" stroke-width="7.8"/>
  <path d="M358 630.3 L366.3 638.3 L358 646.3 Z" fill="#555a8e"/>
  <circle cx="405" cy="715.0" r="10.1" fill="#fff" stroke="#555a8e" stroke-width="2.4"/>
  <text x="405" y="719.3" text-anchor="middle" class="tx hd" font-size="12.5" fill="#555a8e">5</text>

  <!-- broke system loop -->
  <path d="M36 792.5 Q40.4 789 44.8 792.5 T53.6 792.5 T62.4 792.5 T71.2 792.5 T80 792.5 T88.8 792.5 T97.6 792.5 T106.4 792.5 T115.2 792.5 T124 792.5 T132.8 792.5 T141.6 792.5 T150.4 792.5 T159.2 792.5 T168 792.5 T176.8 792.5 T185.6 792.5 T194.4 792.5 T203.2 792.5 T212 792.5 T220.8 792.5 T229.6 792.5 T238.4 792.5 T247.2 792.5 T256 792.5 T264.8 792.5 T273.6 792.5 T282.4 792.5 T291.2 792.5 T300 792.5 T308.8 792.5 T317.6 792.5 T326.4 792.5 T335.2 792.5 T344 792.5 T352.8 792.5 T361.6 792.5 T370.4 792.5 T379.2 792.5 T388 792.5 T396.8 792.5 T405.6 792.5 T414.4 792.5 T423.2 792.5 T432 792.5 T440.8 792.5 T449.6 792.5 T458.4 792.5 T467.2 792.5 T476 792.5 T484.8 792.5 T493.6 792.5 T502.4 792.5 T511.2 792.5 T520 792.5 T528.8 792.5 T537.6 792.5 T546.4 792.5 T555.2 792.5 T564 792.5 T572.8 792.5 T581.6 792.5 T590.4 792.5 T599 792.5 L599 805 H40 Z" fill="#a9dcec"/>
  <g fill="none" stroke="#0e98ad" stroke-width="7.8">
    <path d="M31 765 V780 A28 28 0 0 0 59 808 H575 A30 30 0 0 0 575 748 H568.7"/>
    <path d="M101 748 H128.8 A26 26 0 0 1 154.8 774"/>
    <path d="M205 748 H251.8 A26 26 0 0 1 277.8 774"/>
    <path d="M317.7 748 H368.9 A26 26 0 0 1 394.9 774"/>
    <path d="M439 748 H473.7 A26 26 0 0 1 499.7 774"/>
  </g>
  <g fill="#0e98ad">
    <path d="M22.5 766.6 H39.5 L31 757 Z"/>
    <path d="M147 773.5 H162.6 L154.8 782 Z"/>
    <path d="M270 773.5 H285.6 L277.8 782 Z"/>
    <path d="M387.1 773.5 H402.7 L394.9 782 Z"/>
    <path d="M491.9 773.5 H507.5 L499.7 782 Z"/>
  </g>
  <circle cx="57.6" cy="776.0" r="10.1" fill="#fff" stroke="#0e98ad" stroke-width="2.4"/>
  <text x="57.6" y="780.3" text-anchor="middle" class="tx hd" font-size="12.5" fill="#0e98ad">4</text>
</g>

<!-- ============ RIGHT HALF GRAPHICS ============ -->
<g id="right">
  <!-- weak/strong black liquor -->
  <rect x="811" y="316" width="199.4" height="9" fill="url(#sbl)"/>
  <rect x="1122" y="316" width="63" height="9" fill="#6d6e71"/>
  <path d="M1184.3 312.2 L1192.4 320.5 L1184.3 328.8 Z" fill="#6d6e71"/>

  <!-- recovery boiler -->
  <path d="M1172.9 272 H1243 V343 H1196.7 V297.1 L1191.2 301 L1185.4 296.7 L1179.1 301 L1172.9 295.7 Z" fill="#6d6e71"/>
  <path d="M1196.7 343 H1243 V352 H1228 L1219.2 343.6 L1210.4 352 H1196.7 Z" fill="#ee5345"/>
  <path d="M1219.6 353 C1223.5 359 1228.7 363 1228.5 370 C1228.3 375.5 1224 378 1219.4 378 C1214.8 378 1210.5 375.5 1210.3 370 C1210.2 365.5 1212.5 362.5 1214 361 C1214 363.5 1215 365.5 1216.5 366.5 C1216.5 361.5 1217.5 357 1219.6 353 Z" fill="#f26d21"/>
  <path d="M1219.4 370.5 C1221 372.5 1222 374.5 1221.5 376.5 C1220.7 378 1218.2 378 1217.4 376.5 C1217 374.5 1218 372.5 1219.4 370.5 Z" fill="#fff"/>

  <!-- smelt / green liquor -->
  <rect x="1215.9" y="384.7" width="7.2" height="22.3" fill="#ee5345"/>
  <path d="M1219.5 417 V474" fill="none" stroke="url(#smelt)" stroke-width="7.6"/>
  <path d="M1219.5 473.5 A30 30 0 0 1 1189.5 503.5" fill="none" stroke="url(#gc)" stroke-width="7.6"/>
  <path d="M1190 503.2 H1103.3" fill="none" stroke="url(#gl)" stroke-width="7.8"/>
  <rect x="986.2" y="499" width="43.4" height="8" fill="#6ca544"/>
  <path d="M986.5 494.9 L977.9 502.9 L986.5 510.9 Z" fill="#6ca544"/>

  <!-- slaker -->
  <path d="M912 482.8 H942 V476.9 H973.8 V507.7 H934.8 Z" fill="#6ca544"/>
  <rect x="957.6" y="476" width="2.1" height="26" fill="#6d6e71"/>
  <circle cx="958.6" cy="476.3" r="1.9" fill="#6d6e71"/>
  <path d="M946 496.5 L958.6 499.5 L971 496.5 V503.7 L958.6 501 L946 503.7 Z" fill="#6d6e71"/>

  <!-- purple loops -->
  <g fill="none" stroke="#555a8e" stroke-width="7.8">
    <path d="M908.3 486.9 H883 A30.5 30.5 0 0 1 883 425.9 H884"/>
    <path d="M1003 426 H1006 A30.5 30.5 0 0 1 1006 487 H986"/>
  </g>
  <path d="M883.4 418.6 L891.4 425.9 L883.4 433.2 Z" fill="#555a8e"/>
  <path d="M986.2 479 L977.9 487 L986.2 495 Z" fill="#555a8e"/>
  <!-- lime kiln -->
  <path d="M886.6 398.5 L998.3 418.6 L997 428.4 L893 411.3 Z" fill="#555a8e"/>
  <path d="M996 422 L1002 423.2 L1001.3 427.4 L995.5 426.3 Z" fill="#555a8e"/>
  <path d="M991.8 417.8 L997.8 418.9 L996.5 429.2 L990.5 428 Z" fill="#6d6e71"/>
  <rect x="897" y="398" width="7.7" height="23" fill="#6d6e71"/>
  <rect x="895.4" y="420.2" width="12.1" height="9.3" fill="#6d6e71"/>
  <rect x="968" y="408.1" width="7.8" height="21.4" fill="#6d6e71"/>
  <circle cx="995.8" cy="400.6" r="10.1" fill="#fff" stroke="#555a8e" stroke-width="2.4"/>
  <text x="995.8" y="404.9" text-anchor="middle" class="tx hd" font-size="12.5" fill="#555a8e">8</text>

  <!-- CO2 arrow -->
  <rect x="857.2" y="404.9" width="26.5" height="8.8" fill="#f26d21"/>
  <rect x="809" y="405.3" width="21.6" height="8.1" fill="#f26d21"/>
  <path d="M809.5 401 L800.8 409.3 L809.5 417.6 Z" fill="#f26d21"/>

  <!-- PCC plant -->
  <rect x="646" y="405.7" width="30" height="7.7" fill="#f26d21"/>
  <rect x="674.1" y="379" width="51" height="34.4" fill="#f26d21"/>
  <rect x="783.6" y="387.8" width="13" height="25.6" fill="#f26d21"/>
  <g>
    <path d="M697.2 392.7 V356 A13.7 13.7 0 0 1 724.6 356 V392.7 Z" fill="#808184"/>
    <path d="M697.2 356 A13.7 13.7 0 0 1 724.6 356 Z" fill="#6d6e71"/>
    <rect x="697.2" y="364.9" width="27.4" height="4.9" fill="#6d6e71"/>
    <rect x="697.2" y="379" width="27.4" height="4.9" fill="#6d6e71"/>
    <path d="M729.3 392.7 V356 A13.7 13.7 0 0 1 756.7 356 V392.7 Z" fill="#808184"/>
    <path d="M729.3 356 A13.7 13.7 0 0 1 756.7 356 Z" fill="#6d6e71"/>
    <rect x="729.3" y="364.9" width="27.4" height="4.9" fill="#6d6e71"/>
    <rect x="729.3" y="379" width="27.4" height="4.9" fill="#6d6e71"/>
    <path d="M756.7 413.4 V375.9 A13.45 13.45 0 0 1 783.6 375.9 V413.4 Z" fill="#808184"/>
    <path d="M756.7 375.9 A13.45 13.45 0 0 1 783.6 375.9 Z" fill="#6d6e71"/>
    <rect x="756.7" y="385.9" width="26.9" height="3.8" fill="#6d6e71"/>
    <rect x="756.7" y="399.6" width="26.9" height="3.9" fill="#6d6e71"/>
    <rect x="688" y="392.7" width="68.7" height="20.7" fill="#6d6e71"/>
    <path d="M697.5 413.4 L725 392.7 V413.4 Z" fill="#f26d21"/>
  </g>
  <circle cx="754.9" cy="385.4" r="10.1" fill="#fff" stroke="#f26d21" stroke-width="2.4"/>
  <text x="754.9" y="389.7" text-anchor="middle" class="tx hd" font-size="12.5" fill="#f26d21">9</text>

  <!-- fuel inputs -->
  <g fill="none" stroke="#f26d21" stroke-width="7.4">
    <path d="M729.7 105.3 V134 A20 20 0 0 0 749.7 154 H849"/>
    <path d="M810.8 105.3 V118.2 A20 20 0 0 0 830.8 138.2 H849"/>
    <path d="M729.7 227 V190.4 A20 20 0 0 1 749.7 170.4 H849"/>
    <path d="M810.6 227 V206 A20 20 0 0 1 830.6 186 H849"/>
    <path d="M942.2 154.5 H1006"/>
  </g>
  <g fill="#f26d21">
    <path d="M848 130 L856 138.2 L848 146.4 Z"/>
    <path d="M848 145.8 L856 154 L848 162.2 Z"/>
    <path d="M848 162.2 L856 170.4 L848 178.6 Z"/>
    <path d="M848 177.8 L856 186 L848 194.2 Z"/>
    <path d="M1005.7 146.5 L1012.8 154.3 L1005.7 162.1 Z"/>
  </g>
  <circle cx="772.2" cy="121.2" r="10.1" fill="#fff" stroke="#f26d21" stroke-width="2.4"/>
  <text x="772.2" y="125.5" text-anchor="middle" class="tx hd" font-size="12.5" fill="#f26d21">6</text>

  <!-- boiler -->
  <path d="M859.7 140.5 H902.4 L913.3 151.2 V188.7 H859.7 Z" fill="#6d6e71"/>
  <rect x="859.7" y="144.7" width="24" height="6.5" fill="#858689"/>
  <path d="M871.5 158.7 H883.7 L902 176.5 H913.3 V183 H899 L880.7 165.2 H871.5 Z" fill="#858689"/>
  <path d="M870.3 128.4 H901.9 V140.5 H860.3 V138.4 A10 10 0 0 1 870.3 128.4 Z" fill="#f8b07f"/>
  <path d="M880 116 H937.3 A12.25 12.25 0 0 1 937.3 140.5 H901.9 V128.4 H880 Z" fill="#f26d21"/>
  <path d="M925 140.5 H938 V182.2 H940.9 V188.7 H927.7 V182.2 H930.6 V146 Z" fill="#6d6e71"/>

  <!-- construction wood -->
  <path d="M722.3 15.9 L729 26.3 L731.4 23 L733.6 26.9 L735.5 24.6 L736.2 38.6 L739.8 36 V79.6 H722.3 Z" fill="#c9a13b"/>
  <g stroke="#d8b65a" stroke-width="0.7" fill="none">
    <path d="M725 28 V79 M734 40 V79 M737.5 42 V79"/>
    <ellipse cx="730.2" cy="53" rx="2.2" ry="5"/>
    <ellipse cx="730.2" cy="53" rx="4.5" ry="9"/>
  </g>
  <!-- oil barrel -->
  <rect x="797.3" y="35" width="29.5" height="44.6" fill="#4d4d4f"/>
  <path d="M826.8 45 V76 L800 76 Z" fill="#3e3e40" opacity="0.6"/>
  <rect x="797.3" y="35" width="29.5" height="2.6" fill="#a7a8ab"/>
  <rect x="797.3" y="77" width="29.5" height="2.6" fill="#a7a8ab"/>
  <rect x="798.3" y="48" width="27.5" height="2" fill="#a7a8ab"/>
  <rect x="798.3" y="64.3" width="27.5" height="2" fill="#a7a8ab"/>
  <circle cx="811.6" cy="56.8" r="6.3" fill="#cfd0d2"/>
  <path d="M811.6 51.8 C813.5 54.5 814.8 56.3 814.8 58.2 C814.8 60 813.4 61.3 811.6 61.3 C809.8 61.3 808.4 60 808.4 58.2 C808.4 56.3 809.7 54.5 811.6 51.8 Z" fill="#4d4d4f"/>
  <!-- tire -->
  <circle cx="729.7" cy="250.5" r="18.2" fill="#3f3f41" stroke="#3f3f41" stroke-width="1.4" stroke-dasharray="1.6 1.6"/>
  <circle cx="729.7" cy="250.5" r="16.8" fill="#3f3f41"/>
  <circle cx="729.7" cy="250.5" r="11.4" fill="#808184"/>
  <circle cx="729.7" cy="250.5" r="9" fill="#6d6e71"/>
  <circle cx="729.7" cy="250.5" r="6.9" fill="#fff"/>
  <!-- biomass -->
  <g>
    <path d="M793 240 L799 235 L803 241 L797 245 Z" fill="#b38a2e"/>
    <path d="M800 236 L805 232 L809 237 L804 241 Z" fill="#8a6a22"/>
    <path d="M808 234 L815 233 L816 240 L809 241 Z" fill="#b38a2e"/>
    <path d="M818 236 L822 232 L823 239 L819 240 Z" fill="#8a6a22"/>
    <path d="M803 244 L810 244 L809 248 L804 248 Z" fill="#8a6a22"/>
    <path d="M811 245 L816 244 L817 252 L811 252 Z" fill="#d0aa48"/>
    <path d="M817 243 L825 243 L826 248 L818 249 Z" fill="#b38a2e"/>
    <path d="M818 251 L825 250 L825 255 L819 255 Z" fill="#d0aa48"/>
    <path d="M801 253 L807 251 L810 257 L804 259 Z" fill="#b38a2e"/>
    <path d="M811 256 L817 255 L818 260 L812 261 Z" fill="#8a6a22"/>
    <path d="M794 256 L799 255 L799 261 L794 261 Z" fill="#8a6a22"/>
    <path d="M801 261 L807 260 L808 265 L802 266 Z" fill="#d0aa48"/>
    <path d="M811 262 L818 261 L818 267 L812 267 Z" fill="#b38a2e"/>
    <path d="M821 258 L828 258 L827 264 L821 264 Z" fill="#8a6a22"/>
    <ellipse cx="795" cy="250.4" rx="4" ry="2.4" fill="#7bc043"/>
    <ellipse cx="828.5" cy="253" rx="2.3" ry="3.8" fill="#7bc043" transform="rotate(30 828.5 253)"/>
  </g>

  <!-- energy -->
  <circle cx="1042.1" cy="59.3" r="20.3" fill="#fdd714"/>
  <path d="M1040 50.1 H1047.2 L1045 57 L1047.6 57.7 L1040.4 68 L1041.5 60.8 L1037 60.8 Z" fill="#fff"/>
  <rect x="1038.3" y="103.5" width="8.9" height="41.2" fill="#fdd714"/>
  <path d="M1034.2 104.1 L1042.7 95.7 L1051.2 104.1 Z" fill="#fdd714"/>

  <!-- turbine generator -->
  <rect x="1017.1" y="148.1" width="46.7" height="40.4" fill="#0e98ad"/>
  <path d="M1028 151.5 H1057 V158 H1060.4 V179 H1057 V185.7 H1028 V179 H1020.5 V158 H1028 Z" fill="#6d6e71"/>
  <path d="M1066.8 188.5 V168 A6.7 6.7 0 0 1 1080.2 168 V188.5 Z" fill="#0e98ad"/>
  <path d="M1083.2 148.1 H1145.9 V159.5 H1137.9 V188.5 H1083.2 Z" fill="#0e98ad"/>
  <path d="M1137.9 159.5 H1145.9 A8 8 0 0 0 1137.9 167.5 Z" fill="#fff"/>
  <rect x="1060" y="167" width="51.7" height="3.2" fill="#6d6e71"/>
  <path d="M1087.7 155 L1091.2 152.7 V183.4 L1087.7 181 Z" fill="#6d6e71"/>
  <path d="M1094.5 158 L1098.4 156 V180 L1094.5 178 Z" fill="#6d6e71"/>
  <path d="M1101.5 162 L1105.3 160 V176.5 L1101.5 174.5 Z" fill="#6d6e71"/>
  <path d="M1100 163 L1112.8 168.6 L1100 174.5 Z" fill="#6d6e71"/>
  <g fill="none" stroke="#0e98ad" stroke-width="7.6">
    <path d="M1088.2 194.8 V257 A30 30 0 0 0 1118.2 287.2 H1161"/>
    <path d="M1158 154.4 H1189.2 A30 30 0 0 1 1219.2 184.4 V273"/>
  </g>
  <path d="M1160.7 279.2 L1169.8 287.2 L1160.7 295.2 Z" fill="#0e98ad"/>
  <path d="M1158.4 146.4 L1149.3 154.4 L1158.4 162.4 Z" fill="#0e98ad"/>
  <circle cx="1114.6" cy="207.8" r="10.1" fill="#fff" stroke="#0e98ad" stroke-width="2.4"/>
  <text x="1114.6" y="212.1" text-anchor="middle" class="tx hd" font-size="12.5" fill="#0e98ad">7</text>
</g>

<!-- ============ BOTTOM RIGHT ============ -->
<g id="br">
  <!-- tan field -->
  <clipPath id="tanc"><path d="M766.4 735.6 C830 709 905 686 1040 683.3 H1307 V735.8 Z"/></clipPath>
  <path d="M766.4 735.6 C830 709 905 686 1040 683.3 H1307 V735.8 Z" fill="#d0aa4c"/>
  <g clip-path="url(#tanc)" fill="none" stroke="#c4952f" stroke-width="5.6">
    <path d="M766.4 746.1 C830 719.5 905 696.5 1040 693.8 H1307"/>
    <path d="M766.4 761.1 C830 734.5 905 711.5 1040 708.8 H1307"/>
    <path d="M766.4 776.1 C830 749.5 905 726.5 1040 723.8 H1307"/>
  </g>
  <!-- green field -->
  <clipPath id="grc"><path d="M1085 735.8 A93 52.8 0 0 1 1178 683 H1307 V735.8 Z"/></clipPath>
  <path d="M1085 735.8 A93 52.8 0 0 1 1178 683 H1307 V735.8 Z" fill="#6fa84a"/>
  <g clip-path="url(#grc)" fill="none" stroke="#2a7d31" stroke-width="5.8">
    <path d="M1099 760 V735.8 A79 41.6 0 0 1 1178 694.2 H1307"/>
    <path d="M1118 760 V735.8 A60 26.8 0 0 1 1178 709 H1307"/>
    <path d="M1143 760 V735.8 A35 11.8 0 0 1 1178 724 H1307"/>
  </g>
  <!-- spread dust -->
  <g fill="#c9cacc">
    <path d="M814.6 715.7 L838 692 L840 700 L826 712 Z" opacity="0.5"/>
    <circle cx="820" cy="711" r="0.8"/><circle cx="825" cy="706" r="0.8"/><circle cx="830" cy="700" r="0.8"/>
    <circle cx="834" cy="696" r="0.8"/><circle cx="828" cy="708" r="0.8"/><circle cx="823" cy="713" r="0.8"/>
    <circle cx="833" cy="703" r="0.8"/><circle cx="837" cy="699" r="0.8"/>
  </g>
  <!-- trailer -->
  <path d="M838.3 687.8 L904.1 669.4 L907.7 683.7 L841.9 699.7 Z" fill="#fdd714"/>
  <path d="M838.3 687.8 L904.1 669.4 L905 673 L839.2 691.4 Z" fill="#e8c411"/>
  <path d="M860 679.6 Q878 673.5 899 670.6 L899 671.6 L860 680.6 Z" fill="#b9c3d6"/>
  <path d="M843.6 664 L851.9 664 L851.9 667.6 L853.2 689 L849.8 689 L848.6 668.5 Z" fill="#f2cc12"/>
  <rect x="905.5" y="677" width="7" height="3" fill="#e8c411"/>
  <circle cx="848.4" cy="700.3" r="5.3" fill="#808184"/><circle cx="848.4" cy="700.3" r="3.2" fill="#d2d3d5"/>
  <circle cx="861.4" cy="697.3" r="5.3" fill="#808184"/><circle cx="861.4" cy="697.3" r="3.2" fill="#d2d3d5"/>
  <!-- tractor -->
  <path d="M918.9 647.5 L942.4 645.4 L945 671.2 L920 672 Z" fill="#6d6e71"/>
  <path d="M921.9 649.9 H927.8 V655.8 H922.3 Z" fill="#fff"/>
  <path d="M929.6 648.5 L940.6 647.7 L941.2 658.8 L930 659 Z" fill="#fff"/>
  <path d="M941.5 657.6 L970.5 656.4 L971 668.2 L976.5 668.8 L976.5 671.8 L971 672 L960 678.3 L936 679 L934 671 Z" fill="#6aa84a"/>
  <path d="M963 657 L970.5 656.4 L971 668 L965 668 Q962 664 963 657 Z" fill="#2e7f32"/>
  <path d="M952.5 676 A11.5 11.5 0 0 1 974.5 671 L970.5 672 A8 8 0 0 0 956 677.5 Z" fill="#2e7f32"/>
  <path d="M910.5 669 A16 16 0 0 1 940.5 672 L936 679 L933 675 A11 11 0 0 0 913 671 Z" fill="#2e7f32"/>
  <circle cx="923.3" cy="675.4" r="14" fill="#6d6e71"/>
  <circle cx="923.3" cy="675.4" r="9.5" fill="#fdd714"/>
  <circle cx="923.3" cy="675.4" r="1.7" fill="#e8c411"/>
  <circle cx="963.7" cy="676" r="9.2" fill="#6d6e71"/>
  <circle cx="963.7" cy="676" r="4.5" fill="#fdd714"/>
  <circle cx="963.7" cy="676" r="1" fill="#e8c411"/>
  <circle cx="885.3" cy="648.8" r="10.1" fill="#fff" stroke="#7a5a1e" stroke-width="2.4"/>
  <text x="885.3" y="652.4" text-anchor="middle" class="tx hd" font-size="11.2" letter-spacing="-0.6" fill="#7a5a1e">10</text>

  <!-- silos -->
  <path d="M1128 683 V620.8 A10.9 10.9 0 0 1 1149.8 620.8 V683 Z" fill="#e6e6e7"/>
  <path d="M1104.2 683 V649.8 H1134.5 V683 Z" fill="#d2d3d5"/>
  <path d="M1104.2 649.8 A15.15 14.7 0 0 1 1134.5 649.8 Z" fill="#a9aaad"/>
  <path d="M1258.3 683 V639.2 H1280.7 V683 Z" fill="#e6e6e7"/>
  <path d="M1258.3 639.2 A11.2 10.4 0 0 1 1280.7 639.2 Z" fill="#d0d1d3"/>
  <!-- barn -->
  <path d="M1149.8 653.6 L1169.9 646.2 L1179.4 622.9 L1204.2 612.3 L1229.2 622.9 L1237.7 646.2 L1257.8 653.6 V683.3 H1149.8 Z" fill="#ef5446" stroke="#d9d9db" stroke-width="1.6" stroke-linejoin="miter"/>
  <rect x="1170.6" y="644" width="66.4" height="4.3" fill="#a5342a"/>
  <rect x="1150.6" y="675.8" width="106.4" height="7.5" fill="#a5342a"/>
  <rect x="1184" y="651.9" width="41" height="31.4" fill="#e6e6e7"/>
  <rect x="1186.7" y="654.6" width="35.6" height="28.7" fill="#9e3026"/>
  <g stroke="#e6e6e7" stroke-width="1.8"><path d="M1204.5 654.6 V683.3 M1187.5 655.5 L1204.5 683 M1221.5 655.5 L1204.5 683"/></g>
  <path d="M1200.5 634 V630 A3.7 3.7 0 0 1 1207.9 630 V634 Z" fill="#a5342a"/>
  <rect x="1197" y="633.8" width="14" height="3" fill="#e6e6e7"/>
  <rect x="1154" y="665.2" width="10" height="18.1" fill="#a9aaad"/><rect x="1154" y="665.2" width="10" height="2.5" fill="#808184"/><rect x="1154" y="680" width="10" height="3.3" fill="#808184"/>
  <rect x="1244" y="665.2" width="10" height="18.1" fill="#a9aaad"/><rect x="1244" y="665.2" width="10" height="2.5" fill="#808184"/><rect x="1244" y="680" width="10" height="3.3" fill="#808184"/>

  <!-- reeling line -->
  <g fill="#b9babd">
    <rect x="646" y="744.1" width="92" height="7.7"/>
    <rect x="784" y="744.1" width="72.8" height="7.7"/>
    <rect x="910" y="744.1" width="79.9" height="7.7"/>
    <rect x="1052.3" y="744.1" width="71" height="7.7"/>
  </g>
  <circle cx="1123.3" cy="747.9" r="14.3" fill="#fff"/>
  <circle cx="1123.3" cy="747.9" r="9.5" fill="#b9babd"/>

  <!-- green loop -->
  <g fill="none" stroke="#6ca544" stroke-width="7.8">
    <path d="M1142 748 H1188.7 A29.5 29.5 0 0 1 1218.2 777.5 V779.5"/>
    <path d="M1218.2 869.7 V870.5 A29.5 29.5 0 0 1 1188.7 900 H1127"/>
  </g>
  <path d="M1210.8 778.9 H1226.7 L1218.7 786.8 Z" fill="#6ca544"/>
  <path d="M1128 891.7 L1119.6 900 L1128 908.3 Z" fill="#6ca544"/>
  <!-- recycle -->
  <g transform="translate(1094.6 900.4)" fill="#6ca544">
    <g id="rc1"><path d="M-13 8.9 H-2.6 V15.4 H-13 A3.25 3.25 0 0 1 -13 8.9 Z M0.8 12.1 L5 5.6 V8.9 H16 L11.5 15.4 H5 V18.8 Z"/></g>
    <use href="#rc1" transform="rotate(120)"/>
    <use href="#rc1" transform="rotate(240)"/>
  </g>
  <circle cx="1057.6" cy="900.3" r="10.1" fill="#fff" stroke="#6ca544" stroke-width="2.4"/>
  <text x="1057.6" y="903.9" text-anchor="middle" class="tx hd" font-size="11.2" letter-spacing="-0.6" fill="#6ca544">12</text>

  <!-- people -->
  <g>
    <path d="M1193.7 806.8 V800 A7.4 7.4 0 0 1 1208.5 800 V806.8 Z" fill="#8b5a2b"/>
    <circle cx="1201.1" cy="802" r="5" fill="#c49564"/>
    <path d="M1195 798 Q1201 792 1207.5 798 Z" fill="#8b5a2b"/>
    <path d="M1192.9 813.5 Q1195.5 808.8 1201.1 808.6 V817.6 Z" fill="#a9dcec"/>
    <path d="M1209.7 813.5 Q1206.7 808.8 1201.1 808.6 V817.6 Z" fill="#0e98ad"/>
    <ellipse cx="1189.8" cy="820.5" rx="1.5" ry="2.4" fill="#c49564"/>
    <ellipse cx="1212.8" cy="820.5" rx="1.5" ry="2.4" fill="#c49564"/>
    <path d="M1196 829.1 L1201.1 830.5 V844 H1191.7 Z" fill="#a9dcec"/>
    <path d="M1207.8 829.1 L1201.1 830.5 V844 H1210.9 Z" fill="#0e98ad"/>
    <path d="M1197.6 844.7 H1205 L1204 857.2 H1198.6 Z" fill="#c49564"/>
    <rect x="1197.2" y="857" width="8" height="2" fill="#a9dcec"/>
    <circle cx="1235.1" cy="801" r="6.5" fill="#c49564"/>
    <path d="M1228.6 800 A6.5 6.5 0 0 1 1241.6 800 Q1236 797 1232 795.5 Q1230 798.5 1228.6 800 Z" fill="#3e2314"/>
    <path d="M1226.9 813.5 Q1229.5 808.8 1235.3 808.6 V817.6 Z" fill="#ee5345"/>
    <path d="M1243.7 813.5 Q1240.7 808.8 1235.3 808.6 V817.6 Z" fill="#a5342a"/>
    <ellipse cx="1223.4" cy="820.5" rx="1.5" ry="2.4" fill="#c49564"/>
    <ellipse cx="1246.8" cy="820.5" rx="1.5" ry="2.4" fill="#c49564"/>
    <path d="M1226.9 828.3 L1235 831 V833 H1226.9 Z" fill="#ee5345"/>
    <path d="M1242.9 828.3 L1235 831 V833 H1242.9 Z" fill="#a5342a"/>
    <rect x="1237.9" y="833" width="5" height="25.8" fill="#6d6e71"/>
    <path d="M1226.9 833.8 L1250.4 840 L1249 848.2 L1246 848.2 L1246.5 843 L1226.9 839 Z" fill="#555a8e"/>
    <rect x="1220.7" y="827.1" width="3.5" height="31.7" fill="#3e2314"/>
    <rect x="1220.7" y="844.7" width="14" height="3.5" fill="#3e2314"/>
    <rect x="1231.2" y="844.7" width="3.5" height="14.1" fill="#3e2314"/>
  </g>

  <!-- other materials icons -->
  <rect x="708.9" y="767.3" width="30.1" height="17.4" fill="#6d6e71"/>
  <path d="M708.9 767.3 H739 V784.7 Z" fill="#79797c"/>
  <rect x="739" y="767.3" width="11.9" height="17.4" fill="#fdd714"/>
  <circle cx="744.4" cy="775.7" r="3.3" fill="#fff"/>
  <rect x="751" y="772" width="3" height="7.3" fill="#c9cacc"/>
  <!-- box -->
  <path d="M701.2 796 H727 L735 803.6 H708.9 Z" fill="#5e3a1c"/>
  <path d="M768.4 796 H742.5 L735 803.6 H760.8 Z" fill="#8c5a2e"/>
  <rect x="708.9" y="803.6" width="26.1" height="28" fill="#7a4a26"/>
  <path d="M708.9 831.6 L735 803.6 V831.6 Z" fill="#8c5a30"/>
  <rect x="735" y="803.6" width="25.8" height="28" fill="#a0703f"/>
  <path d="M742 820 V826.5 M749.5 820 V826.5" stroke="#5e3a1c" stroke-width="2"/>
  <path d="M739.8 820.5 L742 816.5 L744.2 820.5 Z M747.3 820.5 L749.5 816.5 L751.7 820.5 Z" fill="#5e3a1c"/>
  <!-- drum -->
  <rect x="778" y="792.8" width="27.9" height="38.8" fill="#6d6e71"/>
  <rect x="778" y="798.3" width="27.9" height="2.5" fill="#c9cacc"/>
  <rect x="778" y="815.5" width="27.9" height="2.4" fill="#9a9b9e"/>
  <rect x="777" y="829" width="29.9" height="2.6" fill="#a9aaad"/>
  <circle cx="728.7" cy="849.0" r="10.1" fill="#fff" stroke="#6d6e71" stroke-width="2.4"/>
  <text x="728.7" y="852.6" text-anchor="middle" class="tx hd" font-size="11.2" letter-spacing="-0.6" fill="#6d6e71">11</text>
  <!-- pallets -->
  <g>
    <rect x="708.9" y="868.9" width="50.1" height="9.5" fill="#d0aa48"/>
    <rect x="708.9" y="879.6" width="50.1" height="9.5" fill="#d0aa48"/>
    <rect x="708.9" y="890.3" width="50.1" height="10.3" fill="#d0aa48"/>
    <g fill="#7d5a1c">
      <rect x="708.9" y="868.9" width="50.1" height="2"/><rect x="708.9" y="876.4" width="50.1" height="2"/>
      <rect x="708.9" y="879.6" width="50.1" height="2"/><rect x="708.9" y="887.1" width="50.1" height="2"/>
      <rect x="708.9" y="890.3" width="50.1" height="2"/><rect x="708.9" y="898.6" width="50.1" height="2"/>
    </g>
    <g fill="#fff">
      <rect x="717" y="871.7" width="12" height="3.8"/><rect x="738" y="871.7" width="12" height="3.8"/>
      <rect x="717" y="882.4" width="12" height="3.8"/><rect x="738" y="882.4" width="12" height="3.8"/>
      <rect x="717" y="893.3" width="12" height="4.2"/><rect x="738" y="893.3" width="12" height="4.2"/>
    </g>
    <g transform="translate(753 855) rotate(-29)">
      <rect x="0" y="0" width="7" height="51" fill="#d0aa48"/>
      <rect x="0" y="0" width="1.8" height="51" fill="#7d5a1c"/><rect x="5.2" y="0" width="1.8" height="51" fill="#7d5a1c"/>
      <rect x="1.8" y="8" width="3.4" height="12" fill="#fff"/><rect x="1.8" y="28" width="3.4" height="13" fill="#fff"/>
    </g>
  </g>
  <!-- bulb -->
  <g>
    <path d="M787.8 874.8 H805.9 V879 L803 887 H790.7 L787.8 879 Z" fill="#cfd0d2"/>
    <rect x="787.8" y="874.8" width="18.1" height="3" fill="#6d6e71"/>
    <path d="M792 887 H801.7 L800 893 Q796.8 896 793.7 893 Z" fill="#6d6e71"/>
    <rect x="791" y="866" width="2.5" height="9" fill="#fdd714"/><rect x="800.5" y="866" width="2.5" height="9" fill="#fdd714"/>
    <ellipse cx="797" cy="851" rx="7" ry="2.6" fill="#fdd714"/>
    <ellipse cx="797" cy="856" rx="9.5" ry="2.8" fill="#fdd714"/>
    <ellipse cx="797" cy="861.5" rx="10.5" ry="2.8" fill="#fdd714"/>
    <ellipse cx="797" cy="866.5" rx="9" ry="2.6" fill="#fdd714"/>
  </g>
</g>

<!-- left labels -->
<g class="lb">
  <text x="76.8" y="403" class="lb">WOOD CHIPS</text>
  <text x="359.8" y="322.8" class="lb">DIGESTER</text>
  <text x="533" y="388.2" class="lb" text-anchor="middle">FIBER</text>
  <text x="379.2" y="506" class="lb">WHITE LIQUOR</text>
  <text x="97.6" y="537.3" class="lb">REFINING</text>
  <text x="203.8" y="537.3" class="lb">PROCESSING &amp; SCREENING</text>
  <text x="387" y="537.3" class="lb">BLEACHING</text>
  <text x="443.2" y="553.4" class="lb">PCC</text>
  <text x="26" y="751" class="lb">SHEET FORMING</text>
  <text x="157.8" y="751" class="lb">PRESSING</text>
  <text x="280.8" y="751" class="lb">DRYING</text>
  <text x="395.6" y="751" class="lb">COATING</text>
  <text x="503" y="751" class="lb">CALENDERING</text>
</g>
<!-- right labels -->
<g class="lb">
  <text x="729.8" y="90.6" text-anchor="middle">CONSTRUCTION</text>
  <text x="729.8" y="99.7" text-anchor="middle">DEMOLITION</text>
  <text x="811.1" y="90.6" text-anchor="middle">RECOVERED</text>
  <text x="811.1" y="99.7" text-anchor="middle">OIL</text>
  <text x="880.9" y="99.7">MULTI-FUEL</text>
  <text x="880.9" y="109.8">BOILER</text>
  <text x="729.7" y="281.8" text-anchor="middle">TIRE</text>
  <text x="811.2" y="281.8" text-anchor="middle">BIOMASS</text>
  <text x="1042.1" y="90.8" text-anchor="middle">ENERGY</text>
  <text x="1145.9" y="178.9">TURBINE</text>
  <text x="1145.9" y="188.5">GENERATOR</text>
  <text x="1246.6" y="322.7">RECOVERY</text>
  <text x="1246.6" y="332">BOILER</text>
  <text x="1219.3" y="414" text-anchor="middle">SMELT</text>
  <text x="717" y="323.4">WEAK BLACK LIQUOR</text>
  <text x="1017" y="323.4">STRONG BLACK LIQUOR</text>
  <text x="1035" y="506.3">GREEN LIQUOR</text>
  <text x="942.3" y="470.8">SLAKER</text>
  <text x="895.8" y="440.7">LIME KILN</text>
  <text x="836.7" y="412.2">CO<tspan font-size="5.5" dy="1">2</tspan></text>
  <text x="764" y="355.7">PCC PLANT</text>
  <text x="743.6" y="750.8">REELING</text>
  <text x="862.4" y="750.8">FINISHING</text>
  <text x="996.7" y="750.8">PACKAGING</text>
</g>

<!-- title & intro -->
<text x="14" y="47.2" class="tx hd" font-size="24.8" fill="#6ea647" textLength="336.3">Efficient Use of Materials and</text>
<text x="14" y="75.1" class="tx hd" font-size="24.8" fill="#6ea647" textLength="223.2">Waste Minimization</text>
<text class="tx" font-size="15.7" fill="#6d6e71"><tspan x="14" y="115" textLength="458">In manufacturing our products, we utilize each and every input to the</tspan><tspan x="14" y="135.6" textLength="479">greatest possible degree. By integrating flow loops into critical stages</tspan><tspan x="14" y="155.7" textLength="453.2">of the manufacturing process, we can capture and re-use excess</tspan><tspan x="14" y="175.9" textLength="479.5">material, and we further minimize waste to landfill by recycling anything</tspan><tspan x="14" y="196.3" textLength="108">we can’t re-use.</tspan></text>
<!--TEXTS-->
<text class="tx" font-size="7.7" fill="#5f4824" stroke="#5f4824" stroke-width="0.15"><tspan x="13.8" y="270.9" font-weight="bold" fill="#5e4622" stroke="none" textLength="72.7">1. Natural Synergies</tspan><tspan x="13.8" y="280.8" textLength="213.8">The forest products industry seeks out natural synergies to put</tspan><tspan x="13.8" y="290.75" textLength="225.3">wood to its most efficient use. For example, a saw mill will typically</tspan><tspan x="13.8" y="300.7" textLength="207.5">yield 50-60 percent of wood as timber, roughly 30 percent as</tspan><tspan x="13.8" y="310.65" textLength="226.2">chips and the remainder as shavings, sawdust and bark. Shavings</tspan><tspan x="13.8" y="320.6" textLength="207.5">and sawdust are further processed to make structural panels</tspan><tspan x="13.8" y="330.55" textLength="218.2">(e.g., medium-density fiberboard) and the paper industry utilizes</tspan><tspan x="13.8" y="340.5" textLength="167.5">chips as a fiber source and bark for biomass fuel.</tspan></text>
<text class="tx" font-size="7.5" fill="#6ea24a" stroke="#6ea24a" stroke-width="0.15"><tspan x="461.1" y="240.4" font-weight="bold">2b.</tspan><tspan> The dissolved organic materials</tspan><tspan x="461.1" y="250.7" textLength="129.3">(lignin and hemicelluloses) are washed</tspan><tspan x="461.1" y="261.0" textLength="127.1">out of the pulp along with the cooking</tspan><tspan x="461.1" y="271.3" textLength="107.7">chemicals, creating black liquor.</tspan></text>
<text class="tx" font-size="7.69" fill="#6ea24a" stroke="#6ea24a" stroke-width="0.15"><tspan x="403.4" y="338.6" font-weight="bold">2a.</tspan><tspan> White liquor is added</tspan><tspan x="403.4" y="348.87" textLength="87.6">to the digester under heat</tspan><tspan x="403.4" y="359.14" textLength="71.6">and pressure to cook</tspan><tspan x="403.4" y="369.41" textLength="41.3">wood chips.</tspan></text>
<text class="tx" font-size="7.68" fill="#6ea24a" stroke="#6ea24a" stroke-width="0.15"><tspan x="309.6" y="418.8" font-weight="bold" fill="#6ea24a" stroke="none" textLength="78.0">2. Chemical Recovery</tspan><tspan x="309.6" y="429.0" textLength="180.9">The chemical recovery process is the core of the kraft</tspan><tspan x="309.6" y="439.14" textLength="188.5">pulping process that converts trees into pulp for making</tspan><tspan x="309.6" y="449.28" textLength="181.8">paper and specialised cellulose used in the production</tspan><tspan x="309.6" y="459.42" textLength="189.4">of textiles. This complex system of flow loops generates</tspan><tspan x="309.6" y="469.56" textLength="184.4">renewable energy while recycling chemicals so they can</tspan><tspan x="309.6" y="479.7" textLength="131.3">be used again for cooking wood chips.</tspan></text>
<text class="tx" font-size="7.8" fill="#f06c23" stroke="#f06c23" stroke-width="0.15"><tspan x="62.9" y="572.8" font-weight="bold" fill="#f06c23" stroke="none" textLength="147.1">3. Precipitated Calcium Carbonate (PCC)</tspan><tspan x="62.9" y="582.7" textLength="255.0">PCC is made on-site and used as filler in both the fibrous center layer and</tspan><tspan x="62.9" y="592.9" textLength="248.1">coatings applied to the surfaces of paper. This useful pigment imparts the</tspan><tspan x="62.9" y="603.1" textLength="255.0">optical properties of brightness, whiteness and opacity to paper. And, when</tspan><tspan x="62.9" y="613.3" textLength="242.6">blended in paper coatings with other pigments, PCC provides improved</tspan><tspan x="62.9" y="623.5" textLength="249.0">surface smoothness and uniform ink holdout due to the ability to control</tspan><tspan x="62.9" y="633.7" textLength="188.8">particle size and shape during the precipitation process.</tspan></text>
<text class="tx" font-size="7.68" fill="#2592b3" stroke="#2592b3" stroke-width="0.15"><tspan x="13.9" y="828.7" font-weight="bold" fill="#1f8aad" stroke="none" textLength="63.2">4. Broke Systems</tspan><tspan x="13.9" y="838.9" textLength="332.9">Paper machines occasionally face upsets that break the continuous web of paper being produced.</tspan><tspan x="13.9" y="849.03" textLength="325.4">Collection systems capture and recycle the broken paper so that no material goes to waste. This</tspan><tspan x="13.9" y="859.16" textLength="330.7">internally recycled “broke,” which is captured in two flow loops, does not count toward recycled</tspan><tspan x="13.9" y="869.29" textLength="320.8">content claims. “Off-machine broke” consisting of edge trim paper is collected and re-pulped.</tspan><tspan x="13.9" y="879.42" textLength="326.1">“On-machine broke” is collected by large tanks located beneath the machine. The broke tanks</tspan><tspan x="13.9" y="889.55" textLength="319.0">have rotors that re-pulp/mix the collected material for recycling into the stock at the wet end of</tspan><tspan x="13.9" y="899.68" textLength="300.1">the machine. 100 percent of this on-machine generated broke is re-used to make paper.</tspan></text>
<text class="tx" font-size="7.46" fill="#4e5089" stroke="#4e5089" stroke-width="0.15"><tspan x="382.7" y="828.7" font-weight="bold" fill="#4e5089" stroke="none" textLength="67.5">5. Coating Reclaim</tspan><tspan x="382.7" y="838.3" textLength="200.6">Our mills manufacture various grades of coated paper on the</tspan><tspan x="382.7" y="848.45" textLength="188.0">same equipment, each with uniquely designed coating</tspan><tspan x="382.7" y="858.6" textLength="198.4">formulations. In the past, leftover coating material from one</tspan><tspan x="382.7" y="868.75" textLength="184.8">grade would be diverted to the waste treatment plant</tspan><tspan x="382.7" y="878.9" textLength="194.6">during a grade changeover. Now, all three of our mills have</tspan><tspan x="382.7" y="889.05" textLength="179.6">coating reclaim systems that capture leftover material,</tspan><tspan x="382.7" y="899.2" textLength="81.8">allowing it to be re-used.</tspan></text>
<text class="tx" font-size="7.59" fill="#f06c23" stroke="#f06c23" stroke-width="0.15"><tspan x="860.3" y="213.5" font-weight="bold" fill="#f06c23" stroke="none" textLength="117.7">6. Biomass and Alternative Fuels</tspan><tspan x="860.3" y="223.9" textLength="185.5">By working collaboratively, we are able to collect waste</tspan><tspan x="860.3" y="234.0" textLength="197.9">streams from other industries and utilize these materials as</tspan><tspan x="860.3" y="244.1" textLength="182.6">energy sources for our mills. Our Somerset Mill utilizes</tspan><tspan x="860.3" y="254.2" textLength="196.2">tire-derived fuel, and our Westbrook Mill uses construction</tspan><tspan x="860.3" y="264.3" textLength="189.6">and demolition wood as alternative fuel sources keeping</tspan><tspan x="860.3" y="274.4" textLength="187.2">these materials out of landfills and reducing the need to</tspan><tspan x="860.3" y="284.5" textLength="201.1">purchase fossil fuels. Both of these mills also use recovered</tspan><tspan x="860.3" y="294.6" textLength="86.5">waste oil as a fuel source.</tspan></text>
<text class="tx" font-size="7.39" fill="#2592b3" stroke="#2592b3" stroke-width="0.15"><tspan x="1085.8" y="34.5" font-weight="bold" fill="#1f8aad" stroke="none" textLength="130.4">7. Water Re-use/Condensate Return</tspan><tspan x="1085.8" y="45.7" textLength="181.2">There are water re-use loops in many parts of our mills.</tspan><tspan x="1085.8" y="55.76" textLength="172.5">One important example is found in the production of</tspan><tspan x="1085.8" y="65.82" textLength="175.5">electricity from steam. Turbine generators produce</tspan><tspan x="1085.8" y="75.88" textLength="170.9">electricity by extracting energy from high-pressure</tspan><tspan x="1085.8" y="85.94" textLength="179.7">steam coming from the recovery and hog fuel boilers,</tspan><tspan x="1085.8" y="96.0" textLength="176.3">and condensed water is a by-product of this process.</tspan><tspan x="1085.8" y="106.06" textLength="179.7">This valuable purified water is captured and reused in</tspan><tspan x="1085.8" y="116.12" textLength="175.5">the continuously operating steam production system.</tspan></text>
<text class="tx" font-size="7.64" fill="#4e5089" stroke="#4e5089" stroke-width="0.15"><tspan x="709.1" y="429.2" font-weight="bold" fill="#4e5089" stroke="none" textLength="42.1">8. Lime Kiln</tspan><tspan x="709.1" y="439.4" textLength="121.8">In transforming green liquor to white</tspan><tspan x="709.1" y="449.6" textLength="103.6">liquor, lime mud is formed as a</tspan><tspan x="709.1" y="459.8" textLength="111.9">by-product. However, this mud is</tspan><tspan x="709.1" y="470.0" textLength="113.0">processed on-site in a lime kiln to</tspan><tspan x="709.1" y="480.2" textLength="66.7">regenerate the lime.</tspan></text>
<text class="tx" font-size="7.64" fill="#6ea24a" stroke="#6ea24a" stroke-width="0.15"><tspan x="1053.6" y="343.6" font-weight="bold">2c.</tspan><tspan> The organic material in the black</tspan><tspan x="1053.6" y="353.78" textLength="130.8">liquor is burned to generate steam and</tspan><tspan x="1053.6" y="363.96" textLength="127.5">electricity for the mill, and the cooking</tspan><tspan x="1053.6" y="374.14" textLength="119.3">chemicals flow to the bottom of the</tspan><tspan x="1053.6" y="384.32" textLength="119.3">recovery boiler to form green liquor.</tspan></text>
<text class="tx" font-size="7.59" fill="#6ea24a" stroke="#6ea24a" stroke-width="0.15"><tspan x="1053.6" y="466.4" font-weight="bold">2d.</tspan><tspan> Green liquor is mixed with lime to</tspan><tspan x="1053.6" y="476.7" textLength="133.7">regenerate white liquor, thus closing the</tspan><tspan x="1053.6" y="487.0" textLength="80.2">chemical recovery loop.</tspan></text>
<text class="tx" font-size="7.6" fill="#f06c23" stroke="#f06c23" stroke-width="0.15"><tspan x="709.4" y="534.4" font-weight="bold" fill="#f06c23" stroke="none" textLength="45.3">9. PCC Plant</tspan><tspan x="709.4" y="544.9" textLength="261.6">PCC is a primary ingredient in making coated papers. Both our Somerset and</tspan><tspan x="709.4" y="554.98" textLength="273.0">Cloquet mills have PCC generating plants on site. These plants, located adjacent</tspan><tspan x="709.4" y="565.06">to our pulp mills, draw CO<tspan font-size='70%' dy='1.2'>2</tspan><tspan dy='-1.2'> out of the flue gas from the lime kiln and use it to form</tspan></tspan><tspan x="709.4" y="575.14">this specialty pigment. Binding the CO<tspan font-size='70%' dy='1.2'>2</tspan><tspan dy='-1.2'> with calcium in the PCC plant captures</tspan></tspan><tspan x="709.4" y="585.22" textLength="171.1">this greenhouse gas, reducing our GHG emissions.</tspan></text>
<text class="tx" font-size="7.44" fill="#5f4824" stroke="#5f4824" stroke-width="0.15"><tspan x="1002.2" y="534.4" font-weight="bold" fill="#5e4622" stroke="none" textLength="118.8">10. Benefitting from our products</tspan><tspan x="1002.2" y="544.9" textLength="271.6">Our Cloquet and Somerset mills have identified local partners that can utilize some</tspan><tspan x="1002.2" y="554.98" textLength="276.0">of our mill by-products as a soil amendment, providing nutrients and pH adjustment</tspan><tspan x="1002.2" y="565.06" textLength="277.9">to their land. These materials are offered at no cost and provide significant benefit</tspan><tspan x="1002.2" y="575.14" textLength="277.9">to local farmers while reducing our contribution to landfills. Dirt washed off logs at</tspan><tspan x="1002.2" y="585.22" textLength="209.4">our Cloquet Mill is used as an underlayment for road building.</tspan></text>
<text class="tx" font-size="7.38" fill="#5a5b5e" stroke="#5a5b5e" stroke-width="0.15"><tspan x="826.6" y="774.7" font-weight="bold" fill="#4d4e51" stroke="none" textLength="68.4">11. Other Materials</tspan><tspan x="826.6" y="786.1" textLength="153.4">A wide array of materials is recovered, reused</tspan><tspan x="826.6" y="796.1" textLength="143.5">and recycled at each of our mills, including</tspan><tspan x="826.6" y="806.1" textLength="153.2">pallets, drums, light bulbs, e-waste, batteries,</tspan><tspan x="826.6" y="816.1" textLength="146.3">cardboard, scrap metal, asphalt, packaging</tspan><tspan x="826.6" y="826.1" textLength="151.5">materials and more. In 2014, our Cloquet Mill</tspan><tspan x="826.6" y="836.1" textLength="153.8">partnered with PHASE, a local non-profit, and</tspan><tspan x="826.6" y="846.1" textLength="158.0">recycled over 180,000 lbs of materials that had</tspan><tspan x="826.6" y="856.1" textLength="151.5">previously been burned on site as fuel. When</tspan><tspan x="826.6" y="866.1" textLength="160.0">possible, used equipment is sold for refurbishing.</tspan></text>
<text class="tx" font-size="7.42" fill="#6ea24a" stroke="#6ea24a" stroke-width="0.15"><tspan x="1001.9" y="774.7" font-weight="bold" fill="#6ea24a" stroke="none" textLength="93.2">12. Beyond Our Mill Gates</tspan><tspan x="1001.9" y="786.1" textLength="162.5">Paper and paperboard are recovered for re-use</tspan><tspan x="1001.9" y="796.1" textLength="155.6">at very high rates compared to other valuable</tspan><tspan x="1001.9" y="806.1" textLength="168.0">materials such as plastics and metals. Our coated</tspan><tspan x="1001.9" y="816.1" textLength="159.7">papers can and should be recycled. Sappi is a</tspan><tspan x="1001.9" y="826.1" textLength="173.5">strong advocate for recycling and waste minimization</tspan><tspan x="1001.9" y="836.1" textLength="163.9">of all valuable material types, and we encourage</tspan><tspan x="1001.9" y="846.1" textLength="170.8">our customers, suppliers and community partners</tspan><tspan x="1001.9" y="856.1" textLength="162.8">to promote recycling and to themselves recycle</tspan><tspan x="1001.9" y="866.1" textLength="168.7">as much, as often and as responsibly as they can.</tspan></text>
<!--/TEXTS-->
<!-- divider -->
<rect x="646" y="0" width="2" height="921" fill="#474747"/>
</svg>
</body></html>
